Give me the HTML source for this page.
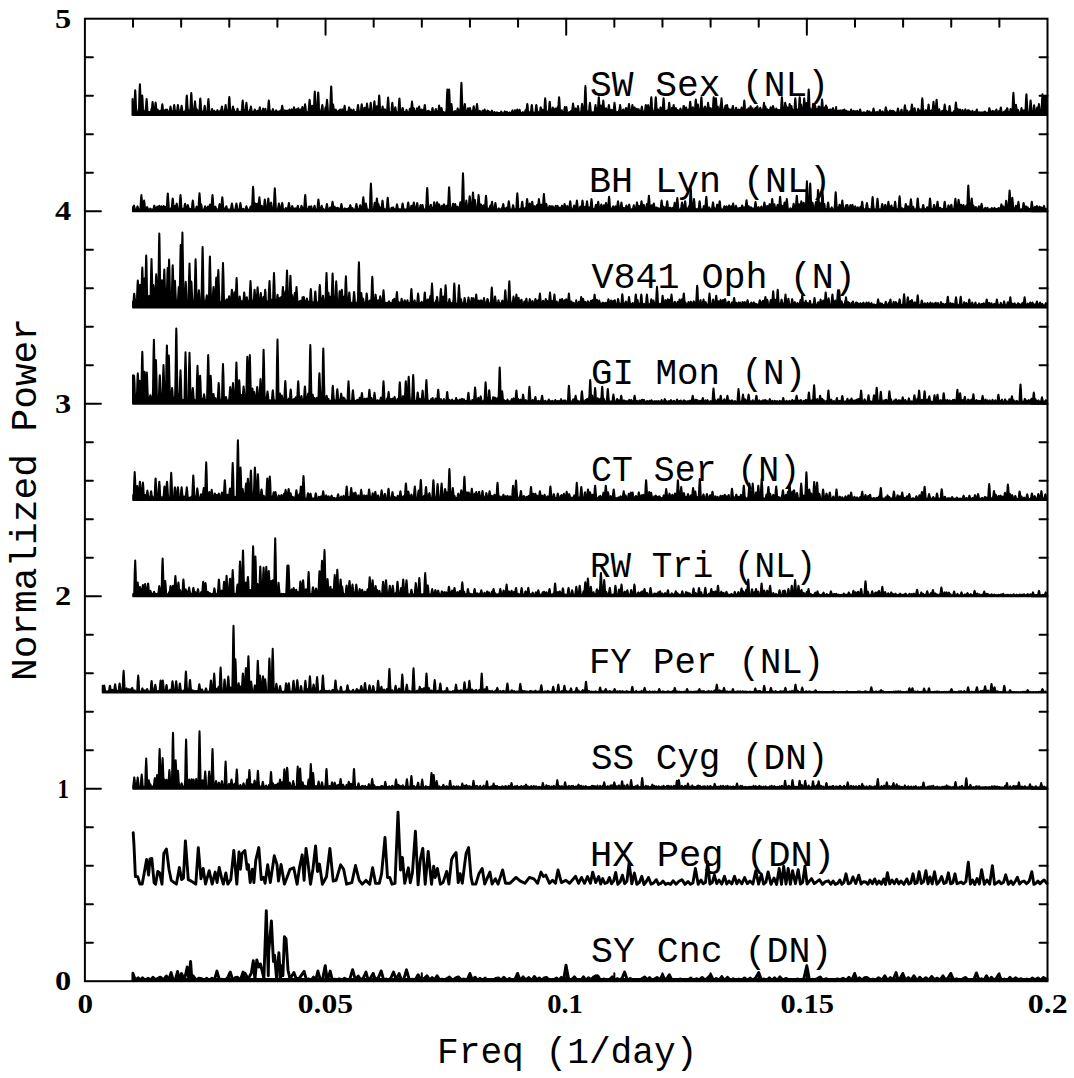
<!DOCTYPE html>
<html><head><meta charset="utf-8"><style>
html,body{margin:0;padding:0;background:#fff;}
svg{display:block;}
</style></head><body>
<svg width="1074" height="1078" viewBox="0 0 1074 1078">
<rect width="1074" height="1078" fill="#fff"/>
<g fill="#000" stroke="#000" stroke-width="2" stroke-linejoin="round" stroke-linecap="round">
<path d="M132.5 115.0L132.5 99.0 132.5 112.5 133.0 112.1 133.5 111.9 134.0 112.4 134.5 103.7 135.0 92.3 135.2 90.2 135.5 94.0 136.0 106.7 136.5 112.2 137.0 112.2 137.5 112.3 138.0 112.4 138.5 112.4 139.0 108.6 139.5 91.4 139.9 84.2 140.0 85.1 140.5 97.5 141.0 112.1 141.5 106.1 142.0 97.0 142.2 95.4 142.5 98.4 143.0 108.4 143.5 111.7 144.0 112.2 144.5 111.8 145.0 112.2 145.5 112.0 146.0 106.0 146.5 99.6 146.6 99.1 147.0 102.8 147.5 111.7 148.0 111.8 148.5 111.9 149.0 112.1 149.5 112.1 150.0 111.9 150.5 111.7 151.0 111.5 151.5 109.0 152.0 107.6 152.5 102.4 152.6 102.0 153.0 105.1 153.5 111.5 154.0 112.1 154.5 112.0 155.0 107.9 155.5 102.9 155.6 102.5 156.0 105.4 156.5 111.8 157.0 109.2 157.5 112.1 158.0 110.8 158.2 110.3 158.5 110.9 159.0 111.6 159.5 111.7 160.0 112.2 160.5 110.8 160.6 110.7 161.0 111.7 161.5 111.4 162.0 105.9 162.3 104.3 162.5 105.2 163.0 110.1 163.5 111.8 164.0 112.4 164.5 111.7 165.0 110.3 165.3 109.7 165.5 110.3 166.0 111.9 166.5 111.4 167.0 109.5 167.0 109.5 167.5 111.3 168.0 112.2 168.5 111.7 169.0 111.9 169.5 111.8 170.0 109.3 170.5 106.5 171.0 109.3 171.5 112.2 172.0 111.7 172.5 111.7 173.0 111.9 173.5 110.4 174.0 105.8 174.2 105.0 174.5 106.5 175.0 111.7 175.5 111.8 176.0 111.6 176.5 111.7 177.0 112.3 177.5 107.4 177.9 105.0 178.0 105.3 178.5 109.3 179.0 112.0 179.5 112.0 180.0 112.3 180.5 112.5 181.0 109.8 181.5 106.1 181.6 105.8 182.0 108.0 182.5 111.7 183.0 112.0 183.5 112.5 184.0 112.5 184.5 111.6 185.0 111.8 185.5 111.7 186.0 108.4 186.5 98.4 186.8 95.4 187.0 97.0 187.5 106.1 188.0 111.9 188.5 110.3 189.0 111.9 189.5 111.6 190.0 112.4 190.5 107.7 191.0 96.4 191.3 93.1 191.5 94.9 192.0 105.0 192.5 112.0 193.0 112.4 193.5 112.2 194.0 112.4 194.5 105.8 195.0 101.3 195.5 105.8 196.0 109.9 196.5 111.7 197.0 109.6 197.1 109.5 197.5 110.9 198.0 112.1 198.5 112.5 199.0 112.3 199.5 109.4 200.0 100.9 200.3 98.4 200.5 99.8 201.0 107.4 201.5 112.4 202.0 111.6 202.5 111.7 203.0 111.6 203.5 111.6 204.0 110.8 204.5 106.6 204.7 105.8 205.0 107.2 205.5 111.9 206.0 111.6 206.5 112.0 207.0 112.0 207.5 111.7 208.0 102.8 208.4 99.1 208.5 99.6 209.0 106.0 209.5 112.5 210.0 112.2 210.5 112.3 211.0 112.3 211.5 111.7 212.0 109.2 212.1 109.0 212.5 110.3 213.0 111.7 213.5 112.0 214.0 111.0 214.2 110.7 214.5 111.4 215.0 111.6 215.5 111.9 216.0 112.1 216.5 112.2 217.0 111.3 217.4 110.1 217.5 110.2 218.0 111.9 218.5 111.9 219.0 111.7 219.5 112.3 220.0 111.5 220.4 110.5 220.5 110.6 221.0 111.8 221.5 108.5 221.9 106.5 222.0 106.7 222.5 110.2 223.0 112.2 223.5 112.4 224.0 112.4 224.5 111.6 225.0 109.3 225.5 105.3 225.6 105.0 226.0 107.4 226.5 111.5 227.0 112.1 227.5 112.5 228.0 111.7 228.5 108.9 229.0 99.7 229.3 96.9 229.5 98.4 230.0 106.8 230.5 112.4 231.0 112.0 231.5 112.1 232.0 112.2 232.5 109.3 233.0 106.5 233.5 109.3 234.0 109.5 234.5 112.3 235.0 112.4 235.5 111.9 236.0 111.7 236.5 112.4 237.0 110.8 237.5 108.8 238.0 110.8 238.5 112.1 239.0 111.6 239.5 111.8 240.0 112.1 240.5 112.4 241.0 111.7 241.5 111.5 242.0 108.4 242.5 101.8 242.7 100.6 243.0 102.8 243.5 110.1 244.0 109.6 244.5 111.9 245.0 111.9 245.5 112.1 246.0 105.7 246.4 102.8 246.5 103.2 247.0 108.1 247.5 112.4 248.0 111.8 248.5 112.5 249.0 112.3 249.5 111.6 250.0 110.2 250.5 108.5 250.9 106.5 251.0 106.7 251.5 110.2 252.0 112.2 252.5 111.5 253.0 112.3 253.5 111.8 254.0 111.7 254.5 110.2 254.8 109.5 255.0 110.1 255.5 112.0 256.0 112.1 256.5 112.2 257.0 111.7 257.4 110.7 257.5 110.8 258.0 112.1 258.5 111.6 259.0 112.4 259.5 108.5 259.8 107.3 260.0 107.9 260.5 111.5 261.0 111.9 261.5 111.5 262.0 112.3 262.5 111.5 263.0 109.1 263.2 108.6 263.5 109.5 264.0 111.7 264.5 111.6 265.0 109.9 265.4 108.8 265.5 109.1 266.0 111.8 266.5 111.9 267.0 111.7 267.5 111.8 268.0 110.2 268.5 102.8 268.8 100.6 269.0 101.8 269.5 108.4 270.0 112.0 270.5 111.1 270.5 111.1 271.0 111.6 271.5 111.9 272.0 111.9 272.5 110.5 272.9 109.1 273.0 109.3 273.5 111.6 274.0 112.2 274.5 111.8 275.0 112.2 275.5 111.7 276.0 110.7 276.2 110.3 276.5 111.0 277.0 112.5 277.5 112.3 278.0 111.8 278.5 111.9 279.0 111.6 279.5 112.1 280.0 111.5 280.4 110.5 280.5 110.7 281.0 111.6 281.5 110.8 282.0 106.6 282.2 105.8 282.5 107.2 283.0 110.2 283.5 111.8 284.0 112.0 284.5 111.2 284.9 110.3 285.0 110.5 285.5 111.9 286.0 111.8 286.5 112.0 287.0 110.5 287.0 110.5 287.5 111.9 288.0 112.0 288.5 111.9 289.0 110.6 289.4 109.5 289.5 109.7 290.0 112.0 290.5 112.1 291.0 112.5 291.5 109.9 291.7 109.4 292.0 110.2 292.5 111.6 293.0 112.2 293.5 109.8 294.0 107.3 294.5 109.8 295.0 112.1 295.5 112.4 296.0 112.0 296.5 109.2 297.0 111.6 297.5 112.1 298.0 109.4 298.3 108.2 298.5 108.6 299.0 111.6 299.5 112.0 300.0 112.4 300.5 110.0 300.7 109.5 301.0 110.3 301.5 112.3 302.0 108.8 302.4 106.9 302.5 107.1 303.0 110.4 303.5 112.3 304.0 111.8 304.5 108.9 305.0 104.6 305.1 104.3 305.5 106.8 306.0 111.7 306.5 112.2 307.0 112.5 307.5 112.2 308.0 112.2 308.5 111.9 309.0 106.4 309.5 100.2 309.6 99.8 310.0 103.4 310.5 111.9 311.0 111.9 311.5 109.0 312.0 106.2 312.1 105.7 312.5 107.5 313.0 112.3 313.5 111.5 314.0 107.2 314.5 95.2 314.8 91.6 315.0 93.5 315.5 104.3 316.0 112.5 316.5 112.5 317.0 112.4 317.5 104.7 318.0 94.3 318.2 92.4 318.5 95.9 319.0 107.4 319.5 110.6 320.0 111.6 320.5 112.3 321.0 112.5 321.5 111.7 322.0 106.5 322.3 105.0 322.5 105.8 323.0 110.4 323.5 112.3 324.0 111.7 324.5 112.5 325.0 111.0 325.5 107.7 325.6 107.3 326.0 108.9 326.5 104.8 327.0 99.8 327.5 104.8 328.0 112.4 328.5 111.7 329.0 112.4 329.5 112.3 330.0 112.3 330.5 102.0 331.0 88.8 331.2 86.4 331.5 90.8 332.0 105.4 332.5 109.2 333.0 104.9 333.1 104.5 333.5 106.8 334.0 111.8 334.5 110.8 335.0 112.4 335.5 110.0 335.7 109.5 336.0 110.3 336.5 112.1 337.0 111.8 337.5 111.7 338.0 112.1 338.5 110.8 339.0 112.5 339.5 111.9 340.0 109.7 340.1 109.5 340.5 110.8 341.0 112.6 341.5 111.9 342.0 109.9 342.2 109.4 342.5 110.2 343.0 112.5 343.5 111.7 344.0 109.8 344.5 106.1 344.6 105.8 345.0 108.0 345.5 112.3 346.0 111.8 346.5 112.6 347.0 112.3 347.5 112.3 348.0 112.2 348.5 110.6 349.0 107.5 349.1 107.3 349.5 109.1 350.0 112.0 350.5 109.7 350.9 109.5 351.0 109.6 351.5 111.7 352.0 112.4 352.5 111.8 353.0 111.3 353.5 109.5 354.0 111.3 354.5 112.0 355.0 111.9 355.5 112.5 356.0 111.9 356.5 112.6 357.0 111.8 357.5 108.3 358.0 105.0 358.5 108.3 359.0 112.5 359.5 112.3 360.0 112.0 360.5 111.8 361.0 110.1 361.5 105.2 361.7 104.3 362.0 105.9 362.5 111.4 363.0 112.5 363.5 112.3 364.0 110.1 364.5 107.8 364.5 107.8 365.0 110.3 365.5 112.6 366.0 111.8 366.5 107.3 367.0 103.6 367.5 107.3 368.0 112.4 368.5 110.5 368.8 109.6 369.0 110.0 369.5 112.0 370.0 109.4 370.5 103.8 370.7 102.8 371.0 104.7 371.5 110.9 372.0 112.5 372.5 112.6 373.0 112.2 373.5 112.2 374.0 104.5 374.4 101.3 374.5 101.7 375.0 107.2 375.5 112.1 376.0 111.8 376.5 109.1 377.0 106.2 377.5 109.1 378.0 112.0 378.5 106.1 379.0 97.0 379.2 95.4 379.5 98.4 380.0 108.4 380.5 111.9 381.0 112.2 381.5 112.0 382.0 110.2 382.5 106.7 382.6 106.5 383.0 108.5 383.5 112.2 384.0 112.6 384.5 111.0 385.0 109.4 385.0 109.4 385.5 111.4 386.0 112.7 386.5 112.4 387.0 112.6 387.5 105.1 388.0 98.1 388.1 97.6 388.5 101.7 389.0 111.4 389.5 112.6 390.0 112.7 390.5 112.2 391.0 112.7 391.5 110.9 392.0 104.7 392.3 102.8 392.5 103.8 393.0 109.4 393.5 112.5 394.0 112.2 394.5 112.0 395.0 108.5 395.3 107.3 395.5 107.9 396.0 111.5 396.5 112.0 397.0 112.8 397.5 112.5 398.0 112.1 398.5 111.6 399.0 102.3 399.4 98.4 399.5 98.9 400.0 105.6 400.5 112.5 401.0 112.0 401.5 112.4 402.0 111.8 402.5 108.6 402.7 108.0 403.0 109.1 403.5 112.7 404.0 112.5 404.5 112.1 405.0 112.8 405.5 112.6 406.0 111.5 406.5 109.8 407.0 111.5 407.5 112.2 408.0 112.4 408.5 112.2 409.0 111.9 409.5 110.5 409.9 108.7 410.0 108.8 410.5 111.1 411.0 112.1 411.5 106.0 412.0 101.6 412.5 106.0 413.0 112.6 413.5 109.4 413.8 108.2 414.0 108.7 414.5 111.7 415.0 111.9 415.5 111.9 416.0 112.4 416.5 110.6 417.0 108.3 417.0 108.3 417.5 110.5 418.0 112.1 418.5 110.2 419.0 106.7 419.1 106.5 419.5 108.5 420.0 112.3 420.5 112.2 421.0 112.0 421.5 109.6 421.7 109.9 422.0 109.8 422.5 112.8 423.0 112.2 423.5 112.6 424.0 109.6 424.5 106.5 424.8 105.0 425.0 105.8 425.5 110.4 426.0 112.4 426.5 111.9 427.0 111.7 427.2 111.4 427.5 111.9 428.0 111.8 428.4 110.7 428.5 110.7 429.0 111.0 429.5 112.4 430.0 112.5 430.5 112.0 431.0 112.1 431.5 112.0 432.0 110.3 432.5 108.0 433.0 110.3 433.5 112.2 434.0 112.6 434.5 112.1 435.0 112.1 435.5 109.8 435.8 109.0 436.0 109.6 436.5 112.4 437.0 112.3 437.5 112.3 438.0 112.4 438.5 109.7 439.0 105.8 439.1 105.5 439.5 107.6 440.0 112.9 440.5 112.7 441.0 110.3 441.5 108.0 442.0 110.3 442.5 112.9 443.0 112.5 443.5 112.1 444.0 112.5 444.5 112.6 445.0 112.6 445.5 112.5 446.0 112.7 446.5 109.7 447.0 95.4 447.4 89.4 447.5 90.2 448.0 100.5 448.5 100.5 449.0 90.2 449.1 89.4 449.5 95.4 450.0 109.7 450.5 112.2 451.0 106.5 451.4 103.9 451.5 104.2 452.0 108.7 452.5 112.6 453.0 112.9 453.5 112.2 454.0 112.3 454.5 112.4 455.0 110.9 455.1 110.9 455.5 112.0 456.0 112.6 456.5 112.5 457.0 111.8 457.5 108.9 457.7 108.4 458.0 109.6 458.5 112.7 459.0 112.6 459.5 112.5 460.0 110.1 460.5 108.3 461.0 90.3 461.4 82.7 461.5 83.6 462.0 96.7 462.5 112.8 463.0 112.7 463.5 112.3 464.0 111.3 464.5 105.6 464.8 103.9 465.0 104.8 465.5 109.9 466.0 113.0 466.5 112.8 467.0 112.5 467.5 110.6 468.0 108.2 468.0 108.2 468.5 110.2 469.0 112.5 469.5 110.2 470.0 107.9 470.5 110.3 471.0 113.1 471.5 112.8 472.0 111.2 472.5 112.5 473.0 111.0 473.5 106.9 473.7 106.2 474.0 107.5 474.5 111.6 475.0 113.0 475.5 112.8 476.0 112.5 476.5 107.5 477.0 103.9 477.5 107.5 478.0 112.9 478.5 113.0 479.0 112.9 479.5 111.5 479.8 110.8 480.0 111.2 480.5 113.1 481.0 113.3 481.5 113.3 482.0 112.5 482.5 110.7 482.6 110.6 483.0 111.6 483.5 113.2 484.0 111.9 484.5 109.7 484.6 109.5 485.0 110.8 485.5 113.0 486.0 112.9 486.5 113.2 487.0 111.7 487.4 110.6 487.5 110.6 488.0 111.4 488.5 113.0 489.0 111.4 489.4 112.7 489.5 112.7 490.0 112.3 490.5 113.3 491.0 113.4 491.5 111.6 491.9 110.6 492.0 110.8 492.5 112.6 493.0 113.3 493.5 112.9 494.0 113.1 494.5 112.0 494.5 112.0 495.0 112.9 495.5 113.3 496.0 113.0 496.5 113.0 496.9 112.3 497.0 112.3 497.5 113.1 498.0 113.5 498.5 113.0 499.0 113.0 499.5 113.4 500.0 113.2 500.5 113.1 501.0 111.9 501.2 111.5 501.5 111.9 502.0 113.6 502.5 113.5 503.0 113.5 503.5 113.3 504.0 113.2 504.5 111.9 504.8 111.4 505.0 111.7 505.5 113.5 506.0 113.4 506.5 112.5 506.9 111.8 507.0 111.9 507.5 113.1 508.0 113.1 508.5 113.2 509.0 113.3 509.5 112.6 509.7 112.4 510.0 112.8 510.5 113.1 511.0 113.2 511.5 113.1 512.0 111.6 512.5 110.3 512.5 110.3 513.0 112.0 513.5 113.2 514.0 113.2 514.5 111.6 515.0 110.2 515.0 110.2 515.5 111.9 516.0 113.4 516.5 112.9 517.0 110.3 517.3 109.5 517.5 110.0 518.0 112.5 518.5 113.2 519.0 112.0 519.5 109.9 519.6 109.8 520.0 111.1 520.5 113.5 521.0 113.1 521.5 113.0 522.0 113.2 522.5 112.5 522.8 112.1 523.0 112.5 523.5 113.4 524.0 112.9 524.5 113.2 525.0 112.1 525.5 110.2 525.6 110.1 526.0 111.3 526.5 111.3 527.0 105.6 527.3 103.9 527.5 104.8 528.0 109.9 528.5 113.0 529.0 113.4 529.5 112.4 530.0 113.0 530.5 112.9 531.0 111.7 531.5 106.5 531.8 105.0 532.0 105.8 532.5 110.4 533.0 113.0 533.5 113.1 534.0 112.8 534.5 113.4 535.0 112.9 535.5 111.7 536.0 106.5 536.3 105.0 536.5 105.8 537.0 110.4 537.5 112.9 538.0 111.7 538.0 111.7 538.5 112.7 539.0 112.8 539.5 113.4 540.0 111.5 540.5 107.9 540.7 107.3 541.0 108.5 541.5 112.0 542.0 110.8 542.3 109.8 542.5 110.1 543.0 112.4 543.5 113.2 544.0 112.9 544.5 107.4 545.0 99.7 545.2 98.3 545.5 100.9 546.0 109.4 546.5 111.4 547.0 113.1 547.5 113.2 548.0 112.9 548.5 113.2 549.0 108.9 549.5 102.8 549.7 101.7 550.0 103.7 550.5 110.5 551.0 113.2 551.5 112.8 552.0 112.4 552.5 108.6 552.8 107.5 553.0 108.2 553.5 111.7 554.0 112.8 554.5 112.8 555.0 109.4 555.3 108.4 555.5 108.9 556.0 112.0 556.5 113.1 557.0 110.1 557.5 107.4 557.5 107.3 558.0 109.5 558.5 104.9 559.0 97.7 559.1 97.2 559.5 101.4 560.0 111.3 560.5 113.3 561.0 112.6 561.5 110.5 561.7 110.2 562.0 111.0 562.5 112.8 563.0 113.0 563.5 113.2 564.0 112.1 564.5 108.8 564.9 107.1 565.0 107.5 565.5 110.8 566.0 108.2 566.3 107.0 566.5 107.7 567.0 111.5 567.5 113.1 568.0 112.8 568.5 112.8 569.0 112.5 569.3 112.0 569.5 112.3 570.0 112.9 570.5 112.6 571.0 111.1 571.2 110.7 571.5 111.3 572.0 112.6 572.5 107.6 573.0 103.5 573.0 103.4 573.5 106.9 574.0 112.5 574.5 113.0 575.0 109.7 575.4 108.4 575.5 108.7 576.0 110.7 576.5 113.0 577.0 112.8 577.5 109.0 578.0 106.0 578.0 106.0 578.5 108.9 579.0 113.0 579.5 112.8 580.0 113.0 580.5 113.1 581.0 112.6 581.5 108.7 582.0 104.2 582.1 103.9 582.5 106.5 583.0 112.7 583.5 112.7 584.0 112.6 584.5 109.0 585.0 92.9 585.4 86.1 585.5 86.9 586.0 98.6 586.5 112.5 587.0 112.8 587.5 112.4 588.0 111.2 588.5 112.7 589.0 112.3 589.5 105.7 589.9 102.8 590.0 103.2 590.5 108.1 591.0 113.0 591.5 112.6 592.0 112.9 592.5 112.3 593.0 112.7 593.5 112.3 594.0 112.8 594.5 112.9 595.0 108.3 595.5 105.0 596.0 108.3 596.5 112.7 597.0 112.3 597.5 112.2 598.0 109.0 598.5 99.9 598.8 97.2 599.0 98.7 599.5 106.9 600.0 112.0 600.5 107.5 600.9 105.6 601.0 106.1 601.5 110.2 602.0 112.4 602.5 110.2 603.0 102.8 603.3 100.6 603.5 101.8 604.0 108.4 604.5 111.9 605.0 112.3 605.5 110.4 606.0 108.2 606.0 108.2 606.5 110.5 607.0 112.5 607.5 112.2 608.0 110.5 608.5 107.4 608.9 105.0 609.0 105.3 609.5 109.3 610.0 111.9 610.5 112.2 611.0 110.6 611.5 110.5 611.8 109.9 612.0 110.4 612.5 112.0 613.0 112.4 613.5 112.4 614.0 106.8 614.5 102.8 615.0 106.8 615.5 111.7 616.0 111.8 616.5 112.2 617.0 112.2 617.5 112.3 618.0 111.9 618.5 112.4 619.0 110.6 619.5 109.3 620.0 105.3 620.1 105.0 620.5 107.4 621.0 112.4 621.5 112.5 622.0 112.3 622.5 111.7 623.0 109.9 623.2 109.5 623.5 110.4 624.0 112.4 624.5 111.7 625.0 111.7 625.5 109.6 625.9 108.0 626.0 108.3 626.5 111.1 627.0 108.8 627.5 111.5 628.0 112.2 628.5 107.5 629.0 103.9 629.5 107.5 630.0 112.3 630.5 111.6 631.0 111.6 631.5 111.5 632.0 107.4 632.4 105.0 632.5 105.3 633.0 109.3 633.5 111.6 634.0 110.5 634.5 107.5 634.6 107.3 635.0 109.2 635.5 111.0 636.0 111.3 636.5 109.6 636.8 108.7 637.0 109.3 637.5 111.2 638.0 111.6 638.5 109.6 638.7 109.2 639.0 110.2 639.5 111.9 640.0 111.8 640.5 111.6 641.0 111.2 641.5 108.3 641.9 106.6 642.0 107.1 642.5 110.7 643.0 111.3 643.5 111.7 644.0 111.8 644.5 112.0 645.0 110.9 645.5 106.5 645.8 105.0 646.0 105.8 646.5 110.4 647.0 111.6 647.5 110.4 648.0 105.9 648.2 105.1 648.5 106.7 649.0 111.0 649.5 110.9 650.0 111.2 650.5 109.0 651.0 99.9 651.3 97.2 651.5 98.7 652.0 106.9 652.5 111.5 653.0 111.2 653.5 111.5 654.0 111.7 654.5 111.3 655.0 109.0 655.5 99.9 655.8 97.2 656.0 98.7 656.5 106.9 657.0 111.5 657.5 111.1 658.0 109.5 658.0 109.6 658.5 111.0 659.0 111.7 659.5 110.6 660.0 110.4 660.5 107.5 660.6 107.3 661.0 109.4 661.5 111.0 662.0 108.1 662.5 110.4 663.0 105.5 663.5 98.8 663.6 98.3 664.0 102.2 664.5 111.5 665.0 110.7 665.5 110.9 666.0 110.9 666.5 111.1 667.0 110.3 667.5 111.3 668.0 110.2 668.5 109.4 669.0 103.8 669.2 102.8 669.5 104.7 670.0 110.9 670.5 110.1 671.0 111.2 671.5 110.7 672.0 107.8 672.5 111.5 673.0 110.4 673.5 105.8 673.7 105.0 674.0 106.5 674.5 111.0 675.0 110.9 675.5 110.1 676.0 108.1 676.0 108.1 676.5 110.5 677.0 109.9 677.5 110.0 678.0 110.4 678.5 111.0 679.0 110.8 679.5 110.8 680.0 110.0 680.4 108.4 680.5 108.6 681.0 110.4 681.5 110.7 682.0 111.1 682.5 110.3 683.0 110.8 683.5 106.2 684.0 106.0 684.0 106.0 684.5 109.4 685.0 110.1 685.5 111.2 686.0 107.9 686.2 107.5 686.5 108.9 687.0 109.7 687.5 110.8 688.0 110.8 688.5 109.9 689.0 109.8 689.5 107.9 690.0 102.8 690.2 101.7 690.5 103.7 691.0 110.0 691.5 109.8 692.0 110.3 692.5 108.2 692.8 107.2 693.0 108.0 693.5 111.0 694.0 109.6 694.5 110.5 695.0 109.8 695.5 101.9 695.8 99.5 696.0 100.8 696.5 107.9 697.0 110.1 697.5 106.4 697.8 104.4 698.0 105.0 698.5 109.7 699.0 110.5 699.5 110.3 700.0 109.6 700.5 110.4 701.0 101.4 701.4 97.2 701.5 97.7 702.0 104.9 702.5 110.1 703.0 111.0 703.5 109.6 704.0 110.3 704.5 108.0 705.0 106.5 705.0 106.4 705.5 108.9 706.0 109.6 706.5 111.0 707.0 110.2 707.5 108.1 708.0 103.2 708.1 102.8 708.5 105.7 709.0 110.3 709.5 110.6 710.0 110.2 710.5 108.1 710.5 108.2 711.0 110.6 711.5 109.6 712.0 110.6 712.5 109.6 713.0 106.9 713.5 98.7 713.7 97.2 714.0 99.9 714.5 109.0 715.0 111.0 715.5 102.2 715.9 98.3 716.0 98.8 716.5 105.5 717.0 111.1 717.5 107.6 717.8 106.7 718.0 107.6 718.5 110.5 719.0 109.9 719.5 110.3 720.0 110.1 720.5 105.7 721.0 103.8 721.5 98.3 722.0 103.8 722.5 111.1 723.0 110.2 723.5 110.5 724.0 110.2 724.5 109.1 724.9 107.5 725.0 107.9 725.5 105.5 726.0 110.0 726.5 109.3 727.0 105.3 727.1 105.0 727.5 107.4 728.0 109.6 728.5 108.7 728.6 108.4 729.0 109.9 729.5 110.7 730.0 110.3 730.5 109.6 731.0 111.0 731.5 111.1 732.0 109.7 732.5 107.1 732.7 107.3 733.0 106.0 733.5 109.9 734.0 110.7 734.5 111.0 735.0 110.5 735.5 110.6 736.0 107.9 736.1 107.8 736.5 109.7 737.0 110.4 737.5 110.0 738.0 110.1 738.3 109.5 738.5 110.0 739.0 110.6 739.5 109.9 740.0 110.8 740.5 110.8 741.0 110.4 741.5 107.6 741.5 107.6 742.0 109.7 742.5 110.6 743.0 110.5 743.5 110.1 744.0 102.8 744.3 100.6 744.5 101.8 745.0 108.4 745.5 110.9 746.0 110.2 746.5 109.5 747.0 110.8 747.5 111.1 748.0 109.9 748.4 108.3 748.5 108.5 749.0 109.6 749.5 109.6 750.0 110.0 750.5 106.5 750.6 106.2 751.0 108.3 751.5 110.1 752.0 110.1 752.5 108.4 752.6 108.2 753.0 109.9 753.5 110.2 754.0 110.9 754.5 110.3 755.0 109.0 755.0 109.0 755.5 107.8 756.0 109.9 756.5 110.4 757.0 107.5 757.3 106.2 757.5 106.9 758.0 109.7 758.5 110.9 759.0 110.7 759.5 110.6 760.0 108.8 760.3 107.7 760.5 108.3 761.0 110.0 761.5 110.1 762.0 110.7 762.5 109.8 763.0 110.2 763.5 106.8 764.0 102.8 764.5 106.8 765.0 110.5 765.5 106.5 766.0 110.9 766.5 110.5 767.0 109.6 767.2 109.1 767.5 109.9 768.0 110.2 768.5 111.0 769.0 110.0 769.5 109.6 770.0 110.0 770.5 107.9 770.7 107.3 771.0 108.5 771.5 110.5 772.0 111.0 772.5 110.2 773.0 106.1 773.1 107.1 773.5 107.4 774.0 111.1 774.5 109.8 775.0 111.0 775.5 111.0 776.0 109.4 776.3 108.4 776.5 108.9 777.0 109.9 777.5 109.7 778.0 111.0 778.5 110.4 779.0 110.1 779.5 110.6 780.0 109.9 780.5 109.9 781.0 110.9 781.5 101.4 781.9 97.2 782.0 97.7 782.5 104.9 783.0 110.8 783.5 110.8 784.0 110.2 784.5 109.4 785.0 103.8 785.2 102.8 785.5 104.7 786.0 105.9 786.5 109.6 787.0 110.4 787.5 107.6 788.0 110.3 788.5 110.1 789.0 109.9 789.5 104.8 789.7 103.9 790.0 105.6 790.5 111.1 791.0 110.1 791.5 106.0 791.7 108.0 792.0 108.9 792.5 110.6 793.0 111.0 793.5 110.6 794.0 109.8 794.5 109.4 795.0 100.9 795.3 98.3 795.5 99.7 796.0 107.4 796.5 109.8 797.0 110.7 797.5 110.1 798.0 111.0 798.5 110.0 799.0 106.9 799.5 98.7 799.7 97.2 800.0 99.9 800.5 108.8 801.0 104.8 801.1 104.6 801.5 107.3 802.0 109.5 802.5 110.4 803.0 110.8 803.5 107.4 804.0 99.7 804.2 98.3 804.5 100.9 805.0 109.4 805.5 110.3 806.0 108.8 806.5 103.6 806.6 102.9 807.0 105.3 807.5 110.3 808.0 103.3 808.5 91.5 808.7 89.4 809.0 93.3 809.5 106.4 810.0 109.6 810.5 110.2 811.0 109.7 811.5 109.5 812.0 110.8 812.5 108.7 813.0 104.2 813.1 103.9 813.5 106.5 814.0 110.0 814.5 108.7 815.0 104.9 815.0 104.8 815.5 107.7 816.0 111.0 816.5 109.9 816.8 109.3 817.0 109.5 817.5 110.4 818.0 109.5 818.5 106.6 819.0 108.5 819.4 106.7 819.5 107.0 820.0 110.3 820.5 110.9 821.0 110.7 821.5 106.2 822.0 100.0 822.1 99.5 822.5 103.1 823.0 109.7 823.5 110.8 824.0 110.6 824.5 109.8 825.0 107.3 825.5 109.8 826.0 105.5 826.5 107.9 826.8 107.0 827.0 107.9 827.5 110.3 828.0 111.0 828.5 110.0 829.0 110.5 829.5 110.8 830.0 109.5 830.5 110.0 831.0 109.5 831.5 110.2 832.0 110.6 832.5 109.9 833.0 108.4 833.1 108.1 833.5 109.5 834.0 110.3 834.5 110.6 835.0 110.9 835.5 111.2 836.0 110.3 836.1 107.1 836.5 111.0 837.0 110.6 837.5 111.4 838.0 111.1 838.5 111.4 838.9 110.5 839.0 110.7 839.5 111.3 840.0 111.4 840.5 111.2 840.9 110.4 841.0 110.5 841.5 111.4 842.0 112.0 842.5 111.7 843.0 110.1 843.5 112.3 844.0 110.8 844.4 109.5 844.5 109.7 845.0 111.9 845.5 112.1 846.0 112.1 846.5 110.7 847.0 112.1 847.5 113.0 848.0 112.9 848.5 111.9 848.7 111.6 849.0 112.2 849.5 112.7 850.0 112.9 850.5 111.9 851.0 109.7 851.1 109.5 851.5 110.8 852.0 112.7 852.5 112.7 853.0 112.6 853.5 110.9 853.6 110.7 854.0 111.7 854.5 112.8 855.0 112.5 855.5 111.2 856.0 112.4 856.5 113.0 857.0 111.6 857.3 110.9 857.5 111.2 858.0 113.1 858.5 112.7 859.0 113.0 859.5 111.9 860.0 109.7 860.1 109.5 860.5 110.8 861.0 112.6 861.5 112.7 862.0 112.7 862.5 113.0 863.0 112.6 863.5 112.4 863.6 112.2 864.0 112.5 864.5 112.5 865.0 112.6 865.5 113.1 866.0 112.8 866.5 112.9 867.0 111.9 867.4 110.9 867.5 111.1 868.0 112.6 868.5 113.0 869.0 112.9 869.3 112.4 869.5 111.4 870.0 112.9 870.5 113.0 871.0 113.0 871.5 112.6 872.0 112.8 872.5 113.2 873.0 110.6 873.5 108.4 874.0 110.6 874.5 112.5 875.0 112.6 875.5 112.6 876.0 112.6 876.5 113.2 877.0 112.2 877.2 111.8 877.5 112.2 878.0 113.2 878.5 112.8 879.0 113.2 879.5 111.2 879.9 110.0 880.0 110.1 880.5 112.1 881.0 113.0 881.5 112.6 882.0 112.6 882.5 111.5 882.6 111.4 883.0 112.3 883.5 112.8 884.0 112.7 884.5 112.8 885.0 112.4 885.5 108.5 885.8 107.3 886.0 107.9 886.5 111.5 887.0 112.5 887.5 111.3 888.0 112.5 888.5 112.8 889.0 113.1 889.5 112.6 890.0 110.7 890.1 110.5 890.5 110.7 891.0 113.0 891.5 113.0 892.0 111.1 892.2 110.8 892.5 111.5 893.0 113.0 893.5 111.0 894.0 112.1 894.2 111.9 894.5 111.8 895.0 112.9 895.5 112.8 896.0 113.0 896.5 113.2 897.0 112.7 897.5 110.6 898.0 108.4 898.5 110.6 899.0 113.1 899.5 113.0 900.0 112.9 900.5 113.1 901.0 111.2 901.5 109.6 901.5 109.6 902.0 111.6 902.5 113.1 903.0 113.1 903.5 112.9 904.0 112.6 904.5 107.6 904.9 105.3 905.0 105.6 905.5 109.5 906.0 113.0 906.5 113.2 907.0 111.1 907.2 110.6 907.5 111.2 908.0 113.1 908.5 112.9 909.0 113.2 909.5 112.8 910.0 111.3 910.5 111.1 911.0 112.9 911.5 107.0 911.9 104.6 912.0 104.9 912.5 109.1 913.0 112.8 913.5 113.0 914.0 111.1 914.5 108.4 914.6 108.2 915.0 109.9 915.5 113.1 916.0 112.7 916.5 113.2 917.0 112.7 917.5 112.2 918.0 109.3 918.2 108.8 918.5 109.7 919.0 112.9 919.5 111.9 920.0 110.5 920.0 110.5 920.5 112.1 921.0 112.9 921.5 109.4 922.0 100.9 922.3 98.3 922.5 99.7 923.0 107.4 923.5 112.5 924.0 112.6 924.5 112.4 925.0 112.9 925.5 110.9 925.8 110.1 926.0 110.5 926.5 112.7 927.0 112.5 927.5 112.6 928.0 109.1 928.5 104.9 928.6 104.6 929.0 107.0 929.5 112.8 930.0 112.9 930.5 110.9 931.0 112.8 931.5 111.0 931.9 110.1 932.0 110.3 932.5 112.5 933.0 106.1 933.5 101.8 934.0 106.1 934.5 113.0 935.0 112.8 935.5 112.6 936.0 106.3 936.5 100.1 936.6 99.7 937.0 103.3 937.5 111.8 938.0 112.4 938.5 112.5 939.0 109.8 939.2 109.3 939.5 110.1 940.0 113.0 940.5 112.8 941.0 112.7 941.5 112.6 942.0 111.3 942.3 110.7 942.5 111.1 943.0 113.2 943.5 112.6 944.0 110.3 944.5 105.5 944.7 104.6 945.0 106.2 945.5 111.5 946.0 113.0 946.5 110.9 947.0 113.1 947.5 112.7 948.0 113.1 948.5 112.9 949.0 109.9 949.5 106.3 949.6 106.0 950.0 108.1 950.5 113.0 951.0 112.7 951.5 112.9 952.0 112.9 952.5 112.7 953.0 112.6 953.5 112.2 954.0 111.1 954.0 111.1 954.5 112.6 955.0 112.4 955.5 105.4 955.9 102.5 956.0 102.9 956.5 107.9 957.0 112.7 957.5 110.6 957.9 109.1 958.0 109.3 958.5 111.6 959.0 111.6 959.5 111.3 960.0 109.5 960.5 111.3 961.0 112.9 961.5 112.5 962.0 111.8 962.5 110.0 962.5 109.9 963.0 111.4 963.5 112.5 964.0 112.4 964.5 112.6 965.0 110.5 965.4 109.4 965.5 109.7 966.0 111.2 966.5 113.1 967.0 113.0 967.5 112.4 968.0 110.3 968.0 111.4 968.5 112.5 969.0 110.4 969.5 112.5 970.0 111.2 970.0 111.2 970.5 112.4 971.0 112.5 971.5 112.7 972.0 111.8 972.4 110.9 972.5 111.1 973.0 112.6 973.5 112.5 974.0 112.9 974.5 112.1 974.8 111.7 975.0 112.1 975.5 112.6 976.0 112.9 976.5 110.3 976.8 109.5 977.0 110.0 977.5 112.5 978.0 112.6 978.5 113.0 979.0 112.6 979.3 112.3 979.5 112.5 980.0 112.4 980.5 112.6 981.0 112.5 981.5 112.6 982.0 112.6 982.5 112.8 982.9 112.2 983.0 112.3 983.5 112.5 984.0 113.1 984.5 112.0 984.8 111.5 985.0 111.7 985.5 112.9 986.0 112.6 986.5 112.7 987.0 113.1 987.5 112.8 988.0 112.8 988.5 112.9 989.0 109.7 989.4 108.1 989.5 108.3 990.0 111.1 990.5 112.6 991.0 112.4 991.5 112.4 992.0 111.7 992.4 110.9 992.5 111.1 993.0 112.9 993.5 111.2 994.0 112.9 994.5 111.6 995.0 112.8 995.5 113.0 996.0 110.8 996.4 109.5 996.5 109.7 997.0 111.9 997.5 112.6 998.0 112.9 998.5 112.5 999.0 111.0 999.5 112.9 1000.0 112.5 1000.5 108.6 1000.8 107.4 1001.0 108.0 1001.5 111.5 1002.0 112.9 1002.5 113.0 1003.0 112.7 1003.5 112.4 1003.9 111.8 1004.0 112.0 1004.5 112.8 1005.0 112.5 1005.5 110.4 1005.6 110.2 1006.0 111.1 1006.5 112.2 1007.0 108.8 1007.2 108.1 1007.5 108.9 1008.0 112.4 1008.5 113.0 1009.0 113.0 1009.5 112.5 1010.0 111.0 1010.5 108.9 1010.5 108.9 1011.0 110.8 1011.5 112.7 1012.0 112.8 1012.5 110.4 1013.0 98.0 1013.4 92.8 1013.5 93.5 1014.0 102.4 1014.5 113.1 1015.0 112.4 1015.5 107.6 1015.9 104.8 1016.0 105.0 1016.5 108.8 1017.0 112.9 1017.5 111.5 1018.0 109.9 1018.0 109.9 1018.5 111.6 1019.0 112.7 1019.5 113.0 1020.0 112.6 1020.5 112.4 1021.0 110.4 1021.5 108.1 1022.0 110.4 1022.5 112.5 1023.0 113.0 1023.5 112.6 1024.0 110.2 1024.5 112.6 1025.0 112.5 1025.5 110.7 1026.0 99.1 1026.4 94.2 1026.5 94.8 1027.0 103.2 1027.5 112.5 1028.0 112.9 1028.5 112.5 1029.0 112.5 1029.5 112.7 1030.0 106.7 1030.5 100.8 1030.6 100.4 1031.0 103.8 1031.5 112.0 1032.0 113.1 1032.5 112.9 1033.0 112.5 1033.5 109.5 1034.0 105.6 1034.1 105.3 1034.5 107.6 1035.0 112.3 1035.5 112.7 1036.0 112.6 1036.5 111.5 1037.0 108.2 1037.2 107.6 1037.5 108.9 1038.0 112.5 1038.5 107.1 1038.9 104.1 1039.0 104.3 1039.5 108.3 1040.0 112.6 1040.5 112.6 1041.0 113.1 1041.5 112.9 1042.0 101.0 1042.5 94.2 1043.0 101.0 1043.5 112.9 1044.0 102.2 1044.5 96.0 1045.0 102.2 1045.5 102.2 1046.0 96.0 1046.5 102.2 1047.0 112.5 1047.0 115.0Z"/>
<path d="M132.9 211.2L132.9 207.0 132.9 209.7 133.4 207.7 133.9 205.6 134.0 205.5 134.4 207.1 134.9 209.7 135.4 209.4 135.9 209.6 136.4 209.8 136.9 208.5 137.4 206.6 137.5 206.4 137.9 207.5 138.4 209.3 138.9 209.5 139.4 209.7 139.9 209.8 140.4 209.7 140.9 200.3 141.4 195.0 141.9 200.3 142.4 209.4 142.9 209.9 143.4 206.4 143.9 201.5 144.1 200.6 144.4 202.2 144.9 207.6 145.4 209.6 145.9 209.6 146.4 209.2 146.9 207.3 147.1 207.0 147.4 207.7 147.9 209.6 148.4 209.7 148.9 209.6 149.4 209.8 149.9 209.1 150.3 208.5 150.4 208.6 150.9 209.6 151.4 209.5 151.9 209.7 152.4 209.7 152.9 209.4 153.4 209.8 153.9 207.0 154.3 205.6 154.4 205.7 154.9 207.9 155.4 209.6 155.9 209.5 156.4 208.0 156.9 207.5 157.2 206.6 157.4 206.8 157.9 208.8 158.4 208.4 158.9 207.1 159.3 205.8 159.4 206.0 159.9 208.1 160.4 209.6 160.9 208.4 161.4 206.5 161.5 206.3 161.9 207.5 162.4 209.8 162.9 209.1 163.4 206.6 163.6 206.0 163.9 206.7 164.4 209.2 164.9 207.6 165.2 206.7 165.4 207.0 165.9 209.0 166.4 209.8 166.9 207.5 167.4 197.7 167.8 193.5 167.9 194.0 168.4 201.1 168.9 209.8 169.4 209.9 169.9 209.3 170.4 209.3 170.9 209.6 171.4 207.8 171.9 206.9 172.4 200.4 172.7 198.4 172.9 199.5 173.4 205.4 173.9 209.4 174.4 207.7 174.9 205.9 174.9 205.9 175.4 207.6 175.9 208.9 176.4 204.9 176.7 203.6 176.9 204.1 177.4 207.5 177.9 209.8 178.4 209.8 178.9 209.8 179.4 209.8 179.9 202.0 180.4 195.5 180.5 195.0 180.9 198.8 181.4 207.9 181.9 209.4 182.4 209.5 182.9 208.8 183.4 209.5 183.9 208.2 184.0 208.0 184.4 207.5 184.9 204.2 185.1 203.7 185.4 205.0 185.9 209.0 186.4 209.7 186.9 209.4 187.4 207.1 187.9 205.1 188.4 207.1 188.9 209.8 189.4 209.7 189.9 208.8 190.0 208.7 190.4 209.2 190.9 209.6 191.4 209.8 191.9 209.0 192.4 203.1 192.8 200.6 192.9 200.9 193.4 205.2 193.9 209.8 194.4 209.7 194.9 209.6 195.4 209.8 195.9 209.3 196.4 207.1 196.6 206.6 196.9 207.2 197.4 209.3 197.9 209.6 198.4 209.7 198.9 201.0 199.4 193.8 199.5 193.3 199.9 197.5 200.4 207.5 200.9 204.9 201.1 204.3 201.4 205.2 201.9 208.2 202.4 209.8 202.9 209.3 203.4 209.6 203.9 209.5 204.4 208.9 204.9 206.6 205.1 206.2 205.4 207.0 205.9 209.5 206.4 209.7 206.9 209.8 207.4 208.3 207.9 206.6 208.0 206.5 208.4 207.8 208.9 209.7 209.4 207.6 209.9 204.8 210.0 204.5 210.4 205.9 210.9 207.9 211.4 209.4 211.9 202.0 212.4 195.5 212.5 195.0 212.9 198.8 213.4 207.9 213.9 209.5 214.4 209.4 214.9 208.1 215.4 206.6 215.9 208.1 216.4 209.5 216.9 209.7 217.4 209.5 217.9 209.6 218.4 209.7 218.9 207.9 219.4 204.6 219.6 204.0 219.9 205.1 220.4 208.8 220.9 209.6 221.4 208.3 221.9 200.6 222.3 197.3 222.4 197.7 222.9 203.3 223.4 209.7 223.9 208.1 224.4 209.7 224.9 209.4 225.4 209.7 225.9 207.4 226.3 206.2 226.4 206.3 226.9 208.4 227.4 209.4 227.9 209.4 228.4 209.4 228.9 209.8 229.4 209.6 229.9 209.6 230.4 209.8 230.9 209.7 231.4 206.0 231.9 203.5 232.4 206.0 232.9 209.8 233.4 209.5 233.9 209.6 234.4 209.8 234.9 209.6 235.4 209.4 235.9 206.0 236.4 203.5 236.9 206.0 237.4 209.6 237.9 209.8 238.4 209.7 238.9 209.7 239.4 209.8 239.9 205.6 240.4 202.9 240.9 205.6 241.4 209.6 241.9 209.5 242.4 209.8 242.9 209.1 243.2 208.8 243.4 209.0 243.9 209.5 244.4 209.4 244.9 209.7 245.4 209.8 245.9 207.8 246.4 206.2 246.9 207.8 247.4 209.6 247.9 209.6 248.4 209.6 248.9 209.8 249.4 209.8 249.9 209.2 250.4 207.0 250.6 206.5 250.9 207.1 251.4 209.5 251.9 209.6 252.4 200.1 252.9 188.8 253.1 186.8 253.4 190.5 253.9 203.0 254.4 208.0 254.9 205.5 255.3 203.5 255.4 203.7 255.9 206.7 256.4 207.0 256.9 203.9 257.0 203.7 257.4 205.4 257.9 209.3 258.4 209.5 258.9 201.9 259.4 197.3 259.9 201.9 260.4 209.4 260.9 209.8 261.4 207.2 261.8 205.8 261.9 205.9 262.4 207.9 262.9 209.6 263.4 209.7 263.9 208.8 264.4 202.3 264.8 199.5 264.9 199.8 265.4 204.6 265.9 209.6 266.4 209.3 266.9 209.8 267.4 208.6 267.9 201.4 268.3 198.4 268.4 198.8 268.9 203.9 269.4 209.5 269.9 209.4 270.4 206.9 270.9 203.1 271.1 202.6 271.4 204.2 271.9 208.7 272.4 209.5 272.9 209.4 273.4 209.8 273.9 206.5 274.4 193.7 274.8 188.3 274.9 189.0 275.4 198.2 275.9 209.5 276.4 209.5 276.9 209.6 277.4 209.5 277.9 209.4 278.4 206.3 278.9 203.4 278.9 203.4 279.4 205.5 279.9 209.5 280.4 209.4 280.9 209.8 281.4 208.4 281.9 204.2 282.2 202.9 282.4 203.6 282.9 207.4 283.4 209.4 283.9 209.7 284.4 209.4 284.9 209.5 285.4 209.1 285.9 208.0 286.4 209.1 286.9 209.3 287.4 209.7 287.9 209.3 288.4 205.6 288.9 202.9 289.4 205.6 289.9 209.6 290.4 209.7 290.9 209.4 291.4 209.6 291.9 206.9 292.2 206.0 292.4 206.3 292.9 208.7 293.4 209.3 293.9 208.9 294.2 208.5 294.4 208.7 294.9 209.3 295.4 208.4 295.9 209.5 296.4 209.4 296.9 209.3 297.4 207.1 297.8 205.8 297.9 206.0 298.4 208.1 298.9 209.5 299.4 209.3 299.9 209.3 300.4 209.7 300.9 208.3 301.4 206.0 301.5 205.8 301.9 207.0 302.4 207.9 302.9 209.7 303.4 209.8 303.9 209.8 304.4 205.8 304.9 197.5 305.2 195.0 305.4 196.3 305.9 203.8 306.4 208.4 306.9 209.7 307.4 209.4 307.9 209.5 308.4 209.2 308.9 207.0 309.1 206.5 309.4 207.1 309.9 209.4 310.4 209.5 310.9 207.0 311.2 206.2 311.4 206.6 311.9 208.9 312.4 209.5 312.9 209.8 313.4 209.7 313.9 208.4 314.4 206.1 314.6 205.8 314.9 206.9 315.4 209.8 315.9 209.4 316.4 209.4 316.9 209.7 317.4 209.5 317.9 203.3 318.4 199.5 318.9 203.3 319.4 209.4 319.9 209.5 320.4 209.4 320.9 209.4 321.4 206.6 321.7 205.8 321.9 206.3 322.4 208.8 322.9 209.8 323.4 209.2 323.6 209.1 323.9 209.4 324.4 209.8 324.9 209.7 325.4 209.6 325.9 209.4 326.4 206.4 326.9 204.0 327.4 206.4 327.9 209.8 328.4 209.5 328.9 209.4 329.4 209.3 329.9 208.2 330.2 207.5 330.4 207.7 330.9 209.4 331.4 209.4 331.9 205.9 332.4 202.1 332.5 201.8 332.9 204.0 333.4 207.7 333.9 208.9 334.4 207.0 334.6 206.7 334.9 207.5 335.4 209.7 335.9 207.9 336.4 209.6 336.9 209.0 337.4 207.7 337.4 207.7 337.9 208.7 338.4 208.2 338.9 209.5 339.4 209.1 339.4 209.1 339.9 209.7 340.4 209.4 340.9 206.4 341.4 204.0 341.9 206.4 342.4 209.3 342.9 209.5 343.4 209.8 343.9 209.5 344.4 209.0 344.8 208.4 344.9 208.6 345.4 209.4 345.9 209.7 346.4 209.5 346.9 209.0 347.1 208.8 347.4 209.1 347.9 209.3 348.4 209.6 348.9 207.9 349.4 209.7 349.9 206.5 350.3 205.1 350.4 205.3 350.9 207.7 351.4 208.4 351.9 209.1 352.4 208.0 352.4 207.9 352.9 208.9 353.4 209.4 353.9 209.5 354.4 209.4 354.9 209.4 355.4 209.3 355.9 206.4 356.4 204.0 356.9 206.4 357.4 209.6 357.9 209.5 358.4 209.6 358.9 209.8 359.4 208.1 359.9 206.0 360.2 205.2 360.4 205.9 360.9 208.8 361.4 209.3 361.9 209.5 362.4 208.3 362.9 200.6 363.3 197.3 363.4 197.7 363.9 203.3 364.4 209.5 364.9 209.5 365.4 205.9 365.9 203.6 365.9 203.6 366.4 206.3 366.9 209.3 367.4 209.8 367.9 209.5 368.4 209.8 368.9 209.7 369.4 209.3 369.9 209.2 370.4 192.5 370.9 183.4 371.4 192.5 371.9 209.2 372.4 209.3 372.9 209.7 373.4 209.5 373.9 208.8 374.4 204.4 374.7 202.8 374.9 203.4 375.4 207.0 375.9 209.7 376.4 202.6 376.9 198.4 377.4 202.6 377.9 206.5 378.4 203.9 378.4 203.9 378.9 206.0 379.4 209.8 379.9 207.6 380.4 209.3 380.9 209.3 381.4 209.4 381.9 205.2 382.4 200.9 382.5 200.6 382.9 203.1 383.4 209.0 383.9 208.6 384.4 209.3 384.9 209.7 385.4 209.8 385.9 209.4 386.4 209.4 386.9 206.7 387.4 199.8 387.7 197.7 387.9 198.8 388.4 205.0 388.9 209.4 389.4 209.6 389.9 209.5 390.4 209.8 390.9 209.5 391.4 208.0 391.6 207.8 391.9 208.4 392.4 209.7 392.9 207.8 393.1 207.4 393.4 207.8 393.9 209.4 394.4 209.3 394.9 209.5 395.4 209.4 395.9 209.6 396.4 207.3 396.9 204.6 397.0 204.4 397.4 206.0 397.9 209.7 398.4 209.2 398.9 209.5 399.4 209.3 399.9 209.4 400.4 209.6 400.9 209.3 401.4 209.5 401.9 207.7 402.4 204.1 402.6 203.5 402.9 204.7 403.4 208.6 403.9 209.4 404.4 209.3 404.9 209.4 405.4 209.6 405.9 209.5 406.4 209.7 406.9 209.3 407.4 208.3 407.9 203.7 408.2 202.4 408.4 203.1 408.9 207.2 409.4 209.6 409.9 209.7 410.4 209.3 410.9 208.0 411.4 205.8 411.5 205.7 411.9 207.0 412.4 208.6 412.9 209.4 413.4 204.5 413.8 202.4 413.9 202.7 414.4 206.2 414.9 209.6 415.4 209.6 415.9 209.8 416.4 207.7 416.9 204.2 417.2 202.9 417.4 203.6 417.9 207.4 418.4 209.7 418.9 209.6 419.4 209.3 419.9 208.3 420.4 205.5 420.6 205.1 420.9 206.1 421.4 209.3 421.9 208.0 422.4 205.3 422.5 205.0 422.9 206.2 423.4 209.3 423.9 209.2 424.4 209.5 424.9 209.4 425.4 209.8 425.9 209.7 426.4 203.4 426.9 191.5 427.2 187.9 427.4 189.8 427.9 200.6 428.4 209.3 428.9 209.3 429.4 207.7 429.9 209.3 430.4 206.1 430.8 204.7 430.9 204.9 431.4 207.6 431.9 209.6 432.4 209.4 432.9 209.3 433.4 208.5 433.9 203.8 434.2 202.2 434.4 202.9 434.9 206.9 435.4 209.6 435.9 208.8 436.4 207.1 436.9 203.0 437.1 202.2 437.4 203.6 437.9 208.2 438.4 208.1 438.9 205.0 439.1 204.4 439.4 205.4 439.9 208.9 440.4 209.3 440.9 209.5 441.4 207.7 441.9 205.7 441.9 205.7 442.4 207.2 442.9 209.4 443.4 207.2 443.9 204.5 444.0 204.3 444.4 206.0 444.9 209.7 445.4 209.8 445.9 207.6 446.4 205.8 446.4 205.8 446.9 207.5 447.4 209.3 447.9 207.9 448.4 200.3 448.9 189.2 449.1 187.2 449.4 190.9 449.9 203.2 450.4 209.8 450.9 209.7 451.4 209.3 451.9 209.5 452.4 207.3 452.9 204.1 453.1 203.7 453.4 205.2 453.9 209.2 454.4 208.8 454.9 205.1 455.2 204.0 455.4 204.6 455.9 207.9 456.4 209.2 456.9 208.5 457.4 206.7 457.5 206.6 457.9 207.8 458.4 209.5 458.9 209.4 459.4 209.5 459.9 204.8 460.4 202.2 460.4 202.2 460.9 205.5 461.4 209.7 461.9 209.2 462.4 189.6 462.9 174.3 463.0 173.2 463.4 182.1 463.9 203.4 464.4 209.2 464.9 209.6 465.4 209.0 465.9 203.1 466.3 200.6 466.4 200.9 466.9 205.2 467.4 209.7 467.9 209.3 468.4 209.5 468.9 206.2 469.4 198.5 469.7 196.2 469.9 197.4 470.4 204.4 470.9 209.6 471.4 209.3 471.9 209.6 472.4 200.5 472.9 193.0 473.0 192.4 473.4 196.8 473.9 207.3 474.4 203.4 474.9 200.0 474.9 200.0 475.4 203.9 475.9 209.3 476.4 209.8 476.9 209.6 477.4 209.5 477.9 203.8 478.4 196.3 478.6 195.0 478.9 197.5 479.4 205.8 479.9 209.4 480.4 207.6 480.9 204.7 481.0 204.4 481.4 205.7 481.9 209.4 482.4 209.7 482.9 208.1 483.4 205.5 483.6 205.2 483.9 206.3 484.4 209.3 484.9 209.2 485.4 202.4 485.9 196.2 486.0 195.7 486.4 199.3 486.9 207.9 487.4 209.5 487.9 208.9 488.2 208.5 488.4 208.7 488.9 209.5 489.4 209.3 489.9 207.3 490.4 205.4 490.4 205.4 490.9 207.3 491.4 205.9 491.9 202.1 492.0 201.8 492.4 204.0 492.9 209.3 493.4 209.8 493.9 209.7 494.4 209.5 494.9 205.6 495.4 202.9 495.9 205.6 496.4 209.8 496.9 209.4 497.4 209.6 497.9 209.6 498.4 209.3 498.9 208.3 498.9 208.3 499.4 209.2 499.9 209.4 500.4 209.6 500.9 209.4 501.4 209.8 501.9 207.9 502.4 208.8 502.9 205.1 503.2 204.0 503.4 204.6 503.9 207.9 504.4 209.5 504.9 209.2 505.4 209.7 505.9 209.1 506.4 207.7 506.5 207.6 506.9 208.5 507.4 209.3 507.9 209.2 508.4 203.6 508.8 201.3 508.9 201.6 509.4 205.6 509.9 209.4 510.4 209.4 510.9 209.4 511.4 209.6 511.9 209.5 512.4 208.8 512.9 205.8 513.1 205.1 513.4 205.8 513.9 208.8 514.4 209.3 514.9 209.7 515.4 209.7 515.9 209.2 516.4 207.5 516.9 197.5 517.3 193.3 517.4 193.8 517.9 201.0 518.4 209.7 518.9 209.4 519.4 209.3 519.9 209.6 520.4 208.8 520.9 209.2 521.4 208.1 521.9 203.2 522.2 201.8 522.4 202.6 522.9 206.9 523.4 209.7 523.9 209.3 524.4 209.3 524.9 208.2 525.4 209.7 525.9 209.5 526.4 205.7 526.9 200.1 527.1 199.1 527.4 200.9 527.9 207.1 528.4 209.7 528.9 208.4 529.4 205.0 529.7 203.6 529.9 204.1 530.4 207.5 530.9 209.4 531.4 208.1 531.9 203.2 532.2 201.8 532.4 202.6 532.9 206.9 533.4 209.4 533.9 208.1 534.4 206.2 534.5 206.1 534.9 207.5 535.4 209.7 535.9 209.4 536.4 206.7 536.9 204.9 536.9 205.0 537.4 207.3 537.9 209.2 538.4 203.1 538.9 199.1 539.4 203.1 539.9 209.7 540.4 209.5 540.9 207.4 541.4 204.8 541.5 204.6 541.9 206.2 542.4 209.7 542.9 209.6 543.4 199.6 543.9 193.9 544.4 199.6 544.9 209.7 545.4 209.0 545.9 205.0 546.2 203.7 546.4 204.1 546.9 207.4 547.4 209.6 547.9 209.3 548.4 207.8 548.9 207.8 549.4 206.0 549.4 206.0 549.9 207.6 550.4 209.5 550.9 207.0 551.2 206.2 551.4 206.6 551.9 208.9 552.4 207.8 552.9 206.4 552.9 206.4 553.4 208.2 553.9 209.7 554.4 209.2 554.9 209.2 555.4 206.5 555.7 205.8 555.9 206.3 556.4 208.9 556.9 209.0 557.4 206.5 557.6 205.9 557.9 206.6 558.4 209.2 558.9 209.5 559.4 207.8 559.9 208.4 560.2 207.7 560.4 208.0 560.9 209.5 561.4 208.0 561.9 205.7 562.0 205.6 562.4 206.9 562.9 209.5 563.4 209.3 563.9 207.9 564.4 204.6 564.6 204.0 564.9 205.1 565.4 208.8 565.9 209.5 566.4 209.7 566.9 206.9 567.2 205.9 567.4 206.1 567.9 208.0 568.4 209.5 568.9 209.2 569.4 207.9 569.9 202.8 570.2 201.3 570.4 202.1 570.9 206.7 571.4 209.8 571.9 209.2 572.4 209.7 572.9 209.3 573.4 208.6 573.9 206.0 574.1 205.5 574.4 206.4 574.9 209.3 575.4 208.1 575.9 209.2 576.4 204.1 576.9 200.6 577.4 204.1 577.9 209.4 578.4 209.6 578.9 209.3 579.4 209.5 579.9 207.5 580.3 206.6 580.4 206.8 580.9 208.8 581.4 209.2 581.9 205.2 582.4 200.9 582.5 200.6 582.9 203.1 583.4 209.0 583.9 209.7 584.4 209.3 584.9 207.2 585.1 206.8 585.4 207.4 585.9 209.6 586.4 205.6 586.9 201.6 587.0 201.3 587.4 203.6 587.9 209.2 588.4 209.2 588.9 207.6 589.0 207.4 589.4 208.2 589.9 209.4 590.4 209.2 590.9 204.3 591.4 199.5 591.5 199.1 591.9 201.9 592.4 208.7 592.9 209.5 593.4 209.3 593.9 209.4 594.4 208.6 594.4 208.6 594.9 209.5 595.4 207.1 595.9 204.9 595.9 204.8 596.4 206.7 596.9 209.4 597.4 208.1 597.9 203.2 598.2 201.8 598.4 202.6 598.9 206.9 599.4 209.7 599.9 209.4 600.4 209.6 600.9 206.0 601.3 204.4 601.4 204.6 601.9 207.3 602.4 209.5 602.9 209.3 603.4 206.6 603.8 205.3 603.9 205.5 604.4 207.9 604.9 209.7 605.4 206.5 605.9 203.1 606.0 202.9 606.4 204.9 606.9 209.2 607.4 208.3 607.9 209.6 608.4 204.6 608.9 198.0 609.1 196.8 609.4 199.0 609.9 206.4 610.4 207.9 610.9 209.7 611.4 209.2 611.9 209.7 612.4 209.0 612.9 206.8 613.1 206.3 613.4 207.0 613.9 209.5 614.4 209.4 614.9 209.1 615.4 206.7 615.6 206.2 615.9 206.8 616.4 209.3 616.9 209.7 617.4 205.6 617.9 201.6 618.0 201.3 618.4 203.6 618.9 209.2 619.4 209.2 619.9 209.3 620.4 209.2 620.9 205.3 621.4 202.4 621.9 205.3 622.4 209.2 622.9 209.3 623.4 209.1 623.9 207.9 623.9 207.9 624.4 209.0 624.9 209.7 625.4 208.5 625.9 207.4 626.4 205.4 626.4 205.4 626.9 207.2 627.4 209.7 627.9 209.2 628.4 209.0 628.9 205.6 629.2 204.6 629.4 205.1 629.9 208.2 630.4 209.1 630.9 209.4 631.4 209.4 631.9 209.3 632.4 209.2 632.9 209.7 633.4 206.6 633.8 205.2 633.9 205.4 634.4 207.9 634.9 209.7 635.4 209.7 635.9 209.5 636.4 206.2 636.9 202.7 637.0 202.4 637.4 204.5 637.9 209.4 638.4 207.7 638.9 205.9 638.9 205.9 639.4 207.5 639.9 209.5 640.4 209.3 640.9 205.6 641.4 201.6 641.5 201.3 641.9 203.6 642.4 208.7 642.9 209.0 643.4 205.7 643.7 204.8 643.9 205.3 644.4 208.3 644.9 209.3 645.4 209.5 645.9 209.3 646.4 206.5 646.9 204.0 646.9 204.0 647.4 206.2 647.9 209.7 648.4 200.8 648.9 195.7 649.4 200.8 649.9 209.3 650.4 209.4 650.9 209.4 651.4 206.3 651.7 205.3 651.9 205.6 652.4 208.3 652.9 209.5 653.4 205.3 653.8 203.5 653.9 203.7 654.4 206.8 654.9 209.5 655.4 209.3 655.9 209.4 656.4 207.6 656.7 207.5 656.9 207.7 657.4 209.4 657.9 209.3 658.4 208.3 658.5 208.2 658.9 208.9 659.4 209.6 659.9 209.5 660.4 209.7 660.9 206.4 661.4 201.5 661.6 200.6 661.9 202.2 662.4 207.6 662.9 208.2 663.4 206.6 663.4 206.6 663.9 208.0 664.4 209.4 664.9 208.4 665.4 207.4 665.4 207.4 665.9 208.8 666.4 207.9 666.9 202.8 667.2 201.3 667.4 202.1 667.9 206.7 668.4 209.5 668.9 209.2 669.4 209.6 669.9 207.9 670.1 207.6 670.4 208.1 670.9 209.5 671.4 208.6 671.9 209.5 672.4 208.2 672.7 207.7 672.9 208.0 673.4 209.5 673.9 208.7 674.4 204.3 674.7 202.8 674.9 203.3 675.4 207.1 675.9 209.2 676.4 208.5 676.9 201.0 677.3 197.9 677.4 198.3 677.9 203.6 678.4 209.4 678.9 209.6 679.4 209.6 679.9 209.6 680.4 209.2 680.9 209.7 681.4 206.3 681.9 202.8 682.0 202.5 682.4 204.5 682.9 209.3 683.4 209.4 683.9 209.2 684.4 206.7 684.9 202.1 685.1 201.3 685.4 202.8 685.9 207.9 686.4 208.3 686.9 209.4 687.4 209.7 687.9 209.6 688.4 207.8 688.9 206.3 688.9 206.4 689.4 208.1 689.9 203.4 690.4 191.5 690.7 188.0 690.9 189.9 691.4 200.6 691.9 209.4 692.4 209.7 692.9 209.5 693.4 204.3 693.9 199.4 694.0 199.0 694.4 201.9 694.9 208.7 695.4 209.7 695.9 209.3 696.4 209.1 696.9 209.5 697.4 209.2 697.9 209.5 698.4 209.7 698.9 206.7 699.4 202.1 699.6 201.3 699.9 202.8 700.4 207.9 700.9 209.5 701.4 209.6 701.9 209.6 702.4 209.2 702.9 209.2 703.4 207.8 703.9 205.9 703.9 205.9 704.4 207.6 704.9 209.4 705.4 208.2 705.9 200.2 706.3 196.8 706.4 197.2 706.9 203.0 707.4 209.7 707.9 209.3 708.4 209.3 708.9 208.0 709.2 207.4 709.4 207.6 709.9 209.4 710.4 209.2 710.9 209.7 711.4 209.4 711.9 209.4 712.4 206.2 712.9 202.7 713.0 202.4 713.4 204.5 713.9 209.2 714.4 207.9 714.9 209.1 715.4 209.3 715.9 209.3 716.4 209.2 716.9 205.7 717.2 204.6 717.4 205.1 717.9 208.1 718.4 209.4 718.9 207.9 719.4 202.8 719.7 201.3 719.9 202.1 720.4 206.7 720.9 209.4 721.4 209.7 721.9 209.7 722.4 209.5 722.9 209.4 723.4 209.4 723.9 207.5 724.4 206.2 724.4 206.3 724.9 208.1 725.4 209.7 725.9 208.9 726.4 206.7 726.6 206.4 726.9 207.2 727.4 209.4 727.9 209.5 728.4 209.1 728.9 206.3 729.2 205.4 729.4 205.8 729.9 208.5 730.4 209.3 730.9 208.4 731.4 206.5 731.5 206.3 731.9 207.4 732.4 207.7 732.9 204.1 733.1 203.5 733.4 204.7 733.9 208.6 734.4 209.7 734.9 209.6 735.4 208.3 735.9 206.0 736.0 205.7 736.4 206.9 736.9 209.1 737.4 209.5 737.9 209.3 738.4 208.2 738.5 208.2 738.9 209.0 739.4 209.1 739.9 207.9 740.0 207.8 740.4 208.8 740.9 209.3 741.4 209.1 741.9 206.2 742.2 205.5 742.4 206.1 742.9 208.8 743.4 209.4 743.9 208.1 744.2 207.4 744.4 207.6 744.9 209.3 745.4 209.6 745.9 205.0 746.4 200.5 746.5 200.2 746.9 202.8 747.4 208.9 747.9 208.1 748.4 206.9 748.7 206.1 748.9 206.5 749.4 208.9 749.9 209.1 750.4 208.6 750.9 207.3 750.9 207.3 751.4 208.6 751.9 209.5 752.4 208.3 752.9 209.7 753.4 208.9 753.5 208.8 753.9 209.3 754.4 209.3 754.9 206.0 755.4 202.3 755.5 202.0 755.9 204.2 756.4 209.2 756.9 209.3 757.4 207.8 757.9 209.1 758.4 207.3 758.6 207.1 758.9 207.8 759.4 209.4 759.9 209.1 760.4 209.7 760.9 207.7 761.3 206.5 761.4 206.6 761.9 208.4 762.4 209.1 762.9 209.3 763.4 209.4 763.9 205.3 764.4 202.4 764.9 205.3 765.4 209.3 765.9 209.5 766.4 209.3 766.9 206.9 767.2 205.9 767.4 206.2 767.9 208.5 768.4 209.2 768.9 208.0 769.4 204.8 769.6 204.1 769.9 205.2 770.4 208.8 770.9 209.3 771.4 207.1 771.9 200.9 772.2 199.0 772.4 200.0 772.9 205.6 773.4 209.3 773.9 205.9 774.3 204.2 774.4 204.3 774.9 207.1 775.4 207.9 775.9 209.6 776.4 209.1 776.9 207.9 777.4 205.8 777.7 204.9 777.9 205.4 778.4 208.3 778.9 209.6 779.4 204.6 779.9 198.0 780.1 196.8 780.4 199.0 780.9 206.4 781.4 209.0 781.9 206.2 782.1 205.6 782.4 206.2 782.9 209.0 783.4 207.6 783.9 207.1 784.4 203.2 784.6 202.5 784.9 203.9 785.4 208.4 785.9 208.7 786.4 201.9 786.8 199.0 786.9 199.4 787.4 204.3 787.9 209.5 788.4 209.6 788.9 209.5 789.4 209.6 789.9 209.5 790.4 208.2 790.7 208.6 790.9 208.8 791.4 209.5 791.9 209.7 792.4 209.7 792.9 208.3 793.4 204.6 793.7 203.7 793.9 204.5 794.4 208.1 794.9 209.6 795.4 209.3 795.9 208.0 796.4 199.3 796.8 195.7 796.9 196.2 797.4 202.4 797.9 209.7 798.4 207.7 798.9 204.7 799.0 204.3 799.4 205.6 799.9 209.3 800.4 209.2 800.9 203.6 801.3 201.3 801.4 201.6 801.9 205.6 802.4 209.3 802.9 208.1 803.4 203.9 803.7 202.8 803.9 203.7 804.4 207.7 804.9 209.5 805.4 209.2 805.9 209.1 806.4 191.1 806.9 181.2 807.4 191.1 807.9 209.1 808.4 209.4 808.9 209.4 809.4 201.9 809.9 187.6 810.2 183.4 810.4 185.7 810.9 198.5 811.4 209.3 811.9 206.2 812.4 202.9 812.5 202.7 812.9 204.8 813.4 209.3 813.9 209.4 814.4 209.4 814.9 209.2 815.4 204.7 815.9 202.1 815.9 202.2 816.4 205.5 816.9 209.5 817.4 201.6 817.9 191.9 818.1 190.1 818.4 193.3 818.9 204.1 819.4 203.5 819.6 202.7 819.9 203.8 820.4 207.6 820.9 209.3 821.4 209.4 821.9 200.5 822.4 192.9 822.5 192.3 822.9 196.7 823.4 207.3 823.9 205.0 824.2 203.7 824.4 204.2 824.9 207.5 825.4 209.3 825.9 209.5 826.4 209.6 826.9 209.5 827.4 207.2 827.9 203.1 828.1 202.4 828.4 203.7 828.9 208.3 829.4 209.4 829.9 209.7 830.4 209.4 830.9 209.2 831.4 208.0 831.7 207.4 831.9 207.7 832.4 209.4 832.9 209.3 833.4 209.6 833.9 209.1 834.4 209.7 834.9 204.8 835.4 195.1 835.7 192.2 835.9 193.8 836.4 202.5 836.9 209.5 837.4 209.5 837.9 209.5 838.4 207.5 838.9 207.6 839.4 204.9 839.5 204.7 839.9 206.1 840.4 209.1 840.9 209.3 841.4 209.0 841.9 202.9 842.3 200.4 842.4 200.7 842.9 205.1 843.4 209.2 843.9 209.3 844.4 209.1 844.9 209.2 845.4 208.0 845.9 205.4 846.0 205.2 846.4 206.5 846.9 207.0 847.4 204.9 847.9 207.0 848.4 209.6 848.9 209.7 849.4 209.3 849.9 207.2 850.4 205.1 850.4 205.1 850.9 206.9 851.4 209.6 851.9 207.6 852.4 205.1 852.5 204.9 852.9 206.4 853.4 209.6 853.9 209.2 854.4 209.3 854.9 207.1 855.2 206.2 855.4 206.6 855.9 208.8 856.4 209.6 856.9 209.0 857.4 208.2 857.4 208.2 857.9 207.4 858.4 209.4 858.9 209.4 859.4 209.3 859.9 208.4 860.4 206.9 860.4 206.9 860.9 208.2 861.4 208.1 861.9 203.2 862.2 201.8 862.4 202.6 862.9 206.9 863.4 209.1 863.9 209.4 864.4 209.7 864.9 209.5 865.4 209.2 865.9 209.3 866.4 205.6 866.9 202.9 867.4 205.6 867.9 209.6 868.4 209.1 868.9 209.1 869.4 209.1 869.9 209.7 870.4 209.4 870.9 209.5 871.4 209.1 871.9 204.8 872.4 198.3 872.6 197.1 872.9 199.3 873.4 206.5 873.9 209.3 874.4 209.2 874.9 209.7 875.4 209.6 875.9 209.1 876.4 209.6 876.9 204.2 877.4 199.2 877.5 198.8 877.9 201.7 878.4 208.6 878.9 209.3 879.4 209.6 879.9 209.3 880.4 209.2 880.9 209.4 881.4 208.8 881.9 205.0 882.2 203.9 882.4 204.5 882.9 207.9 883.4 208.3 883.9 209.7 884.4 209.1 884.9 205.9 885.2 204.7 885.4 205.0 885.9 207.9 886.4 209.6 886.9 209.4 887.4 209.4 887.9 204.9 888.4 201.8 888.9 204.9 889.4 209.6 889.9 209.7 890.4 209.1 890.9 207.1 891.4 205.4 891.4 205.4 891.9 207.5 892.4 209.2 892.9 208.1 893.1 207.8 893.4 208.2 893.9 209.7 894.4 206.9 894.9 202.6 895.1 201.8 895.4 203.2 895.9 208.1 896.4 209.2 896.9 209.4 897.4 209.2 897.9 209.3 898.4 209.4 898.9 204.4 899.4 197.5 899.6 196.3 899.9 198.6 900.4 206.2 900.9 209.7 901.4 209.4 901.9 209.0 902.3 208.3 902.4 208.3 902.9 209.1 903.4 209.6 903.9 209.2 904.4 209.6 904.9 209.5 905.4 205.6 905.8 203.9 905.9 204.1 906.4 207.1 906.9 209.3 907.4 208.9 907.9 206.7 908.1 206.4 908.4 207.2 908.9 209.5 909.4 209.1 909.9 209.1 910.4 203.1 910.9 199.2 911.4 203.1 911.9 209.1 912.4 209.4 912.9 207.2 913.1 206.7 913.4 207.2 913.9 209.1 914.4 209.4 914.9 209.6 915.4 209.5 915.9 209.5 916.4 209.3 916.9 206.9 917.4 200.4 917.7 198.4 917.9 199.5 918.4 205.4 918.9 209.2 919.4 209.1 919.9 209.4 920.4 209.4 920.9 209.6 921.4 209.2 921.9 209.2 922.4 209.1 922.9 205.9 923.2 204.9 923.4 205.4 923.9 208.3 924.4 209.4 924.9 209.2 925.4 209.4 925.9 209.2 926.4 209.6 926.9 207.7 927.2 207.2 927.4 207.6 927.9 209.2 928.4 209.4 928.9 209.6 929.4 203.9 929.9 198.8 930.0 198.4 930.4 201.4 930.9 208.6 931.4 209.3 931.9 209.3 932.4 209.5 932.9 209.7 933.4 208.5 933.9 205.5 934.1 204.9 934.4 205.7 934.9 208.9 935.4 209.2 935.9 209.2 936.4 209.6 936.9 205.9 937.4 202.1 937.5 201.8 937.9 204.0 938.4 209.2 938.9 208.0 939.4 209.2 939.9 208.6 940.3 207.8 940.4 207.8 940.9 209.1 941.4 209.1 941.9 209.4 942.4 209.1 942.9 209.2 943.4 209.5 943.9 208.1 944.4 203.2 944.7 201.8 944.9 202.6 945.4 206.9 945.9 209.2 946.4 209.5 946.9 209.6 947.4 209.1 947.9 207.8 948.4 205.5 948.5 205.3 948.9 206.7 949.4 209.3 949.9 209.1 950.4 209.4 950.9 206.2 951.3 204.7 951.4 204.9 951.9 207.5 952.4 209.6 952.9 209.6 953.4 209.2 953.9 209.0 954.4 207.4 954.9 202.9 955.4 198.8 955.9 202.9 956.4 209.2 956.9 207.8 957.4 209.1 957.9 206.0 958.4 200.7 958.6 199.8 958.9 201.5 959.4 207.4 959.9 209.7 960.4 208.1 960.9 205.1 961.1 204.6 961.4 205.7 961.9 209.1 962.4 209.2 962.9 207.4 963.4 205.1 963.5 205.1 963.9 206.8 964.4 209.1 964.9 209.2 965.4 209.5 965.9 206.5 966.2 205.5 966.4 205.8 966.9 208.2 967.4 205.9 967.9 191.5 968.3 185.5 968.4 186.3 968.9 196.6 969.4 209.3 969.9 209.5 970.4 209.4 970.9 206.9 971.4 200.4 971.7 198.4 971.9 199.5 972.4 205.4 972.9 207.3 973.4 205.5 973.4 205.5 973.9 207.4 974.4 209.5 974.9 209.3 975.4 208.0 975.8 207.0 975.9 207.1 976.4 208.8 976.9 209.1 977.4 209.2 977.9 209.5 978.4 207.9 978.9 206.2 978.9 206.2 979.4 207.8 979.9 209.4 980.4 209.3 980.9 207.9 981.4 204.5 981.6 203.9 981.9 205.0 982.4 208.8 982.9 209.7 983.4 209.7 983.9 209.4 984.4 209.2 984.9 208.4 985.2 207.9 985.4 208.3 985.9 209.3 986.4 209.2 986.9 209.1 987.4 207.8 987.5 207.7 987.9 208.6 988.4 209.6 988.9 209.5 989.4 209.3 989.9 209.6 990.4 209.1 990.9 209.1 991.4 208.8 991.8 208.0 991.9 208.1 992.4 209.2 992.9 209.6 993.4 209.3 993.9 208.8 994.4 207.9 994.4 208.0 994.9 209.2 995.4 209.1 995.9 209.2 996.4 209.1 996.9 209.4 997.2 208.9 997.4 209.1 997.9 209.1 998.4 208.1 998.9 209.2 999.4 209.2 999.9 208.1 1000.0 208.0 1000.4 208.8 1000.9 206.6 1001.4 204.3 1001.9 206.5 1002.4 209.1 1002.9 207.2 1003.2 206.4 1003.4 206.7 1003.9 208.8 1004.4 209.2 1004.9 209.3 1005.4 207.7 1005.9 202.4 1006.2 200.8 1006.4 201.7 1006.9 206.5 1007.4 209.3 1007.9 209.1 1008.4 209.4 1008.9 201.8 1009.4 192.3 1009.6 190.6 1009.9 193.7 1010.4 204.3 1010.9 209.5 1011.4 208.4 1011.9 200.9 1012.3 197.7 1012.4 198.1 1012.9 203.5 1013.4 209.3 1013.9 209.1 1014.4 209.4 1014.9 209.6 1015.4 207.7 1015.9 205.8 1015.9 205.8 1016.4 207.5 1016.9 207.9 1017.4 208.0 1017.9 204.9 1018.4 201.8 1018.9 204.9 1019.4 209.6 1019.9 209.7 1020.4 209.5 1020.9 209.6 1021.4 209.5 1021.9 209.1 1022.4 209.2 1022.9 207.4 1023.4 203.6 1023.6 202.9 1023.9 204.2 1024.4 208.4 1024.9 209.4 1025.4 208.6 1025.9 206.6 1026.0 206.4 1026.4 207.4 1026.9 209.6 1027.4 208.0 1027.8 207.3 1027.9 207.5 1028.4 209.2 1028.9 209.2 1029.4 209.1 1029.9 209.1 1030.4 209.2 1030.9 209.3 1031.4 204.0 1031.8 201.8 1031.9 202.1 1032.4 205.9 1032.9 209.6 1033.4 209.2 1033.9 209.6 1034.4 208.1 1034.9 206.9 1034.9 206.9 1035.4 208.5 1035.9 209.2 1036.4 207.6 1036.9 205.9 1037.4 207.6 1037.9 209.4 1038.4 209.3 1038.9 209.1 1039.4 207.1 1039.6 206.6 1039.9 207.1 1040.4 207.5 1040.9 209.5 1041.4 207.8 1041.6 207.5 1041.9 207.9 1042.4 209.2 1042.9 209.4 1043.4 208.2 1043.9 206.1 1044.0 205.9 1044.4 207.1 1044.9 209.5 1045.4 209.6 1045.9 209.1 1046.4 209.4 1046.9 209.1 1047.0 211.2Z"/>
<path d="M133.0 307.4L133.0 301.4 133.0 302.2 133.5 301.5 134.0 295.0 134.2 293.7 134.5 295.5 135.0 301.3 135.5 302.0 136.0 300.8 136.5 301.7 137.0 298.4 137.5 284.6 137.8 280.5 138.0 282.7 138.5 295.2 139.0 300.7 139.5 294.5 140.0 285.4 140.1 284.7 140.5 290.0 141.0 302.4 141.5 294.1 142.0 273.7 142.3 267.6 142.5 270.9 143.0 289.3 143.5 301.2 144.0 288.0 144.5 278.5 145.0 288.0 145.5 283.8 146.0 259.9 146.2 255.6 146.5 263.5 147.0 290.1 147.5 301.8 148.0 301.7 148.5 301.9 149.0 296.9 149.2 296.0 149.5 297.8 150.0 302.0 150.5 301.8 151.0 274.9 151.5 259.0 152.0 274.9 152.5 295.9 153.0 289.4 153.3 285.1 153.5 286.3 154.0 295.9 154.5 302.3 155.0 301.2 155.5 292.3 156.0 277.1 156.2 274.3 156.5 279.4 157.0 296.3 157.5 301.3 158.0 302.0 158.5 282.7 159.0 244.9 159.3 233.6 159.5 239.7 160.0 273.8 160.5 301.7 161.0 301.9 161.5 286.7 161.9 280.2 162.0 281.0 162.5 291.9 163.0 301.2 163.5 294.8 164.0 275.4 164.3 269.6 164.5 272.7 165.0 290.2 165.5 301.9 166.0 301.1 166.5 302.2 167.0 289.4 167.5 271.2 167.7 267.9 168.0 273.9 168.5 280.2 169.0 260.9 169.1 259.5 169.5 270.8 170.0 297.6 170.5 295.3 171.0 298.3 171.5 302.3 172.0 288.2 172.5 268.8 172.7 265.3 173.0 271.7 173.5 293.3 174.0 301.9 174.5 287.0 174.9 280.7 175.0 281.5 175.5 292.3 176.0 301.3 176.5 300.8 177.0 302.6 177.5 301.0 178.0 300.6 178.5 290.0 178.8 286.9 179.0 288.6 179.5 298.1 180.0 279.0 180.5 250.2 180.7 245.0 181.0 254.5 181.5 286.5 182.0 250.1 182.4 232.5 182.5 234.7 183.0 264.9 183.5 300.7 184.0 302.1 184.5 297.1 185.0 296.2 185.5 284.2 185.7 281.8 186.0 285.5 186.5 298.4 187.0 300.8 187.5 302.3 188.0 302.3 188.5 301.6 189.0 277.9 189.5 263.4 190.0 277.9 190.5 300.5 191.0 286.6 191.3 281.6 191.5 282.9 192.0 294.1 192.5 301.4 193.0 302.5 193.5 301.7 194.0 301.9 194.5 301.0 195.0 280.1 195.5 260.7 195.6 259.3 196.0 270.6 196.5 297.5 197.0 302.6 197.5 301.7 198.0 295.8 198.5 293.7 198.9 290.2 199.0 291.1 199.5 298.4 200.0 302.2 200.5 302.1 201.0 302.7 201.5 300.9 202.0 273.1 202.5 248.8 202.6 247.0 203.0 261.2 203.5 295.0 204.0 302.1 204.5 301.7 205.0 301.4 205.5 302.4 206.0 300.9 206.5 297.2 206.8 295.3 207.0 296.3 207.5 300.9 208.0 301.6 208.5 301.7 209.0 296.9 209.5 268.4 209.9 256.4 210.0 257.9 210.5 278.5 211.0 301.2 211.5 302.2 212.0 302.3 212.5 302.2 213.0 293.6 213.5 286.9 214.0 293.7 214.5 302.4 215.0 301.5 215.5 297.4 216.0 282.0 216.3 277.4 216.5 279.9 217.0 293.8 217.5 294.9 218.0 275.8 218.3 270.1 218.5 273.2 219.0 290.4 219.5 301.3 220.0 302.7 220.5 302.5 221.0 301.8 221.5 302.6 222.0 301.0 222.5 277.5 223.0 262.9 223.5 277.5 224.0 301.0 224.5 301.8 225.0 301.2 225.5 301.2 226.0 300.9 226.3 299.7 226.5 300.3 227.0 299.3 227.5 302.1 228.0 302.0 228.5 300.8 229.0 296.4 229.1 296.2 229.5 299.1 230.0 301.6 230.5 301.8 231.0 302.8 231.5 293.9 231.9 289.7 232.0 290.2 232.5 297.4 233.0 302.5 233.5 302.3 234.0 296.7 234.5 292.2 234.5 292.3 235.0 297.8 235.5 302.6 236.0 290.7 236.5 278.9 236.6 278.0 237.0 284.9 237.5 301.4 238.0 302.3 238.5 302.0 239.0 301.3 239.5 297.3 239.7 296.4 240.0 298.1 240.5 301.2 241.0 301.0 241.5 302.2 242.0 301.3 242.5 302.0 243.0 302.2 243.5 300.6 244.0 293.7 244.2 292.5 244.5 294.8 245.0 301.2 245.5 301.3 246.0 302.5 246.5 298.4 246.8 297.2 247.0 298.3 247.5 301.7 248.0 301.4 248.5 301.2 249.0 301.1 249.5 301.6 250.0 289.7 250.5 281.0 251.0 289.7 251.5 301.5 252.0 301.2 252.5 301.3 253.0 302.8 253.5 301.7 254.0 297.4 254.5 290.2 254.6 289.7 255.0 293.9 255.5 301.8 256.0 302.3 256.5 301.6 257.0 295.9 257.5 287.8 257.6 287.2 258.0 292.0 258.5 301.7 259.0 302.2 259.5 301.3 260.0 302.1 260.5 295.2 260.8 293.0 261.0 294.2 261.5 300.9 262.0 301.8 262.5 301.6 263.0 301.3 263.5 297.1 264.0 302.3 264.5 299.4 265.0 291.2 265.2 289.7 265.5 292.4 266.0 301.5 266.5 302.2 267.0 301.4 267.5 302.1 268.0 302.2 268.5 301.8 269.0 289.7 269.5 281.0 270.0 289.7 270.5 302.6 271.0 299.5 271.5 302.1 272.0 302.9 272.5 300.0 273.0 301.7 273.5 284.3 274.0 272.9 274.5 284.3 275.0 303.0 275.5 301.4 276.0 301.8 276.5 302.0 277.0 298.9 277.5 294.7 278.0 298.9 278.5 303.1 279.0 302.1 279.5 301.7 280.0 298.2 280.1 297.7 280.5 299.7 281.0 303.1 281.5 296.7 282.0 303.2 282.5 291.7 282.9 286.9 283.0 287.5 283.5 295.8 284.0 302.0 284.5 301.4 285.0 298.0 285.5 291.6 285.6 291.2 286.0 295.2 286.5 282.6 287.0 270.5 287.5 282.6 288.0 301.8 288.5 303.1 289.0 302.6 289.5 300.9 290.0 283.2 290.4 275.7 290.5 276.6 291.0 289.4 291.5 299.6 292.0 295.1 292.0 295.0 292.5 298.5 293.0 301.7 293.5 303.1 294.0 302.5 294.5 295.2 294.8 293.1 295.0 294.4 295.5 301.0 296.0 293.7 296.5 286.9 297.0 293.7 297.5 302.8 298.0 302.5 298.5 302.0 299.0 301.7 299.5 301.6 300.0 302.6 300.4 300.7 300.5 300.8 301.0 303.1 301.5 303.1 302.0 302.7 302.5 297.3 303.0 302.7 303.5 298.6 303.8 297.0 304.0 297.9 304.5 302.7 305.0 301.7 305.5 301.6 306.0 301.9 306.5 301.1 306.8 298.5 307.0 298.7 307.5 302.1 308.0 303.2 308.5 301.7 309.0 302.1 309.5 302.7 310.0 301.3 310.5 291.9 310.8 289.1 311.0 290.6 311.5 299.1 312.0 302.8 312.5 303.1 313.0 302.9 313.5 302.4 314.0 302.7 314.5 302.1 315.0 293.9 315.3 291.4 315.5 292.7 316.0 300.1 316.5 303.0 317.0 302.9 317.5 303.4 318.0 303.1 318.5 302.1 319.0 299.9 319.5 288.4 319.8 285.0 320.0 286.9 320.5 297.2 321.0 303.1 321.5 302.3 322.0 303.3 322.5 299.3 323.0 295.7 323.0 295.7 323.5 299.8 324.0 303.0 324.5 303.0 325.0 302.3 325.5 303.2 326.0 284.3 326.5 272.9 327.0 284.3 327.5 300.0 328.0 297.2 328.5 292.8 328.5 292.9 329.0 298.1 329.5 302.4 330.0 300.1 330.5 296.7 330.5 296.7 331.0 300.3 331.5 302.2 332.0 288.2 332.5 274.5 332.6 273.5 333.0 281.5 333.5 300.4 334.0 302.3 334.5 302.9 335.0 302.4 335.5 295.5 336.0 283.5 336.2 281.3 336.5 285.3 337.0 298.7 337.5 302.7 338.0 302.7 338.5 302.4 339.0 300.1 339.5 292.6 339.7 291.2 340.0 293.6 340.5 301.9 341.0 301.5 341.5 292.4 341.8 289.7 342.0 291.2 342.5 299.4 343.0 302.8 343.5 298.9 343.9 296.8 344.0 297.4 344.5 302.0 345.0 301.0 345.5 283.6 345.9 276.3 346.0 277.2 346.5 289.8 347.0 302.8 347.5 303.5 348.0 302.4 348.5 302.4 349.0 294.8 349.3 292.5 349.5 293.7 350.0 300.6 350.5 303.6 351.0 302.7 351.5 302.7 352.0 303.1 352.5 303.3 353.0 303.7 353.5 298.6 354.0 292.4 354.1 291.9 354.5 295.6 355.0 303.6 355.5 302.8 356.0 303.3 356.5 303.8 357.0 302.6 357.5 303.7 358.0 298.1 358.5 272.9 358.9 262.3 359.0 263.6 359.5 281.8 360.0 303.6 360.5 302.6 361.0 295.2 361.3 293.0 361.5 294.2 362.0 300.9 362.5 299.7 363.0 298.9 363.1 298.6 363.5 300.6 364.0 303.6 364.5 304.0 365.0 303.1 365.5 304.0 366.0 301.1 366.5 294.7 366.7 293.5 367.0 295.6 367.5 302.8 368.0 303.5 368.5 303.6 369.0 303.0 369.5 301.1 369.7 300.4 370.0 301.5 370.5 303.5 371.0 303.0 371.5 297.2 372.0 281.5 372.3 276.8 372.5 279.3 373.0 293.5 373.5 303.7 374.0 302.9 374.5 304.0 375.0 300.2 375.5 295.0 375.6 294.6 376.0 297.6 376.5 304.0 377.0 303.8 377.5 303.0 378.0 301.0 378.2 300.3 378.5 301.3 379.0 303.4 379.5 302.8 380.0 297.4 380.2 296.2 380.5 297.6 381.0 303.1 381.5 304.0 382.0 302.9 382.5 303.1 383.0 295.9 383.5 290.2 384.0 295.9 384.5 302.9 385.0 302.8 385.5 302.8 386.0 303.4 386.5 303.7 387.0 302.7 387.5 302.8 388.0 304.0 388.5 303.3 389.0 301.3 389.5 303.3 390.0 304.0 390.5 303.1 391.0 302.8 391.5 303.2 392.0 304.0 392.5 302.0 392.9 300.0 393.0 300.1 393.5 302.9 394.0 300.2 394.3 298.7 394.5 299.4 395.0 303.2 395.5 303.8 396.0 304.1 396.5 295.6 396.9 292.0 397.0 292.5 397.5 298.7 398.0 303.9 398.5 303.4 398.9 302.1 399.0 302.3 399.5 303.4 400.0 303.3 400.5 303.8 401.0 302.8 401.5 299.1 401.6 298.7 402.0 300.5 402.5 302.7 403.0 303.2 403.5 303.0 404.0 303.2 404.5 300.8 404.7 300.2 405.0 301.3 405.5 303.5 406.0 303.6 406.5 304.1 407.0 302.1 407.4 300.3 407.5 300.4 408.0 303.1 408.5 303.4 409.0 303.0 409.5 303.5 410.0 302.8 410.5 303.6 411.0 293.3 411.4 289.0 411.5 289.5 412.0 297.0 412.5 303.0 413.0 303.5 413.5 302.8 414.0 303.1 414.5 300.9 414.7 300.4 415.0 301.6 415.5 302.9 416.0 302.9 416.5 303.4 417.0 303.9 417.5 299.5 418.0 293.9 418.1 293.5 418.5 296.8 419.0 303.5 419.5 303.9 420.0 303.1 420.5 302.9 421.0 303.2 421.5 302.5 421.7 301.8 422.0 302.7 422.5 302.9 423.0 303.8 423.5 303.0 424.0 302.4 424.5 294.7 424.8 292.4 425.0 293.7 425.5 300.6 426.0 303.6 426.5 303.6 427.0 304.0 427.5 300.2 427.7 299.5 428.0 300.6 428.5 302.8 429.0 299.6 429.5 303.5 430.0 298.1 430.3 296.0 430.5 296.6 431.0 301.7 431.5 291.4 432.0 283.5 432.5 291.4 433.0 303.4 433.5 303.6 434.0 303.6 434.5 302.8 435.0 304.1 435.5 303.9 436.0 300.6 436.5 301.5 437.0 297.2 437.1 296.9 437.5 299.4 438.0 303.3 438.5 303.8 439.0 303.3 439.5 304.1 440.0 303.6 440.5 293.3 440.9 289.0 441.0 289.5 441.5 297.0 442.0 303.4 442.5 302.1 443.0 297.3 443.2 296.5 443.5 298.5 444.0 303.3 444.5 303.7 445.0 294.8 445.5 285.9 445.6 285.2 446.0 290.4 446.5 302.9 447.0 303.1 447.5 303.0 448.0 304.1 448.5 303.5 449.0 301.1 449.4 299.1 449.5 299.3 450.0 302.7 450.5 303.2 451.0 303.2 451.5 304.1 452.0 303.0 452.5 303.5 453.0 303.3 453.5 299.4 454.0 287.2 454.3 283.5 454.5 285.5 455.0 296.5 455.5 302.9 456.0 304.2 456.5 303.9 457.0 303.9 457.5 303.4 458.0 303.1 458.5 292.5 459.0 285.2 459.5 292.5 460.0 303.6 460.5 301.4 460.9 299.1 461.0 299.2 461.5 302.3 462.0 303.1 462.5 304.1 463.0 303.2 463.5 303.7 464.0 302.1 464.5 298.3 464.6 298.0 465.0 300.2 465.5 303.8 466.0 304.1 466.5 304.1 467.0 304.0 467.5 303.9 468.0 300.5 468.5 297.5 468.5 297.6 469.0 301.1 469.5 303.1 470.0 303.1 470.5 303.8 471.0 303.1 471.5 298.8 471.7 298.0 472.0 299.4 472.5 303.4 473.0 300.1 473.4 298.2 473.5 298.6 474.0 302.5 474.5 303.3 475.0 304.1 475.5 301.6 476.0 295.7 476.2 294.6 476.5 296.6 477.0 303.1 477.5 303.6 478.0 303.0 478.5 301.3 478.8 300.5 479.0 301.3 479.5 303.0 480.0 304.2 480.5 302.9 480.8 302.2 481.0 300.2 481.5 303.6 482.0 303.5 482.5 301.2 483.0 304.3 483.5 301.1 484.0 298.0 484.5 301.1 485.0 303.6 485.5 303.1 486.0 303.3 486.5 303.4 487.0 301.1 487.4 299.1 487.5 299.4 488.0 299.6 488.5 304.3 489.0 303.7 489.5 303.6 490.0 303.9 490.5 303.9 491.0 300.8 491.5 290.5 491.8 287.5 492.0 289.2 492.5 298.4 493.0 304.3 493.5 303.8 494.0 303.5 494.5 300.9 495.0 296.7 495.1 296.5 495.5 299.3 496.0 303.4 496.5 303.4 497.0 304.1 497.5 303.1 498.0 302.6 498.5 300.2 499.0 302.6 499.5 303.4 500.0 303.2 500.5 304.0 501.0 303.2 501.5 303.8 502.0 301.5 502.3 300.5 502.5 301.1 503.0 303.3 503.5 303.1 504.0 304.2 504.5 301.7 505.0 292.8 505.3 290.2 505.5 291.6 506.0 299.6 506.5 303.2 507.0 303.2 507.5 303.8 508.0 303.4 508.5 298.7 509.0 285.2 509.3 281.2 509.5 283.4 510.0 295.5 510.5 303.3 511.0 304.2 511.5 303.3 512.0 303.5 512.5 303.3 513.0 300.6 513.5 296.7 513.5 296.6 514.0 299.8 514.5 303.4 515.0 303.6 515.5 304.2 516.0 297.6 516.4 294.6 516.5 295.0 517.0 300.2 517.5 304.3 518.0 301.8 518.5 298.1 518.6 297.9 519.0 300.4 519.5 303.6 520.0 303.5 520.5 300.4 521.0 302.3 521.5 299.7 522.0 302.3 522.5 304.0 523.0 303.2 523.5 303.7 524.0 302.7 524.4 301.5 524.5 301.9 525.0 303.4 525.5 303.2 526.0 300.5 526.4 298.8 526.5 299.2 527.0 302.9 527.5 303.3 528.0 303.9 528.5 304.2 529.0 303.8 529.5 300.4 529.8 299.1 530.0 299.8 530.5 303.6 531.0 303.5 531.5 303.5 532.0 302.4 532.4 300.9 532.5 301.2 533.0 303.8 533.5 303.3 534.0 304.0 534.5 303.7 535.0 301.1 535.4 298.9 535.5 299.0 536.0 302.4 536.5 301.1 537.0 304.0 537.5 300.7 538.0 301.7 538.4 300.0 538.5 300.3 539.0 303.3 539.5 296.8 539.9 293.5 540.0 293.9 540.5 299.5 541.0 304.1 541.5 303.4 542.0 303.8 542.5 302.3 543.0 300.8 543.0 302.4 543.5 303.5 544.0 303.8 544.5 303.4 545.0 302.1 545.5 299.9 545.7 298.9 546.0 300.0 546.5 303.8 547.0 301.1 547.1 300.9 547.5 302.4 548.0 304.3 548.5 304.4 549.0 303.4 549.5 297.3 550.0 292.4 550.5 297.3 551.0 304.0 551.5 303.2 552.0 300.9 552.0 300.9 552.5 302.8 553.0 303.5 553.5 304.0 554.0 297.6 554.4 294.6 554.5 295.0 555.0 300.2 555.5 304.1 556.0 303.4 556.5 302.1 556.7 301.5 557.0 302.3 557.5 304.2 558.0 304.1 558.5 303.6 559.0 303.4 559.5 301.6 560.0 299.4 560.0 299.4 560.5 302.4 561.0 303.8 561.5 302.8 562.0 299.3 562.1 298.9 562.5 300.8 563.0 304.3 563.5 303.9 564.0 302.6 564.5 300.2 565.0 302.6 565.5 303.5 566.0 300.2 566.2 299.3 566.5 300.2 567.0 304.2 567.5 304.0 568.0 304.0 568.5 296.8 568.9 293.5 569.0 293.9 569.5 299.5 570.0 304.1 570.5 304.0 571.0 303.0 571.4 301.4 571.5 301.5 572.0 303.8 572.5 304.1 573.0 303.6 573.5 303.4 573.8 302.8 574.0 303.3 574.5 304.5 575.0 303.9 575.5 303.8 576.0 303.4 576.2 300.3 576.5 303.8 577.0 304.6 577.5 303.9 578.0 304.6 578.5 302.6 578.8 301.7 579.0 302.2 579.5 304.3 580.0 304.5 580.5 302.6 581.0 297.8 581.2 296.9 581.5 298.5 582.0 303.9 582.5 302.5 583.0 299.0 583.1 298.8 583.5 300.8 584.0 303.8 584.5 303.7 585.0 303.0 585.4 301.9 585.5 302.2 586.0 304.5 586.5 304.4 587.0 304.5 587.5 302.8 587.9 301.3 588.0 301.4 588.5 303.7 589.0 303.5 589.5 303.5 590.0 303.8 590.5 301.8 590.6 301.7 591.0 300.7 591.5 303.6 592.0 304.0 592.5 300.7 592.7 300.1 593.0 301.3 593.5 304.2 594.0 300.2 594.5 295.0 594.6 294.6 595.0 297.6 595.5 303.6 596.0 303.5 596.5 300.9 596.8 299.7 597.0 300.3 597.5 303.9 598.0 303.6 598.5 304.0 599.0 301.3 599.2 300.5 599.5 301.3 600.0 304.2 600.5 303.7 601.0 303.9 601.5 303.6 602.0 304.4 602.5 302.7 602.6 302.6 603.0 303.8 603.5 303.6 603.8 302.9 604.0 303.4 604.5 304.6 605.0 303.8 605.5 303.9 605.9 302.8 606.0 303.0 606.5 303.7 607.0 303.8 607.5 304.5 608.0 301.1 608.4 299.3 608.5 299.6 609.0 301.4 609.5 303.8 610.0 303.6 610.5 303.8 611.0 300.5 611.1 301.9 611.5 303.1 612.0 304.2 612.5 304.1 613.0 301.4 613.2 300.9 613.5 302.0 614.0 304.5 614.5 301.4 614.8 300.2 615.0 300.7 615.5 304.0 616.0 304.7 616.5 304.6 617.0 304.5 617.5 302.7 618.0 299.3 618.1 299.0 618.5 300.9 619.0 304.3 619.5 303.9 620.0 303.8 620.5 304.1 621.0 304.1 621.5 303.0 622.0 296.2 622.3 294.2 622.5 295.3 623.0 301.4 623.5 304.2 624.0 304.5 624.5 304.0 625.0 304.3 625.5 302.4 625.8 301.5 626.0 301.9 626.5 304.7 627.0 304.1 627.5 303.8 628.0 304.6 628.5 300.4 629.0 296.9 629.5 300.4 630.0 304.7 630.5 304.1 631.0 303.8 631.5 304.4 632.0 303.7 632.5 303.5 632.7 303.0 633.0 303.6 633.5 304.5 634.0 304.7 634.5 304.0 635.0 303.1 635.5 296.6 635.8 294.6 636.0 295.7 636.5 301.6 637.0 303.1 637.5 300.3 637.6 300.1 638.0 302.0 638.5 304.1 639.0 304.5 639.5 304.0 640.0 304.1 640.5 303.1 641.0 296.6 641.3 294.6 641.5 295.7 642.0 301.6 642.5 304.5 643.0 304.2 643.5 304.3 644.0 304.8 644.5 304.8 645.0 303.7 645.5 304.1 646.0 304.8 646.5 297.6 646.9 294.6 647.0 295.0 647.5 300.2 648.0 304.6 648.5 304.4 649.0 304.6 649.5 304.2 650.0 304.0 650.5 304.6 651.0 300.4 651.3 299.2 651.5 299.9 652.0 303.8 652.5 303.9 653.0 302.9 653.5 300.6 654.0 302.9 654.5 304.3 655.0 303.8 655.5 304.3 656.0 304.3 656.5 293.6 657.0 286.8 657.5 293.6 658.0 303.9 658.5 304.7 659.0 304.0 659.5 304.7 660.0 303.8 660.5 304.0 661.0 304.2 661.5 304.9 662.0 300.8 662.5 296.0 662.6 295.7 663.0 298.5 663.5 303.8 664.0 304.6 664.5 303.9 665.0 301.8 665.4 300.1 665.5 300.4 666.0 303.3 666.5 304.0 667.0 304.3 667.5 300.4 667.8 299.2 668.0 299.9 668.5 303.7 669.0 300.8 669.3 299.9 669.5 300.7 670.0 304.3 670.5 303.9 671.0 298.8 671.5 294.6 672.0 298.8 672.5 304.3 673.0 304.4 673.5 304.5 674.0 304.8 674.5 302.7 674.8 301.8 675.0 302.2 675.5 304.8 676.0 304.7 676.5 304.3 677.0 304.0 677.5 302.4 677.7 301.9 678.0 302.7 678.5 304.8 679.0 303.2 679.5 299.8 679.6 299.4 680.0 301.1 680.5 304.1 681.0 301.5 681.5 301.0 681.9 299.2 682.0 299.5 682.5 302.9 683.0 302.8 683.5 295.6 683.8 293.5 684.0 294.7 684.5 301.1 685.0 304.8 685.5 302.5 686.0 304.8 686.5 304.6 687.0 304.7 687.5 304.6 688.0 303.5 688.5 302.0 688.5 302.0 689.0 303.9 689.5 304.3 690.0 303.9 690.5 302.6 690.8 301.6 691.0 302.0 691.5 304.6 692.0 304.0 692.5 303.9 693.0 304.1 693.5 301.6 693.6 301.4 694.0 301.9 694.5 304.9 695.0 304.0 695.5 304.8 696.0 304.4 696.5 297.5 697.0 287.5 697.2 285.7 697.5 289.0 698.0 300.2 698.5 304.0 699.0 304.9 699.5 304.8 700.0 302.3 700.5 300.1 700.5 300.1 701.0 302.7 701.5 304.7 702.0 304.8 702.5 304.8 703.0 302.0 703.5 299.5 703.5 299.5 704.0 302.1 704.5 304.2 705.0 304.7 705.5 302.6 705.7 302.1 706.0 302.9 706.5 304.8 707.0 304.5 707.5 304.8 708.0 304.8 708.5 304.6 709.0 298.1 709.5 293.5 710.0 298.1 710.5 304.3 711.0 304.1 711.5 304.5 712.0 304.3 712.5 303.2 713.0 299.9 713.1 299.5 713.5 301.2 714.0 304.1 714.5 304.5 715.0 304.0 715.5 302.1 716.0 296.7 716.2 295.7 716.5 297.5 717.0 303.5 717.5 304.7 718.0 303.5 718.5 301.3 718.5 301.2 719.0 303.1 719.5 304.6 720.0 303.2 720.5 300.1 720.6 299.9 721.0 301.7 721.5 304.8 722.0 304.6 722.5 302.4 723.0 300.0 723.0 300.0 723.5 302.6 724.0 304.3 724.5 302.7 725.0 299.3 725.1 299.1 725.5 301.1 726.0 304.6 726.5 304.6 727.0 304.8 727.5 303.6 727.9 302.3 728.0 302.4 728.5 303.5 729.0 301.6 729.5 303.5 730.0 304.8 730.5 304.4 731.0 304.6 731.5 304.4 732.0 302.7 732.2 302.3 732.5 303.2 733.0 304.5 733.5 302.1 734.0 298.3 734.1 298.0 734.5 300.2 735.0 304.6 735.5 304.5 736.0 302.7 736.1 302.6 736.5 303.8 737.0 304.6 737.5 304.7 738.0 304.0 738.5 302.5 738.5 302.6 739.0 304.3 739.5 304.4 740.0 302.6 740.1 302.5 740.5 303.9 741.0 304.1 741.5 305.0 742.0 304.5 742.4 303.6 742.5 302.0 743.0 304.8 743.5 304.7 744.0 304.7 744.5 302.3 744.7 302.0 745.0 302.9 745.5 305.1 746.0 304.9 746.5 304.9 747.0 302.6 747.5 300.2 748.0 301.9 748.5 304.8 749.0 304.1 749.5 305.0 750.0 304.5 750.5 304.3 751.0 303.3 751.3 302.5 751.5 302.9 752.0 304.9 752.5 304.3 753.0 305.0 753.5 303.2 753.8 302.4 754.0 302.8 754.5 304.6 755.0 305.0 755.5 304.6 755.9 303.9 756.0 304.1 756.5 304.3 757.0 304.5 757.5 304.6 758.0 304.9 758.5 304.7 759.0 304.3 759.5 301.3 759.8 300.2 760.0 300.8 760.5 304.1 761.0 304.6 761.5 304.9 762.0 302.0 762.5 302.9 763.0 300.7 763.5 303.0 764.0 304.7 764.5 305.0 765.0 299.4 765.4 296.9 765.5 297.2 766.0 301.5 766.5 304.3 767.0 300.6 767.2 299.8 767.5 300.7 768.0 303.2 768.5 305.2 769.0 304.4 769.5 304.5 770.0 304.7 770.5 301.0 770.8 300.0 771.0 300.7 771.5 304.3 772.0 304.7 772.5 300.1 773.0 292.6 773.2 291.3 773.5 293.8 774.0 302.0 774.5 304.5 775.0 303.1 775.5 299.9 775.6 299.7 776.0 301.5 776.5 304.4 777.0 299.4 777.5 291.2 777.7 289.7 778.0 292.4 778.5 301.5 779.0 304.7 779.5 304.7 780.0 304.9 780.5 304.4 781.0 302.6 781.5 299.7 781.6 299.6 782.0 301.6 782.5 305.0 783.0 305.0 783.5 303.8 783.6 303.7 784.0 304.7 784.5 304.3 785.0 298.8 785.5 294.6 786.0 298.8 786.5 305.1 787.0 304.6 787.5 305.0 788.0 300.7 788.4 298.7 788.5 299.1 789.0 302.6 789.5 304.7 790.0 304.7 790.5 305.0 791.0 304.6 791.5 303.6 792.0 299.8 792.2 299.1 792.5 300.4 793.0 304.7 793.5 304.4 794.0 305.1 794.5 303.2 794.9 302.1 795.0 302.3 795.5 304.6 796.0 304.7 796.5 304.7 797.0 304.4 797.3 303.9 797.5 302.9 798.0 304.5 798.5 305.1 799.0 304.3 799.5 305.0 800.0 302.4 800.5 300.0 800.5 300.0 801.0 302.6 801.5 302.1 802.0 296.7 802.2 295.7 802.5 297.5 803.0 303.5 803.5 304.4 804.0 303.0 804.5 304.5 805.0 304.5 805.5 301.3 805.7 300.7 806.0 301.6 806.5 304.6 807.0 304.5 807.5 303.1 808.0 304.6 808.5 304.9 809.0 305.2 809.5 302.8 810.0 300.8 810.0 300.8 810.5 303.2 811.0 304.7 811.5 304.6 812.0 304.6 812.5 305.0 813.0 304.8 813.5 304.9 814.0 301.1 814.5 298.0 815.0 301.1 815.5 304.6 816.0 304.5 816.5 305.1 817.0 305.1 817.5 305.2 818.0 302.8 818.2 302.3 818.5 303.0 819.0 304.6 819.5 304.9 820.0 302.9 820.5 299.8 820.6 299.6 821.0 301.5 821.5 305.2 822.0 305.2 822.5 304.6 823.0 301.2 823.2 300.5 823.5 301.4 824.0 304.6 824.5 304.9 825.0 300.6 825.5 293.7 825.7 292.4 826.0 294.7 826.5 302.4 827.0 304.6 827.5 304.7 828.0 302.4 828.5 298.6 828.6 298.3 829.0 300.4 829.5 304.5 830.0 304.5 830.5 305.2 831.0 305.3 831.5 304.6 832.0 297.6 832.4 294.6 832.5 295.0 833.0 300.2 833.5 305.4 834.0 305.1 834.5 304.1 835.0 301.0 835.2 300.5 835.5 301.7 836.0 304.9 836.5 304.5 837.0 305.2 837.5 295.9 838.0 290.2 838.5 295.9 839.0 291.6 839.2 290.2 839.5 292.8 840.0 301.7 840.5 304.8 841.0 304.1 841.5 301.6 841.6 301.4 842.0 302.7 842.5 305.2 843.0 305.0 843.5 304.5 844.0 305.0 844.5 304.9 845.0 302.6 845.5 300.6 846.0 297.3 846.5 300.6 847.0 304.9 847.5 304.7 848.0 303.0 848.3 302.1 848.5 302.6 849.0 305.0 849.5 302.9 850.0 305.2 850.5 304.8 851.0 305.3 851.5 304.6 852.0 302.4 852.5 302.8 852.9 301.4 853.0 301.6 853.5 304.0 854.0 304.7 854.5 304.7 855.0 305.3 855.5 304.1 856.0 302.5 856.0 302.5 856.5 304.1 857.0 302.6 857.5 304.8 858.0 303.4 858.0 303.4 858.5 304.7 859.0 304.6 859.5 305.2 860.0 303.8 860.3 303.2 860.5 303.6 861.0 305.1 861.5 305.4 862.0 303.8 862.2 303.5 862.5 304.2 863.0 304.6 863.5 302.6 863.9 303.5 864.0 303.6 864.5 305.2 865.0 305.1 865.5 305.0 866.0 304.1 866.5 302.5 867.0 304.0 867.5 305.2 868.0 305.2 868.5 303.0 868.7 302.5 869.0 303.3 869.5 303.8 870.0 305.2 870.5 304.9 871.0 304.1 871.1 304.0 871.5 303.1 872.0 305.2 872.5 304.8 873.0 305.0 873.5 305.1 874.0 304.3 874.5 305.0 875.0 305.3 875.5 305.4 876.0 304.9 876.5 305.0 877.0 305.1 877.5 302.9 878.0 299.6 878.1 299.4 878.5 301.3 879.0 304.9 879.5 304.7 880.0 305.1 880.5 303.6 880.7 303.2 881.0 303.8 881.5 304.8 882.0 303.9 882.1 303.7 882.5 304.4 883.0 305.3 883.5 305.4 884.0 305.2 884.5 305.3 885.0 304.8 885.5 302.6 885.8 301.8 886.0 302.4 886.5 304.7 887.0 305.3 887.5 305.2 888.0 304.7 888.5 304.0 888.5 304.0 889.0 302.6 889.5 305.5 890.0 301.3 890.4 299.4 890.5 299.6 891.0 302.9 891.5 305.4 892.0 305.3 892.5 305.1 893.0 304.7 893.5 302.3 893.7 301.9 894.0 302.9 894.5 305.0 895.0 305.0 895.5 303.3 895.9 302.1 896.0 302.3 896.5 304.5 897.0 305.2 897.5 305.2 898.0 305.2 898.5 303.0 899.0 302.9 899.5 299.6 899.6 299.4 900.0 301.3 900.5 305.2 901.0 304.8 901.5 305.5 902.0 305.1 902.5 305.2 903.0 305.1 903.5 300.0 904.0 294.7 904.1 294.3 904.5 297.4 905.0 304.7 905.5 304.9 906.0 305.1 906.5 305.1 907.0 304.1 907.5 298.9 907.8 297.3 908.0 298.1 908.5 302.8 909.0 305.1 909.5 305.3 910.0 302.7 910.4 300.9 910.5 301.0 911.0 303.5 911.5 301.8 911.9 300.0 912.0 300.2 912.5 303.2 913.0 305.0 913.5 305.5 914.0 305.1 914.5 302.7 914.7 302.2 915.0 303.0 915.5 304.9 916.0 305.3 916.5 305.2 917.0 301.9 917.5 296.3 917.7 295.3 918.0 297.2 918.5 303.4 919.0 305.2 919.5 305.0 920.0 305.5 920.5 305.4 921.0 304.8 921.5 301.5 921.8 300.4 922.0 301.0 922.5 304.2 923.0 305.6 923.5 305.5 924.0 305.2 924.5 303.6 924.7 303.2 925.0 303.8 925.5 305.2 926.0 305.0 926.5 305.1 927.0 304.3 927.5 303.0 927.5 303.0 928.0 303.9 928.5 305.1 929.0 305.5 929.5 304.9 930.0 303.7 930.4 302.5 930.5 302.6 931.0 304.6 931.5 305.1 932.0 305.0 932.5 303.8 932.7 303.4 933.0 304.0 933.5 305.4 934.0 304.9 934.5 305.1 935.0 303.2 935.5 303.3 935.7 302.8 936.0 303.4 936.5 305.3 937.0 305.0 937.5 304.0 937.9 303.0 938.0 303.2 938.5 305.0 939.0 305.4 939.5 305.6 940.0 304.9 940.5 303.6 941.0 302.1 941.0 302.2 941.5 304.1 942.0 305.4 942.5 304.8 943.0 303.7 943.0 303.8 943.5 305.0 944.0 305.2 944.5 305.3 945.0 304.7 945.4 303.9 945.5 304.0 946.0 305.4 946.5 305.2 947.0 303.8 947.5 298.3 947.8 296.7 948.0 297.6 948.5 302.6 949.0 305.4 949.5 305.7 950.0 304.8 950.5 303.2 950.6 303.1 951.0 304.2 951.5 305.0 952.0 305.4 952.5 304.0 952.8 303.5 953.0 303.9 953.5 305.0 954.0 305.6 954.5 305.2 955.0 305.4 955.5 300.6 956.0 297.3 956.5 300.6 957.0 305.1 957.5 305.7 958.0 305.1 958.5 305.6 959.0 305.3 959.5 305.5 960.0 302.6 960.5 297.6 960.7 296.7 961.0 298.3 961.5 303.8 962.0 305.3 962.5 305.5 963.0 305.6 963.5 305.0 964.0 302.8 964.2 302.3 964.5 303.1 965.0 305.0 965.5 305.7 966.0 303.8 966.3 303.0 966.5 303.3 967.0 305.1 967.5 305.4 968.0 305.6 968.5 304.8 969.0 300.6 969.3 299.4 969.5 300.1 970.0 303.8 970.5 305.4 971.0 305.7 971.5 305.4 972.0 303.1 972.2 302.5 972.5 303.1 973.0 305.5 973.5 305.5 974.0 305.3 974.5 305.5 975.0 303.7 975.4 302.5 975.5 302.6 976.0 304.6 976.5 305.2 977.0 305.3 977.5 305.5 978.0 305.2 978.5 305.3 979.0 303.6 979.1 303.4 979.5 304.2 980.0 305.6 980.5 305.2 981.0 305.3 981.5 304.1 981.6 304.0 982.0 305.0 982.5 305.1 983.0 303.7 983.5 303.6 983.7 303.2 984.0 303.8 984.5 305.6 985.0 305.5 985.5 305.2 986.0 303.8 986.5 300.1 986.7 299.4 987.0 300.6 987.5 304.8 988.0 305.4 988.5 305.2 989.0 303.2 989.2 302.8 989.5 303.5 990.0 305.4 990.5 305.7 991.0 304.6 991.5 303.3 991.5 303.3 992.0 304.7 992.5 305.1 993.0 305.4 993.5 305.5 994.0 304.1 994.2 303.7 994.5 304.1 995.0 305.2 995.5 305.2 996.0 305.8 996.5 301.3 996.9 299.4 997.0 299.6 997.5 302.9 998.0 305.3 998.5 305.8 999.0 305.3 999.5 305.3 1000.0 305.5 1000.5 303.7 1000.8 302.9 1001.0 303.2 1001.5 305.3 1002.0 305.7 1002.5 305.3 1003.0 305.4 1003.5 304.0 1004.0 301.6 1004.1 301.4 1004.5 302.8 1005.0 305.7 1005.5 305.2 1006.0 305.2 1006.5 305.4 1007.0 305.5 1007.5 303.0 1007.8 302.2 1008.0 302.6 1008.5 305.0 1009.0 305.8 1009.5 304.1 1010.0 298.9 1010.3 297.3 1010.5 298.1 1011.0 302.8 1011.5 305.5 1012.0 304.7 1012.4 303.6 1012.5 303.7 1013.0 305.1 1013.5 305.4 1014.0 305.1 1014.5 303.4 1014.6 303.3 1015.0 304.2 1015.5 305.6 1016.0 305.5 1016.5 305.8 1017.0 305.2 1017.5 304.2 1018.0 303.3 1018.1 303.2 1018.5 304.2 1019.0 305.5 1019.5 304.3 1019.7 304.1 1020.0 304.7 1020.5 305.6 1021.0 305.7 1021.5 305.8 1022.0 303.8 1022.3 303.0 1022.5 303.3 1023.0 305.3 1023.5 305.3 1024.0 301.7 1024.5 297.6 1024.6 297.3 1025.0 299.7 1025.5 305.2 1026.0 305.8 1026.5 305.3 1027.0 305.3 1027.5 304.0 1027.7 303.6 1028.0 304.1 1028.5 305.8 1029.0 305.5 1029.5 305.5 1030.0 303.1 1030.3 302.5 1030.5 303.0 1031.0 303.7 1031.5 305.8 1032.0 304.3 1032.5 302.5 1032.5 302.5 1033.0 303.9 1033.5 305.8 1034.0 305.7 1034.5 305.2 1035.0 304.3 1035.0 304.3 1035.5 305.4 1036.0 305.9 1036.5 302.8 1036.9 301.4 1037.0 301.6 1037.5 304.0 1038.0 304.2 1038.5 305.4 1039.0 305.4 1039.5 304.7 1040.0 302.6 1040.1 302.5 1040.5 303.6 1041.0 305.6 1041.5 305.9 1042.0 304.5 1042.3 303.9 1042.5 304.2 1043.0 305.6 1043.5 305.7 1044.0 305.3 1044.5 305.9 1045.0 305.7 1045.5 304.0 1045.9 303.1 1046.0 303.2 1046.5 305.0 1047.0 305.9 1047.0 307.4Z"/>
<path d="M133.0 403.7L133.0 375.2 133.0 400.3 133.5 387.8 134.0 376.5 134.1 375.7 134.5 382.3 135.0 397.9 135.5 398.2 136.0 400.3 136.5 400.0 137.0 393.5 137.5 377.9 137.8 373.3 138.0 375.8 138.5 389.8 139.0 393.3 139.5 382.7 139.7 380.8 140.0 384.3 140.5 396.0 141.0 400.2 141.5 386.3 142.0 359.6 142.3 351.7 142.5 356.0 143.0 380.0 143.5 399.6 144.0 382.3 144.5 371.8 145.0 382.3 145.5 400.5 146.0 393.2 146.5 377.2 146.8 372.4 147.0 375.0 147.5 389.4 148.0 400.8 148.5 400.1 149.0 400.2 149.5 400.4 150.0 396.6 150.3 395.3 150.5 396.0 151.0 399.7 151.5 399.9 152.0 399.7 152.5 400.4 153.0 390.5 153.5 354.8 153.9 339.8 154.0 341.7 154.5 367.4 155.0 394.7 155.5 370.4 155.9 360.1 156.0 361.4 156.5 378.9 157.0 400.4 157.5 400.3 158.0 400.1 158.5 400.6 159.0 394.2 159.5 379.6 159.8 375.2 160.0 377.6 160.5 390.7 161.0 399.9 161.5 399.8 162.0 400.3 162.5 400.2 163.0 377.8 163.5 365.1 164.0 377.8 164.5 400.2 165.0 399.8 165.5 400.0 166.0 391.7 166.5 359.1 166.9 345.4 167.0 347.1 167.5 370.6 168.0 387.6 168.5 362.9 168.8 355.6 169.0 359.6 169.5 381.8 170.0 400.0 170.5 398.6 171.0 400.1 171.5 394.8 172.0 388.5 172.1 388.0 172.5 391.7 173.0 400.0 173.5 400.4 174.0 399.8 174.5 397.3 175.0 399.9 175.5 378.5 176.0 340.1 176.3 328.6 176.5 334.8 177.0 369.5 177.5 393.7 177.6 393.1 178.0 395.2 178.5 400.7 179.0 397.6 179.5 399.9 180.0 381.2 180.5 370.2 181.0 381.2 181.5 400.1 182.0 400.1 182.5 400.3 183.0 399.8 183.5 400.4 184.0 400.5 184.5 400.1 185.0 369.2 185.5 352.3 186.0 369.2 186.5 400.1 187.0 400.2 187.5 400.8 188.0 400.2 188.5 400.1 189.0 369.5 189.5 352.8 190.0 369.5 190.5 400.1 191.0 400.0 191.5 400.3 192.0 398.4 192.5 390.4 192.8 388.0 193.0 389.3 193.5 396.5 194.0 400.7 194.5 399.8 195.0 400.2 195.5 400.8 196.0 400.2 196.5 400.9 197.0 378.2 197.5 365.7 198.0 378.2 198.5 400.8 199.0 400.3 199.5 387.8 200.0 376.5 200.1 375.7 200.5 382.3 201.0 397.9 201.5 400.6 202.0 400.6 202.5 400.1 203.0 398.4 203.5 397.8 204.0 394.3 204.0 394.3 204.5 397.0 205.0 400.6 205.5 400.7 206.0 400.1 206.5 400.5 207.0 400.7 207.5 381.6 208.0 359.1 208.2 355.1 208.5 362.5 209.0 387.4 209.5 400.2 210.0 390.9 210.5 378.0 210.7 375.7 211.0 380.0 211.5 394.3 212.0 400.6 212.5 398.1 213.0 396.7 213.4 393.9 213.5 394.0 214.0 397.6 214.5 400.5 215.0 398.6 215.2 398.1 215.5 399.0 216.0 400.2 216.5 400.6 217.0 400.3 217.5 399.9 218.0 394.3 218.5 384.7 218.7 383.0 219.0 386.2 219.5 396.8 220.0 400.9 220.5 400.4 221.0 400.0 221.5 400.2 222.0 400.0 222.5 377.0 223.0 364.0 223.5 377.0 224.0 400.1 224.5 400.5 225.0 400.9 225.5 400.4 226.0 397.0 226.5 399.6 226.6 399.5 227.0 400.7 227.5 400.8 228.0 400.9 228.5 400.3 229.0 400.3 229.5 396.0 230.0 388.3 230.2 386.9 230.5 389.5 231.0 398.1 231.5 400.3 232.0 400.8 232.5 389.8 233.0 383.0 233.5 389.8 234.0 400.2 234.5 400.1 235.0 400.4 235.5 395.2 236.0 372.3 236.4 362.6 236.5 363.8 237.0 380.4 237.5 400.1 238.0 400.6 238.5 393.0 239.0 382.2 239.2 380.2 239.5 383.8 240.0 395.8 240.5 399.3 241.0 395.5 241.2 395.0 241.5 396.7 242.0 400.7 242.5 400.9 243.0 393.9 243.5 386.9 243.6 386.4 244.0 390.5 244.5 400.1 245.0 400.0 245.5 400.9 246.0 400.9 246.5 388.0 247.0 364.0 247.3 356.8 247.5 360.7 248.0 382.3 248.5 400.8 249.0 387.4 249.5 362.5 249.8 355.1 250.0 359.1 250.5 381.6 251.0 400.3 251.5 400.6 252.0 392.2 252.4 388.6 252.5 389.0 253.0 395.1 253.5 396.9 254.0 392.2 254.1 391.9 254.5 394.8 255.0 400.3 255.5 400.5 256.0 400.1 256.5 396.0 257.0 388.3 257.2 386.9 257.5 389.5 258.0 398.1 258.5 400.9 259.0 400.3 259.5 398.2 260.0 387.2 260.5 379.1 261.0 387.2 261.5 400.6 262.0 400.4 262.5 400.5 263.0 373.1 263.5 351.4 263.6 349.8 264.0 362.5 264.5 392.6 265.0 400.9 265.5 400.3 266.0 400.8 266.5 400.4 267.0 395.4 267.5 391.4 268.0 395.4 268.5 401.1 269.0 400.3 269.5 400.3 270.0 400.4 270.5 400.5 271.0 401.1 271.5 401.2 272.0 399.2 272.5 392.3 272.8 390.3 273.0 391.4 273.5 397.6 274.0 400.8 274.5 400.6 275.0 400.5 275.5 400.6 276.0 400.7 276.5 399.2 277.0 360.5 277.5 339.4 278.0 360.5 278.5 399.2 279.0 401.1 279.5 396.9 280.0 393.6 280.5 396.9 281.0 400.3 281.5 396.3 281.7 395.4 282.0 396.4 282.5 400.5 283.0 400.5 283.5 400.4 284.0 400.3 284.5 396.1 285.0 384.6 285.3 381.1 285.5 383.0 286.0 393.4 286.5 400.2 287.0 401.0 287.5 400.3 288.0 400.4 288.5 399.7 288.9 398.6 289.0 398.9 289.5 400.6 290.0 397.2 290.5 390.6 290.7 389.4 291.0 391.6 291.5 398.9 292.0 400.4 292.5 400.9 293.0 400.6 293.5 400.2 293.9 399.0 294.0 399.1 294.5 400.9 295.0 400.4 295.5 397.8 295.7 397.3 296.0 398.3 296.5 401.1 297.0 401.2 297.5 393.5 298.0 383.2 298.2 381.3 298.5 384.7 299.0 396.2 299.5 400.9 300.0 400.7 300.5 400.5 301.0 397.6 301.4 395.9 301.5 396.1 302.0 399.3 302.5 401.1 303.0 400.6 303.5 400.7 304.0 400.1 304.5 390.5 304.9 386.4 305.0 386.9 305.5 393.9 306.0 400.3 306.5 400.7 307.0 401.1 307.5 399.0 308.0 394.3 308.2 393.5 308.5 395.0 309.0 400.3 309.5 384.0 310.0 354.0 310.3 345.0 310.5 349.9 311.0 377.0 311.5 400.6 312.0 399.6 312.5 395.4 312.7 394.7 313.0 396.1 313.5 400.7 314.0 401.1 314.5 398.0 315.0 400.9 315.5 401.0 316.0 401.2 316.5 399.1 316.9 397.7 317.0 397.9 317.5 400.3 318.0 401.0 318.5 397.4 319.0 380.4 319.4 373.3 319.5 374.2 320.0 386.4 320.5 401.3 321.0 399.0 321.5 401.3 322.0 400.6 322.5 385.2 323.0 356.8 323.3 348.4 323.5 353.0 324.0 378.5 324.5 400.8 325.0 401.0 325.5 400.9 326.0 400.1 326.5 396.5 326.7 395.9 327.0 397.1 327.5 400.7 328.0 401.3 328.5 398.9 329.0 401.0 329.5 401.0 330.0 400.9 330.5 400.9 331.0 401.3 331.5 400.8 332.0 397.7 332.5 388.5 332.8 385.8 333.0 387.3 333.5 395.5 334.0 400.9 334.5 401.2 335.0 400.7 335.5 401.0 336.0 400.5 336.5 398.8 337.0 391.4 337.3 389.2 337.5 390.4 338.0 397.1 338.5 400.5 339.0 401.2 339.5 401.0 340.0 400.8 340.5 399.1 341.0 394.4 341.2 393.6 341.5 395.1 342.0 400.3 342.5 401.3 343.0 400.2 343.5 397.8 343.6 397.6 344.0 399.1 344.5 398.3 345.0 400.6 345.5 400.6 346.0 400.9 346.5 400.8 347.0 401.2 347.5 401.2 348.0 388.7 348.5 381.3 349.0 388.7 349.5 401.1 350.0 400.6 350.5 401.3 351.0 401.4 351.5 400.5 352.0 400.9 352.5 393.5 352.9 390.3 353.0 390.7 353.5 396.1 354.0 400.7 354.5 401.0 355.0 400.9 355.5 401.2 356.0 400.7 356.5 401.2 357.0 400.4 357.3 399.9 357.5 400.2 358.0 401.1 358.5 400.8 359.0 401.0 359.5 398.3 359.7 397.8 360.0 398.6 360.5 401.3 361.0 401.1 361.5 395.6 361.9 393.1 362.0 393.4 362.5 397.7 363.0 401.2 363.5 401.1 364.0 401.1 364.5 399.4 364.8 398.6 365.0 398.9 365.5 400.8 366.0 401.1 366.5 399.9 366.9 398.4 367.0 398.4 367.5 400.4 368.0 400.5 368.5 400.6 369.0 393.0 369.4 389.7 369.5 390.1 370.0 395.7 370.5 401.1 371.0 399.4 371.4 398.0 371.5 398.1 372.0 400.4 372.5 400.9 373.0 400.7 373.5 401.4 374.0 396.4 374.5 392.8 375.0 396.4 375.5 401.0 376.0 401.3 376.5 401.2 377.0 400.6 377.5 400.7 377.7 400.4 378.0 400.8 378.5 400.8 379.0 401.0 379.5 400.8 380.0 400.9 380.5 398.8 380.9 397.6 381.0 397.8 381.5 400.4 382.0 400.7 382.5 399.5 383.0 388.6 383.5 381.2 384.0 388.6 384.5 401.0 385.0 401.2 385.5 400.9 386.0 401.3 386.5 400.7 387.0 398.5 387.5 401.0 388.0 397.1 388.5 392.3 388.6 392.0 389.0 394.8 389.5 401.3 390.0 400.6 390.5 400.6 391.0 398.9 391.5 400.8 392.0 400.9 392.5 399.0 392.7 398.6 393.0 399.5 393.5 400.8 394.0 399.8 394.5 397.1 394.6 396.9 395.0 398.5 395.5 401.2 396.0 400.7 396.5 401.3 397.0 400.7 397.5 399.3 397.8 398.7 398.0 399.2 398.5 400.8 399.0 396.5 399.5 385.6 399.8 382.3 400.0 384.1 400.5 393.9 401.0 400.7 401.5 401.3 402.0 401.0 402.5 399.0 403.0 396.2 403.1 396.1 403.5 398.2 404.0 399.0 404.5 400.7 405.0 396.2 405.5 384.6 405.8 381.2 406.0 383.1 406.5 393.4 407.0 400.9 407.5 401.5 408.0 391.4 408.5 379.0 408.7 376.8 409.0 380.9 409.5 394.7 410.0 400.9 410.5 400.7 411.0 401.1 411.5 401.1 412.0 401.2 412.5 390.6 413.0 377.4 413.2 375.0 413.5 379.4 414.0 394.1 414.5 401.5 415.0 401.2 415.5 401.5 416.0 400.7 416.5 401.4 417.0 398.6 417.5 393.3 417.7 392.4 418.0 394.1 418.5 399.9 419.0 398.8 419.5 399.2 419.7 398.8 420.0 399.6 420.5 401.4 421.0 401.2 421.5 401.1 422.0 396.3 422.5 391.0 422.6 390.6 423.0 393.7 423.5 401.0 424.0 401.4 424.5 400.8 425.0 399.7 425.5 398.8 426.0 385.6 426.4 380.1 426.5 380.8 427.0 390.3 427.5 398.7 428.0 400.7 428.5 401.5 429.0 401.5 429.5 400.9 430.0 401.4 430.5 400.8 431.0 399.6 431.2 399.1 431.5 399.7 432.0 400.5 432.5 398.2 432.6 398.0 433.0 399.3 433.5 401.1 434.0 401.5 434.5 401.0 435.0 400.3 435.5 398.4 435.5 398.4 436.0 400.0 436.5 401.2 437.0 401.1 437.5 397.3 438.0 390.9 438.2 389.7 438.5 391.8 439.0 399.0 439.5 400.9 440.0 401.1 440.5 400.8 441.0 399.1 441.0 399.1 441.5 400.4 442.0 400.9 442.5 401.6 443.0 401.6 443.5 400.3 443.9 399.0 444.0 399.5 444.5 400.8 445.0 401.6 445.5 401.6 446.0 400.9 446.5 398.4 447.0 393.0 447.2 392.0 447.5 393.8 448.0 399.8 448.5 401.4 449.0 401.0 449.5 400.0 449.6 399.8 450.0 400.7 450.5 400.9 451.0 401.6 451.5 401.2 452.0 399.9 452.2 399.6 452.5 400.2 453.0 401.3 453.5 401.1 454.0 401.2 454.5 401.7 455.0 401.7 455.5 400.5 456.0 398.2 456.1 398.0 456.5 399.3 457.0 399.7 457.5 400.9 458.0 401.4 458.5 401.0 459.0 400.4 459.2 400.1 459.5 400.6 460.0 399.5 460.5 401.0 461.0 401.0 461.5 401.0 462.0 400.0 462.0 398.7 462.5 401.1 463.0 401.5 463.5 400.5 463.9 399.3 464.0 399.4 464.5 401.0 465.0 401.3 465.5 401.0 466.0 401.4 466.5 400.9 467.0 401.5 467.5 401.4 468.0 395.4 468.4 392.8 468.5 393.1 469.0 397.5 469.5 401.3 470.0 401.2 470.5 401.3 471.0 401.7 471.5 401.5 472.0 400.7 472.4 399.8 472.5 400.0 473.0 400.9 473.5 401.4 474.0 401.0 474.5 394.5 475.0 388.0 475.1 387.5 475.5 391.3 476.0 400.4 476.5 401.6 477.0 401.1 477.5 401.1 478.0 398.6 478.3 397.9 478.5 398.5 479.0 401.3 479.5 401.7 480.0 400.4 480.5 397.0 480.7 396.4 481.0 397.5 481.5 401.3 482.0 401.1 482.5 401.2 483.0 401.1 483.5 400.7 483.7 400.5 484.0 401.0 484.5 401.0 485.0 391.5 485.5 382.9 485.6 382.3 486.0 387.3 486.5 399.3 487.0 401.6 487.5 401.1 488.0 401.1 488.5 397.5 489.0 391.3 489.2 390.2 489.5 392.3 490.0 399.2 490.5 401.1 491.0 401.4 491.5 401.3 492.0 401.6 492.5 400.5 493.0 397.7 493.2 397.2 493.5 398.4 494.0 399.2 494.5 399.4 495.0 397.6 495.0 397.6 495.5 399.8 496.0 401.1 496.5 401.1 497.0 399.5 497.4 398.0 497.5 398.1 498.0 400.2 498.5 401.4 499.0 387.2 499.5 370.4 499.7 367.4 500.0 372.9 500.5 391.5 501.0 401.4 501.5 396.4 502.0 391.5 502.1 391.2 502.5 394.3 503.0 400.3 503.5 401.0 504.0 400.2 504.1 400.1 504.5 400.9 505.0 401.6 505.5 401.0 506.0 401.8 506.5 401.3 507.0 400.9 507.5 399.5 508.0 400.9 508.5 401.3 509.0 401.6 509.5 401.3 510.0 401.3 510.5 401.5 511.0 401.3 511.5 399.8 511.8 399.1 512.0 399.5 512.5 401.7 513.0 401.0 513.5 398.7 513.6 398.4 514.0 399.4 514.5 401.6 515.0 401.8 515.5 400.3 516.0 393.7 516.4 390.6 516.5 391.0 517.0 396.3 517.5 400.9 518.0 398.9 518.1 398.8 518.5 400.0 519.0 401.7 519.5 401.4 520.0 401.1 520.5 399.6 520.5 399.6 521.0 400.7 521.5 401.5 522.0 401.1 522.5 398.5 523.0 394.9 523.1 394.6 523.5 396.7 524.0 401.7 524.5 401.3 525.0 401.2 525.5 400.6 525.8 400.1 526.0 400.4 526.5 401.2 527.0 401.2 527.5 401.5 528.0 401.5 528.5 400.2 529.0 390.8 529.4 386.8 529.5 387.3 530.0 394.1 530.5 401.6 531.0 401.5 531.5 401.7 532.0 401.1 532.5 400.1 532.7 399.9 533.0 400.6 533.5 401.5 534.0 401.5 534.5 401.4 535.0 398.5 535.4 396.9 535.5 397.1 536.0 399.8 536.5 401.6 537.0 401.3 537.5 401.6 538.0 401.2 538.3 400.8 538.5 401.0 539.0 401.7 539.5 401.7 540.0 401.3 540.5 401.9 541.0 400.5 541.5 399.2 542.0 395.9 542.1 395.7 542.5 397.6 543.0 401.6 543.5 401.4 544.0 401.4 544.5 401.8 545.0 401.1 545.2 400.7 545.5 401.1 546.0 401.4 546.5 401.6 547.0 401.8 547.5 401.2 548.0 401.7 548.5 400.1 548.8 399.5 549.0 399.8 549.5 401.3 550.0 401.7 550.5 401.6 551.0 401.2 551.5 401.2 552.0 401.3 552.3 400.9 552.5 401.1 553.0 401.4 553.5 401.5 554.0 401.9 554.5 401.8 555.0 400.6 555.3 400.0 555.5 400.3 556.0 401.7 556.5 401.7 557.0 401.3 557.5 401.5 557.9 401.0 558.0 401.1 558.5 401.5 559.0 401.3 559.5 401.4 560.0 401.2 560.5 401.1 561.0 399.2 561.1 399.1 561.5 400.2 562.0 401.6 562.5 401.7 563.0 401.9 563.5 400.9 563.7 400.6 564.0 401.0 564.5 401.2 565.0 400.6 565.1 400.4 565.5 401.1 566.0 401.2 566.5 401.9 567.0 401.6 567.5 401.7 568.0 400.0 568.5 389.9 568.9 385.7 569.0 386.2 569.5 393.5 570.0 401.4 570.5 401.5 571.0 401.5 571.5 401.8 572.0 401.3 572.5 401.5 573.0 399.8 573.3 399.3 573.5 399.8 574.0 401.5 574.5 401.5 575.0 399.2 575.5 395.9 575.6 395.7 576.0 397.6 576.5 401.8 577.0 401.0 577.3 400.6 577.5 400.9 578.0 401.2 578.5 401.9 579.0 401.7 579.5 401.4 580.0 401.7 580.5 401.7 581.0 401.1 581.5 394.2 581.9 391.3 582.0 391.7 582.5 396.7 583.0 402.0 583.5 401.3 584.0 401.3 584.5 401.6 585.0 401.5 585.5 400.1 585.6 400.0 586.0 400.9 586.5 401.3 587.0 399.3 587.2 398.9 587.5 399.6 588.0 401.7 588.5 401.4 589.0 401.4 589.5 392.9 590.0 382.1 590.2 380.1 590.5 383.7 591.0 395.8 591.5 398.5 592.0 395.5 592.0 395.5 592.5 397.9 593.0 401.9 593.5 401.4 594.0 401.8 594.5 394.7 595.0 388.4 595.1 387.9 595.5 391.6 596.0 400.4 596.5 401.8 597.0 401.4 597.5 398.8 597.7 398.3 598.0 399.0 598.5 401.7 599.0 402.0 599.5 401.3 600.0 399.1 600.2 398.7 600.5 399.6 601.0 401.8 601.5 396.0 602.0 388.2 602.2 386.8 602.5 389.4 603.0 398.0 603.5 399.3 603.8 398.7 604.0 399.3 604.5 401.3 605.0 401.5 605.5 401.5 606.0 401.5 606.5 401.7 607.0 398.8 607.5 391.2 607.8 389.0 608.0 390.2 608.5 397.0 609.0 401.4 609.5 401.3 610.0 401.5 610.5 401.5 611.0 401.7 611.5 401.6 612.0 402.0 612.5 401.4 613.0 396.7 613.4 394.6 613.5 394.9 614.0 398.5 614.5 402.0 615.0 401.6 615.5 401.7 616.0 401.4 616.5 401.3 617.0 399.2 617.1 399.0 617.5 399.9 618.0 401.4 618.5 400.7 618.8 400.3 619.0 400.7 619.5 401.4 620.0 401.9 620.5 400.1 621.0 396.4 621.2 395.7 621.5 396.9 622.0 401.0 622.5 401.8 623.0 401.5 623.5 401.5 624.0 400.3 624.0 400.3 624.5 401.2 625.0 401.7 625.5 401.3 626.0 401.1 626.0 401.1 626.5 401.3 627.0 401.9 627.5 401.3 628.0 401.3 628.5 401.4 629.0 400.3 629.2 399.9 629.5 400.3 630.0 401.8 630.5 401.4 631.0 400.4 631.2 400.0 631.5 400.5 632.0 401.9 632.5 401.4 633.0 401.9 633.5 401.3 634.0 399.2 634.5 395.9 634.6 395.7 635.0 397.6 635.5 401.7 636.0 402.0 636.5 401.6 637.0 401.0 637.1 400.8 637.5 401.5 638.0 402.0 638.5 401.9 639.0 401.6 639.5 400.4 639.6 400.4 640.0 401.3 640.5 401.4 641.0 401.4 641.5 400.1 642.0 401.8 642.5 399.8 642.5 400.6 643.0 401.5 643.5 401.8 644.0 399.9 644.5 401.3 644.6 401.2 645.0 401.5 645.5 401.8 646.0 401.6 646.5 401.6 647.0 401.2 647.2 401.0 647.5 401.5 648.0 401.6 648.5 402.0 649.0 401.9 649.5 400.8 649.6 400.7 650.0 401.4 650.5 401.9 651.0 401.0 651.4 400.2 651.5 400.3 652.0 401.3 652.5 401.9 653.0 401.5 653.5 401.7 654.0 402.0 654.5 401.4 654.8 401.0 655.0 401.3 655.5 401.5 656.0 401.5 656.5 401.2 656.6 401.1 657.0 401.5 657.5 401.8 658.0 401.6 658.5 401.1 658.6 401.0 659.0 401.5 659.5 401.4 660.0 401.4 660.5 401.8 661.0 401.7 661.5 401.2 661.6 400.1 662.0 400.8 662.5 401.4 663.0 401.8 663.5 401.5 664.0 401.9 664.5 399.8 664.8 399.1 665.0 399.5 665.5 401.6 666.0 401.5 666.5 401.3 667.0 401.5 667.5 401.8 668.0 401.6 668.5 401.6 669.0 401.0 669.0 401.0 669.5 401.5 670.0 401.4 670.5 401.4 671.0 400.1 671.5 401.9 672.0 401.3 672.1 401.2 672.5 401.6 673.0 401.9 673.5 401.3 674.0 400.8 674.1 400.7 674.5 401.5 675.0 401.9 675.5 401.8 676.0 401.9 676.5 401.3 677.0 399.6 677.1 399.5 677.5 400.5 678.0 401.7 678.5 401.7 679.0 401.4 679.5 401.0 679.5 401.0 680.0 401.3 680.5 400.7 680.7 400.5 681.0 401.0 681.5 401.8 682.0 401.9 682.5 401.4 683.0 401.9 683.5 401.2 683.9 400.3 684.0 400.3 684.5 401.6 685.0 401.5 685.3 401.0 685.5 401.2 686.0 401.6 686.5 401.7 687.0 401.5 687.5 401.4 688.0 401.1 688.5 401.9 689.0 401.9 689.5 401.5 690.0 400.6 690.0 400.6 690.5 401.8 691.0 401.7 691.5 401.9 692.0 400.1 692.5 396.4 692.7 395.7 693.0 396.9 693.5 401.0 694.0 401.5 694.5 401.6 695.0 400.3 695.0 400.5 695.5 401.4 696.0 399.6 696.5 401.5 697.0 401.1 697.4 400.2 697.5 400.3 698.0 401.6 698.5 401.8 699.0 401.4 699.5 401.8 700.0 400.8 700.0 400.8 700.5 401.4 701.0 401.7 701.5 400.6 702.0 401.8 702.5 398.9 702.8 398.0 703.0 398.5 703.5 401.1 704.0 401.9 704.5 401.5 705.0 401.4 705.5 400.4 705.5 400.4 706.0 401.6 706.5 401.9 707.0 401.4 707.5 400.1 707.5 400.1 708.0 401.2 708.5 401.5 709.0 401.9 709.5 401.9 710.0 401.8 710.5 401.1 710.5 401.1 711.0 401.9 711.5 401.5 712.0 401.7 712.5 401.9 713.0 393.4 713.5 388.4 714.0 393.4 714.5 400.2 715.0 400.8 715.3 400.2 715.5 400.4 716.0 401.4 716.5 401.9 717.0 401.6 717.5 400.6 718.0 399.3 718.0 399.3 718.5 400.8 719.0 401.9 719.5 401.8 720.0 400.1 720.5 396.4 720.7 395.7 721.0 396.9 721.5 401.0 722.0 400.4 722.5 401.5 723.0 401.4 723.5 401.9 724.0 400.1 724.3 399.3 724.5 399.6 725.0 401.5 725.5 401.4 726.0 401.8 726.5 401.7 727.0 397.6 727.4 395.7 727.5 395.9 728.0 399.2 728.5 401.5 729.0 401.7 729.5 400.5 729.6 400.5 730.0 401.4 730.5 401.4 731.0 401.9 731.5 401.0 731.9 400.3 732.0 400.4 732.5 401.4 733.0 401.5 733.5 401.7 734.0 401.6 734.5 401.5 735.0 401.1 735.0 401.1 735.5 401.4 736.0 402.0 736.5 401.9 737.0 401.8 737.5 401.8 738.0 393.8 738.5 389.0 739.0 393.8 739.5 401.4 740.0 401.5 740.5 401.5 741.0 401.8 741.5 401.9 742.0 401.6 742.5 397.6 743.0 394.6 743.5 397.6 744.0 401.7 744.5 401.9 745.0 400.2 745.3 399.4 745.5 399.7 746.0 401.6 746.5 401.4 747.0 401.8 747.5 401.5 748.0 398.5 748.5 394.9 748.6 394.6 749.0 396.7 749.5 401.7 750.0 401.5 750.5 402.0 751.0 401.4 751.5 401.9 752.0 401.8 752.5 400.5 752.7 400.2 753.0 400.8 753.5 401.5 754.0 401.5 754.5 401.7 755.0 401.3 755.5 400.0 756.0 397.6 756.4 395.7 756.5 395.9 757.0 399.2 757.5 401.4 758.0 401.6 758.5 401.5 759.0 400.9 759.3 400.4 759.5 400.6 760.0 401.6 760.5 401.4 761.0 401.6 761.5 401.4 762.0 402.0 762.5 400.8 762.7 400.6 763.0 400.3 763.5 401.5 764.0 401.8 764.5 401.0 764.8 400.6 765.0 399.9 765.5 402.0 766.0 401.4 766.5 400.9 766.7 400.6 767.0 401.0 767.5 401.8 768.0 402.0 768.5 401.8 769.0 401.5 769.5 399.8 769.8 399.1 770.0 399.5 770.5 401.6 771.0 401.5 771.5 401.4 772.0 401.6 772.5 400.8 772.5 400.8 773.0 401.7 773.5 401.8 774.0 401.5 774.5 401.3 774.8 400.8 775.0 401.0 775.5 401.9 776.0 401.9 776.5 401.3 777.0 401.4 777.2 401.2 777.5 401.4 778.0 401.7 778.5 401.8 779.0 401.9 779.5 401.1 779.7 400.8 780.0 401.3 780.5 401.5 781.0 401.7 781.5 401.5 782.0 402.0 782.5 401.1 783.0 398.5 783.2 398.0 783.5 398.9 784.0 401.7 784.5 401.7 785.0 401.6 785.5 401.6 786.0 401.6 786.5 400.9 786.5 400.9 787.0 401.7 787.5 401.8 788.0 401.6 788.5 401.4 789.0 401.3 789.4 400.8 789.5 400.9 790.0 401.8 790.5 401.6 791.0 401.5 791.5 401.4 792.0 400.4 792.2 400.0 792.5 400.6 793.0 401.4 793.5 401.8 794.0 401.2 794.4 400.6 794.5 400.8 795.0 401.4 795.5 401.6 796.0 399.2 796.5 395.9 796.6 395.7 797.0 397.6 797.5 401.9 798.0 400.5 798.5 401.5 798.9 400.9 799.0 401.0 799.5 401.9 800.0 400.8 800.3 400.2 800.5 400.4 801.0 400.1 801.5 401.9 802.0 401.6 802.5 401.4 803.0 401.8 803.5 401.1 803.8 400.7 804.0 401.0 804.5 402.0 805.0 401.6 805.5 400.3 805.8 399.9 806.0 400.3 806.5 400.2 807.0 401.5 807.5 401.7 808.0 401.4 808.5 395.1 808.9 392.4 809.0 392.7 809.5 397.3 810.0 401.6 810.5 401.7 811.0 401.9 811.5 401.4 812.0 400.2 812.0 400.2 812.5 401.3 813.0 401.6 813.5 393.2 814.0 385.7 814.1 385.2 814.5 389.5 815.0 399.9 815.5 401.9 816.0 401.7 816.5 401.4 817.0 399.3 817.2 399.0 817.5 399.9 818.0 401.7 818.5 401.4 819.0 401.4 819.5 399.2 820.0 395.9 820.1 395.7 820.5 397.6 821.0 401.9 821.5 401.2 822.0 399.1 822.2 398.8 822.5 399.7 823.0 402.0 823.5 400.4 823.7 400.2 824.0 400.8 824.5 401.4 825.0 401.8 825.5 401.4 826.0 401.3 826.2 401.1 826.5 401.5 827.0 402.0 827.5 401.0 828.0 393.7 828.4 390.6 828.5 391.0 829.0 396.3 829.5 401.4 830.0 402.0 830.5 401.4 831.0 400.0 831.3 399.5 831.5 400.0 832.0 401.5 832.5 401.7 833.0 401.6 833.5 401.2 833.7 401.0 834.0 401.4 834.5 401.6 835.0 401.7 835.5 401.4 836.0 401.5 836.5 399.3 836.9 398.0 837.0 398.2 837.5 400.5 838.0 401.4 838.5 401.7 839.0 401.1 839.0 401.1 839.5 401.9 840.0 400.7 840.5 401.8 841.0 401.7 841.5 401.1 842.0 397.1 842.3 395.9 842.5 396.5 843.0 400.1 843.5 401.6 844.0 401.5 844.5 402.0 845.0 401.7 845.5 401.5 846.0 402.0 846.5 401.5 847.0 400.0 847.4 398.8 847.5 398.9 848.0 400.9 848.5 401.5 849.0 400.9 849.3 400.4 849.5 400.6 850.0 401.5 850.5 401.8 851.0 400.1 851.5 398.4 852.0 400.1 852.5 401.9 853.0 401.7 853.5 401.8 854.0 400.4 854.1 400.4 854.5 401.2 855.0 401.0 855.4 400.3 855.5 400.5 856.0 401.9 856.5 401.6 857.0 399.6 857.5 401.9 858.0 400.0 858.4 399.0 858.5 399.2 859.0 401.2 859.5 401.4 860.0 400.1 860.5 396.3 861.0 391.0 861.1 390.6 861.5 393.7 862.0 401.0 862.5 401.9 863.0 401.5 863.5 401.9 864.0 401.3 864.5 399.5 864.6 399.3 865.0 400.2 865.5 401.8 866.0 401.6 866.5 402.0 867.0 401.8 867.5 401.9 868.0 398.1 868.5 395.3 869.0 398.1 869.5 402.1 870.0 401.7 870.5 401.4 871.0 401.9 871.5 401.8 872.0 401.8 872.5 402.0 873.0 401.5 873.5 398.1 874.0 395.3 874.5 398.1 875.0 401.5 875.5 402.0 876.0 396.4 876.5 389.0 876.7 387.7 877.0 390.1 877.5 398.3 878.0 401.8 878.5 402.0 879.0 401.5 879.5 401.7 880.0 399.7 880.5 393.6 880.8 391.8 881.0 392.8 881.5 398.3 882.0 401.8 882.5 401.6 883.0 401.4 883.5 401.6 884.0 400.6 884.2 400.3 884.5 400.8 885.0 401.8 885.5 402.0 886.0 399.7 886.5 400.3 887.0 400.7 887.0 400.7 887.5 401.5 888.0 401.8 888.5 401.1 889.0 394.1 889.4 391.2 889.5 391.6 890.0 396.6 890.5 400.3 890.9 399.2 891.0 399.3 891.5 401.1 892.0 401.9 892.5 402.0 893.0 402.0 893.5 401.9 894.0 400.9 894.3 400.4 894.5 400.7 895.0 401.8 895.5 400.8 896.0 399.4 896.5 400.8 897.0 401.9 897.5 402.1 898.0 401.6 898.5 400.4 898.6 400.3 899.0 401.2 899.5 401.5 900.0 400.4 900.0 400.4 900.5 401.4 901.0 401.9 901.5 401.8 902.0 400.8 902.5 397.8 902.7 397.3 903.0 398.3 903.5 401.6 904.0 401.7 904.5 402.0 905.0 400.4 905.2 400.0 905.5 400.4 906.0 401.7 906.5 401.9 907.0 401.6 907.5 401.6 908.0 402.0 908.5 399.6 908.9 398.4 909.0 398.6 909.5 400.7 910.0 401.5 910.5 401.9 911.0 401.9 911.5 401.4 912.0 401.8 912.5 401.9 913.0 401.5 913.5 402.0 914.0 397.3 914.4 395.3 914.5 395.5 915.0 398.9 915.5 401.9 916.0 401.6 916.5 401.4 917.0 400.4 917.5 398.6 917.6 398.5 918.0 399.7 918.5 396.3 919.0 391.0 919.1 390.6 919.5 393.7 920.0 401.0 920.5 400.7 921.0 401.7 921.5 400.8 921.9 399.9 922.0 400.0 922.5 401.5 923.0 401.9 923.5 402.0 924.0 396.6 924.5 391.6 924.6 391.2 925.0 394.1 925.5 401.1 926.0 401.4 926.5 401.4 927.0 400.5 927.4 399.6 927.5 399.8 928.0 401.4 928.5 401.2 929.0 397.4 929.3 396.3 929.5 396.9 930.0 400.3 930.5 401.6 931.0 401.5 931.5 402.0 932.0 401.9 932.5 402.0 933.0 401.8 933.5 401.9 934.0 398.1 934.5 395.3 935.0 398.1 935.5 401.5 936.0 402.0 936.5 401.8 937.0 397.7 937.5 394.7 938.0 397.7 938.5 401.6 939.0 401.6 939.5 401.6 940.0 401.8 940.5 400.2 940.6 400.1 941.0 400.8 941.5 401.9 942.0 401.8 942.5 401.8 943.0 398.9 943.5 394.1 943.7 393.2 944.0 394.8 944.5 400.2 945.0 401.4 945.5 400.2 946.0 401.6 946.5 401.5 947.0 400.9 947.4 400.0 947.5 400.1 948.0 401.6 948.5 401.5 949.0 401.7 949.5 400.9 949.8 400.4 950.0 400.7 950.5 401.7 951.0 401.8 951.5 402.0 952.0 400.9 952.1 400.7 952.5 401.3 953.0 399.9 953.5 402.0 954.0 401.2 954.5 399.8 954.5 399.8 955.0 400.9 955.5 401.8 956.0 401.8 956.5 400.8 957.0 393.1 957.4 389.8 957.5 390.2 958.0 395.8 958.5 402.0 959.0 401.7 959.5 397.7 960.0 393.5 960.1 393.2 960.5 395.7 961.0 401.5 961.5 402.1 962.0 401.1 962.5 400.1 962.5 400.1 963.0 400.4 963.5 400.3 964.0 401.4 964.5 397.8 964.8 396.7 965.0 397.3 965.5 400.5 966.0 401.9 966.5 401.7 967.0 401.5 967.5 401.2 968.0 399.6 968.1 399.5 968.5 400.5 969.0 401.9 969.5 400.4 970.0 402.0 970.5 401.5 971.0 400.2 971.3 399.6 971.5 400.0 972.0 401.5 972.5 401.8 973.0 396.5 973.4 394.3 973.5 394.6 974.0 398.4 974.5 402.0 975.0 401.8 975.5 401.9 976.0 401.1 976.5 400.1 976.5 400.1 977.0 401.4 977.5 401.5 977.9 400.7 978.0 400.8 978.5 401.7 979.0 402.0 979.5 401.5 979.9 400.7 980.0 400.7 980.5 401.9 981.0 402.1 981.5 401.9 982.0 399.3 982.5 396.1 982.6 395.9 983.0 397.7 983.5 402.0 984.0 401.5 984.5 400.8 984.5 400.8 985.0 401.8 985.5 399.6 986.0 401.7 986.5 401.7 987.0 401.2 987.4 400.3 987.5 400.4 988.0 401.6 988.5 401.8 989.0 402.0 989.5 400.9 989.8 400.4 990.0 400.7 990.5 401.5 991.0 402.0 991.5 402.0 992.0 401.4 992.5 399.8 993.0 401.1 993.0 401.1 993.5 401.7 994.0 401.9 994.5 401.5 995.0 400.9 995.3 400.3 995.5 400.5 996.0 401.8 996.5 402.1 997.0 401.6 997.5 401.8 998.0 396.8 998.4 394.7 998.5 395.0 999.0 398.6 999.5 401.7 1000.0 402.0 1000.5 401.6 1001.0 401.4 1001.5 400.6 1001.5 400.6 1002.0 399.6 1002.5 401.9 1003.0 401.6 1003.5 401.5 1004.0 401.4 1004.5 401.3 1005.0 399.5 1005.1 399.4 1005.5 400.4 1006.0 401.9 1006.5 401.5 1007.0 401.5 1007.5 401.6 1008.0 402.1 1008.5 401.5 1009.0 400.3 1009.4 399.2 1009.5 399.3 1010.0 401.0 1010.5 401.9 1011.0 401.8 1011.5 398.0 1011.9 396.3 1012.0 396.5 1012.5 399.5 1013.0 401.5 1013.5 400.4 1013.7 400.2 1014.0 400.8 1014.5 401.6 1015.0 402.0 1015.5 401.5 1016.0 401.8 1016.5 401.3 1016.8 400.9 1017.0 401.1 1017.5 402.0 1018.0 401.7 1018.5 401.9 1019.0 401.7 1019.5 401.6 1020.0 390.7 1020.5 384.4 1021.0 390.7 1021.5 401.9 1022.0 401.6 1022.5 401.5 1023.0 401.8 1023.5 401.7 1024.0 401.7 1024.5 400.0 1024.9 398.9 1025.0 399.1 1025.5 401.0 1026.0 401.2 1026.4 400.5 1026.5 400.6 1027.0 401.8 1027.5 401.8 1028.0 401.9 1028.5 400.3 1028.7 400.0 1029.0 400.6 1029.5 401.8 1030.0 401.8 1030.5 401.4 1031.0 399.9 1031.4 398.8 1031.5 399.0 1032.0 400.9 1032.5 401.5 1033.0 400.0 1033.5 394.3 1033.8 392.6 1034.0 393.5 1034.5 398.6 1035.0 400.0 1035.5 399.6 1035.6 399.4 1036.0 400.3 1036.5 402.1 1037.0 402.1 1037.5 401.9 1038.0 401.2 1038.4 400.4 1038.5 400.5 1039.0 401.5 1039.5 401.8 1040.0 401.8 1040.5 401.8 1041.0 402.1 1041.5 399.4 1042.0 397.3 1042.5 399.4 1043.0 401.4 1043.5 401.6 1044.0 401.5 1044.5 401.6 1045.0 402.1 1045.5 400.8 1045.8 400.2 1046.0 400.4 1046.5 401.9 1047.0 401.9 1047.0 403.7Z"/>
<path d="M133.2 499.9L133.2 495.0 133.2 497.9 133.7 497.2 134.2 481.2 134.7 472.0 135.2 481.2 135.7 497.3 136.2 497.0 136.7 490.7 137.2 486.1 137.7 490.7 138.2 497.2 138.7 497.4 139.2 491.6 139.7 483.2 139.9 481.7 140.2 484.5 140.7 493.8 141.2 497.4 141.7 497.1 142.2 492.0 142.7 483.9 142.9 482.4 143.2 485.1 143.7 494.1 144.2 494.9 144.7 497.2 145.2 495.7 145.5 495.1 145.7 495.5 146.2 497.3 146.7 495.7 147.2 491.4 147.4 490.6 147.7 492.0 148.2 496.8 148.7 497.4 149.2 497.4 149.7 497.3 150.2 497.8 150.7 493.3 151.1 491.3 151.2 491.6 151.7 495.0 152.2 497.3 152.7 497.5 153.2 497.8 153.7 497.3 154.2 497.5 154.7 495.5 155.2 483.5 155.6 478.4 155.7 479.0 156.2 487.7 156.7 497.6 157.2 498.0 157.7 497.5 158.2 497.7 158.7 489.6 159.2 482.2 159.3 481.7 159.7 486.0 160.2 496.2 160.7 498.1 161.2 498.0 161.7 497.4 162.2 497.8 162.7 497.9 163.2 497.4 163.7 495.2 164.2 488.5 164.5 486.4 164.7 487.5 165.2 493.8 165.7 497.6 166.2 493.8 166.7 484.5 167.0 481.7 167.2 483.2 167.7 491.6 168.2 498.0 168.7 497.8 169.2 497.8 169.7 498.0 170.2 497.9 170.7 481.7 171.2 472.7 171.7 481.7 172.2 497.4 172.7 497.4 173.2 498.1 173.7 497.6 174.2 494.2 174.7 488.4 174.9 487.3 175.2 489.2 175.7 495.7 176.2 497.6 176.7 497.9 177.2 494.2 177.7 488.4 177.9 487.3 178.2 489.2 178.7 495.7 179.2 497.4 179.7 497.8 180.2 497.7 180.7 497.3 181.2 490.3 181.6 487.3 181.7 487.7 182.2 492.8 182.7 497.9 183.2 497.8 183.7 497.6 184.2 496.5 184.7 497.6 185.2 497.7 185.7 497.7 186.2 492.8 186.7 487.7 186.8 487.3 187.2 490.3 187.7 497.3 188.2 498.1 188.7 498.1 189.2 497.6 189.7 498.1 190.2 498.2 190.7 497.9 191.2 496.8 191.4 496.5 191.7 497.0 192.2 498.2 192.7 486.0 193.2 476.1 193.3 475.4 193.7 481.2 194.2 494.9 194.7 498.1 195.2 497.0 195.7 498.3 196.2 497.8 196.7 493.4 197.2 488.7 197.3 488.4 197.7 491.1 198.2 497.6 198.7 498.0 199.2 497.8 199.7 498.1 200.2 497.8 200.7 495.2 201.0 494.3 201.2 494.8 201.7 497.4 202.2 498.2 202.7 498.1 203.2 491.8 203.7 488.1 203.7 488.1 204.2 492.2 204.7 497.7 205.2 497.3 205.7 474.7 206.2 462.3 206.7 474.7 207.2 496.4 207.7 497.8 208.2 498.4 208.7 495.9 209.2 492.4 209.3 492.0 209.7 493.5 210.2 497.8 210.7 496.2 211.2 493.1 211.7 489.8 212.2 493.1 212.7 497.8 213.2 498.2 213.7 497.8 214.2 496.4 214.7 493.7 214.8 493.5 215.2 494.8 215.7 497.9 216.2 497.7 216.7 495.2 216.9 494.8 217.2 495.5 217.7 498.1 218.2 497.1 218.7 494.1 218.9 493.6 219.2 494.6 219.7 497.8 220.2 498.3 220.7 498.2 221.2 497.2 221.7 493.5 222.0 492.5 222.2 493.3 222.7 496.8 223.2 497.9 223.7 498.4 224.2 488.7 224.7 480.8 224.8 480.2 225.2 484.8 225.7 495.9 226.2 498.3 226.7 498.5 227.2 495.7 227.6 494.7 227.7 495.0 228.2 497.3 228.7 498.0 229.2 496.1 229.7 490.2 230.0 488.4 230.2 489.4 230.7 494.7 231.2 498.4 231.7 497.3 232.2 475.1 232.7 463.0 233.2 475.1 233.7 497.3 234.2 498.4 234.7 498.5 235.2 497.2 235.7 496.7 236.2 498.3 236.7 498.4 237.2 472.7 237.7 445.2 237.9 440.2 238.2 449.3 238.7 479.9 239.2 498.5 239.7 489.1 240.2 472.5 240.5 467.5 240.7 470.2 241.2 485.2 241.7 498.5 242.2 492.7 242.7 489.1 243.2 492.7 243.7 498.4 244.2 498.4 244.7 498.2 245.2 496.0 245.7 486.9 246.1 483.4 246.2 484.1 246.7 491.0 247.2 490.3 247.7 480.5 247.9 478.7 248.2 481.9 248.7 492.8 249.2 498.3 249.7 498.7 250.2 486.5 250.7 472.9 250.9 470.5 251.2 475.0 251.7 490.1 252.2 498.5 252.7 498.5 253.2 498.5 253.7 498.2 254.2 485.2 254.7 470.2 254.9 467.5 255.2 472.5 255.7 489.1 256.2 498.4 256.7 498.4 257.2 488.2 257.7 476.3 257.9 474.2 258.2 478.1 258.7 491.3 259.2 498.5 259.7 498.5 260.2 498.7 260.7 496.6 261.2 491.1 261.5 489.4 261.7 490.2 262.2 495.0 262.7 498.6 263.2 497.4 263.7 495.8 263.8 495.7 264.2 496.9 264.7 498.6 265.2 498.7 265.7 497.2 266.2 498.5 266.7 487.7 267.2 479.0 267.3 478.4 267.7 483.5 268.2 495.5 268.7 498.4 269.2 486.6 269.7 477.1 269.8 476.4 270.2 481.9 270.7 495.1 271.2 498.7 271.7 498.5 272.2 498.4 272.7 497.4 273.2 494.6 273.7 492.3 273.7 492.4 274.2 495.1 274.7 497.3 275.2 493.3 275.5 492.1 275.7 492.8 276.2 496.4 276.7 498.4 277.2 498.6 277.7 498.7 278.2 497.5 278.7 495.6 278.8 495.4 279.2 496.4 279.7 498.5 280.2 498.6 280.7 497.7 281.2 495.5 281.4 495.1 281.7 495.8 282.2 498.3 282.7 498.6 283.2 497.8 283.7 494.6 284.0 493.7 284.2 494.3 284.7 497.2 285.2 492.2 285.6 489.8 285.7 490.1 286.2 494.2 286.7 498.7 287.2 498.7 287.7 497.7 288.2 491.7 288.6 489.1 288.7 489.4 289.2 493.8 289.7 498.5 290.2 494.8 290.6 493.3 290.7 493.5 291.2 496.2 291.7 498.9 292.2 498.0 292.7 497.2 292.9 496.8 293.2 497.2 293.7 497.7 294.2 498.2 294.7 498.8 295.2 497.8 295.7 495.6 296.2 491.1 296.4 490.3 296.7 491.8 297.2 496.7 297.7 498.5 298.2 498.6 298.7 496.6 299.2 494.5 299.3 494.3 299.7 495.8 300.2 493.8 300.7 487.5 300.9 486.4 301.2 488.5 301.7 495.4 302.2 498.7 302.7 491.9 303.2 479.7 303.5 476.0 303.7 478.0 304.2 489.0 304.7 498.7 305.2 498.5 305.7 498.8 306.2 498.5 306.7 498.4 307.2 497.9 307.7 494.4 308.0 493.2 308.2 493.7 308.7 496.7 309.2 498.6 309.7 497.3 310.2 494.6 310.5 493.6 310.7 494.1 311.2 497.1 311.7 498.7 312.2 498.8 312.7 498.4 313.2 498.5 313.7 498.8 314.2 498.5 314.7 498.4 315.2 496.2 315.7 493.5 315.8 493.3 316.2 494.9 316.7 498.6 317.2 498.6 317.7 498.6 318.2 498.7 318.7 497.1 319.0 496.7 319.2 497.1 319.7 498.4 320.2 498.6 320.7 497.0 321.0 496.4 321.2 496.6 321.7 498.2 322.2 498.7 322.7 494.1 323.2 491.3 323.7 494.1 324.2 498.5 324.7 498.3 325.2 498.5 325.7 496.8 326.2 495.4 326.2 495.4 326.7 497.0 327.2 498.4 327.7 498.4 328.2 497.2 328.6 496.3 328.7 496.4 329.2 497.8 329.7 497.6 330.2 498.3 330.7 498.6 331.2 496.5 331.6 495.6 331.7 495.7 332.2 497.6 332.7 498.7 333.2 498.3 333.7 498.1 334.0 497.7 334.2 497.9 334.7 498.5 335.2 498.4 335.7 498.7 336.2 498.3 336.7 498.3 337.2 498.5 337.7 495.6 338.1 494.3 338.2 494.5 338.7 496.7 339.2 498.3 339.7 498.7 340.2 498.5 340.7 497.7 341.2 496.5 341.7 497.7 342.2 498.6 342.7 498.4 343.2 496.9 343.6 495.8 343.7 495.9 344.2 497.5 344.7 498.5 345.2 498.4 345.7 498.2 346.2 490.9 346.7 486.4 347.2 490.9 347.7 498.6 348.2 498.5 348.7 497.0 349.2 498.3 349.7 498.6 350.2 498.2 350.7 491.9 351.2 487.9 351.7 491.9 352.2 498.3 352.7 497.4 353.2 494.1 353.5 493.2 353.7 494.0 354.2 497.2 354.7 497.0 355.2 493.4 355.4 492.6 355.7 493.5 356.2 497.1 356.7 498.5 357.2 498.1 357.7 497.0 358.2 495.2 358.3 495.2 358.7 496.5 359.2 498.4 359.7 498.3 360.2 498.5 360.7 493.1 361.2 489.8 361.7 493.1 362.2 498.4 362.7 498.4 363.2 498.6 363.7 496.8 364.2 495.4 364.2 495.4 364.7 497.0 365.2 498.5 365.7 497.7 366.2 495.9 366.4 495.6 366.7 496.4 367.2 498.2 367.7 498.5 368.2 497.8 368.7 491.9 369.1 489.4 369.2 489.7 369.7 494.0 370.2 498.3 370.7 498.4 371.2 498.1 371.7 498.1 372.2 495.7 372.7 493.3 372.7 493.2 373.2 495.2 373.7 498.5 374.2 498.4 374.7 495.3 375.2 492.0 375.3 491.8 375.7 493.7 376.2 498.0 376.7 498.5 377.2 498.5 377.7 496.3 378.1 495.4 378.2 495.6 378.7 497.5 379.2 498.4 379.7 498.0 380.2 497.9 380.7 498.0 381.2 492.6 381.6 490.3 381.7 490.6 382.2 494.5 382.7 498.3 383.2 498.3 383.7 498.1 384.2 497.0 384.7 494.2 384.9 493.8 385.2 494.8 385.7 498.0 386.2 498.4 386.7 498.2 387.2 498.1 387.7 496.2 388.2 490.5 388.5 488.8 388.7 489.7 389.2 494.9 389.7 498.0 390.2 497.9 390.7 498.0 391.2 497.9 391.7 497.3 392.2 493.3 392.5 492.1 392.7 492.8 393.2 496.4 393.7 498.3 394.2 498.0 394.7 497.0 394.7 497.0 395.2 497.9 395.7 498.4 396.2 498.0 396.7 498.3 397.2 497.2 397.7 495.8 397.7 495.8 398.2 497.1 398.7 498.1 399.2 498.1 399.7 496.0 400.2 492.0 400.4 491.3 400.7 492.6 401.2 497.1 401.7 498.1 402.2 498.3 402.7 498.0 403.2 496.6 403.4 496.2 403.7 496.6 404.2 498.1 404.7 497.8 405.2 492.4 405.7 484.8 405.9 483.4 406.2 485.9 406.7 494.4 407.2 498.4 407.7 495.7 408.2 492.1 408.4 491.6 408.7 493.1 409.2 497.6 409.7 498.0 410.2 498.1 410.7 497.5 411.2 495.0 411.4 494.6 411.7 495.4 412.2 498.2 412.7 497.7 413.2 497.8 413.7 498.3 414.2 492.3 414.7 486.8 414.8 486.4 415.2 489.6 415.7 497.2 416.2 497.8 416.7 498.3 417.2 498.3 417.7 497.5 418.2 492.5 418.6 490.6 418.7 491.1 419.2 495.0 419.7 496.1 420.2 488.6 420.7 480.5 420.8 479.9 421.2 484.6 421.7 495.8 422.2 498.1 422.7 497.7 423.2 498.1 423.7 496.7 424.1 495.8 424.2 496.0 424.7 497.7 425.2 495.6 425.7 488.9 426.0 486.9 426.2 488.0 426.7 494.0 427.2 496.4 427.7 498.3 428.2 498.1 428.7 496.5 429.2 493.5 429.4 493.1 429.7 494.4 430.2 498.0 430.7 498.2 431.2 498.0 431.7 498.0 432.2 497.9 432.7 491.0 433.2 481.8 433.4 480.2 433.7 483.2 434.2 493.3 434.7 498.1 435.2 498.1 435.7 497.9 436.2 497.7 436.7 496.6 437.2 487.7 437.6 483.9 437.7 484.4 438.2 490.8 438.7 498.0 439.2 497.7 439.7 497.7 440.2 498.1 440.7 496.5 441.2 487.4 441.6 483.5 441.7 484.0 442.2 490.6 442.7 497.9 443.2 498.2 443.7 497.7 444.2 497.6 444.7 491.5 445.1 488.9 445.2 489.2 445.7 493.6 446.2 495.7 446.7 492.6 446.8 492.3 447.2 494.1 447.7 497.7 448.2 498.1 448.7 485.8 449.2 471.6 449.4 469.0 449.7 473.7 450.2 489.6 450.7 498.0 451.2 497.7 451.7 496.8 452.2 493.2 452.7 488.4 452.8 488.0 453.2 490.8 453.7 497.5 454.2 496.1 454.4 495.7 454.7 496.3 455.2 498.2 455.7 498.1 456.2 498.1 456.7 497.8 457.2 497.7 457.7 496.3 458.2 493.8 458.3 493.6 458.7 495.1 459.2 498.0 459.7 497.9 460.2 498.1 460.7 494.2 461.2 490.4 461.3 490.3 461.7 492.8 462.2 496.4 462.7 498.0 463.2 498.0 463.7 489.4 464.2 478.7 464.4 476.8 464.7 480.3 465.2 492.2 465.7 498.1 466.2 496.0 466.7 492.7 466.9 492.3 467.2 493.7 467.7 497.8 468.2 496.1 468.7 492.9 468.8 492.5 469.2 494.0 469.7 498.0 470.2 497.9 470.7 497.6 471.2 493.6 471.7 489.0 471.8 488.7 472.2 491.3 472.7 497.6 473.2 496.3 473.7 498.1 474.2 495.4 474.6 493.7 474.7 493.8 475.2 496.1 475.7 495.4 476.2 492.2 476.3 492.0 476.7 494.0 477.2 497.8 477.7 497.9 478.2 497.9 478.7 494.0 479.1 491.7 479.2 491.8 479.7 494.9 480.2 498.3 480.7 497.7 481.2 497.8 481.7 496.9 482.2 492.3 482.5 490.9 482.7 491.7 483.2 495.8 483.7 497.9 484.2 498.0 484.7 497.9 485.2 497.9 485.7 496.3 486.2 493.4 486.3 493.1 486.7 494.5 487.2 498.1 487.7 498.0 488.2 498.3 488.7 498.1 489.2 493.3 489.6 491.3 489.7 491.6 490.2 495.0 490.7 498.2 491.2 497.5 491.7 495.8 491.8 495.7 492.2 496.7 492.7 498.0 493.2 498.2 493.7 497.6 494.2 495.2 494.4 494.7 494.7 495.5 495.2 498.1 495.7 496.8 496.2 497.8 496.7 494.2 497.2 485.4 497.5 482.8 497.7 484.2 498.2 492.1 498.7 498.2 499.2 497.7 499.7 496.7 499.9 496.5 500.2 497.2 500.7 498.2 501.2 497.8 501.7 498.2 502.2 496.5 502.7 497.5 503.2 495.1 503.4 494.7 503.7 495.5 504.2 497.8 504.7 498.0 505.2 496.5 505.4 496.2 505.7 496.7 506.2 498.0 506.7 497.8 507.2 496.4 507.5 495.8 507.7 496.1 508.2 497.8 508.7 497.7 509.2 497.7 509.7 497.1 510.1 496.3 510.2 496.4 510.7 497.7 511.2 498.0 511.7 498.2 512.2 497.0 512.7 489.1 513.1 485.7 513.2 486.1 513.7 491.9 514.2 498.0 514.7 498.1 515.2 493.5 515.7 483.6 516.0 480.6 516.2 482.2 516.7 491.1 517.2 496.9 517.7 497.9 518.2 497.8 518.7 498.0 519.2 497.9 519.7 497.7 520.2 495.8 520.7 491.7 520.9 490.9 521.2 492.3 521.7 496.9 522.2 498.1 522.7 498.1 523.2 498.0 523.7 496.2 523.9 496.0 524.2 496.6 524.7 497.8 525.2 498.0 525.7 497.8 526.2 497.5 526.6 496.7 526.7 496.7 527.2 497.7 527.7 496.9 528.2 498.0 528.7 496.1 528.9 495.7 529.2 496.4 529.7 497.8 530.2 495.6 530.7 488.9 531.0 486.9 531.2 488.0 531.7 494.0 532.2 497.9 532.7 497.2 533.2 494.3 533.4 493.7 533.7 494.6 534.2 497.7 534.7 497.0 535.2 494.1 535.4 493.7 535.7 494.7 536.2 498.0 536.7 496.4 537.0 495.7 537.2 495.9 537.7 497.8 538.2 498.0 538.7 498.1 539.2 496.0 539.7 492.0 539.9 491.3 540.2 492.6 540.7 497.1 541.2 497.3 541.7 496.9 542.2 495.6 542.2 495.6 542.7 497.1 543.2 498.2 543.7 497.8 544.2 496.1 544.6 494.8 544.7 494.9 545.2 496.9 545.7 498.3 546.2 498.3 546.7 498.1 547.2 496.9 547.5 496.4 547.7 496.7 548.2 498.1 548.7 498.2 549.2 498.3 549.7 493.8 550.2 487.5 550.4 486.4 550.7 488.5 551.2 495.4 551.7 497.9 552.2 498.3 552.7 498.3 553.2 496.5 553.7 494.2 553.8 494.1 554.2 495.5 554.7 498.0 555.2 498.4 555.7 498.0 556.2 498.1 556.7 498.4 557.2 496.3 557.7 493.8 557.8 493.6 558.2 495.1 558.7 498.3 559.2 498.2 559.7 498.2 560.2 498.4 560.7 496.0 561.2 495.8 561.5 495.1 561.7 495.5 562.2 497.7 562.7 498.0 563.2 496.8 563.7 494.1 563.9 493.7 564.2 494.9 564.7 498.0 565.2 497.8 565.7 498.1 566.2 494.5 566.7 491.8 567.2 494.5 567.7 498.1 568.2 498.2 568.7 496.2 569.2 494.1 569.2 494.1 569.7 495.8 570.2 497.9 570.7 498.0 571.2 497.9 571.7 498.0 572.0 497.5 572.2 497.7 572.7 497.9 573.2 498.0 573.7 497.5 574.2 495.5 574.3 495.3 574.7 496.3 575.2 498.0 575.7 498.2 576.2 490.2 576.7 483.3 576.8 482.8 577.2 486.8 577.7 496.4 578.2 497.9 578.7 498.3 579.2 498.1 579.7 497.2 580.2 497.8 580.7 492.5 581.2 487.3 581.3 486.9 581.7 490.0 582.2 497.3 582.7 497.9 583.2 498.4 583.7 498.0 584.2 496.9 584.7 493.1 585.0 492.2 585.2 493.1 585.7 496.9 586.2 497.8 586.7 498.4 587.2 496.4 587.7 491.1 588.0 489.5 588.2 490.4 588.7 495.2 589.2 497.8 589.7 493.7 590.0 492.3 590.2 492.7 590.7 496.0 591.2 498.0 591.7 497.3 592.2 495.0 592.4 494.7 592.7 495.6 593.2 498.1 593.7 498.4 594.2 496.6 594.7 489.1 595.1 485.7 595.2 486.1 595.7 491.9 596.2 498.0 596.7 497.9 597.2 498.2 597.7 498.2 598.2 498.2 598.7 497.2 599.1 496.5 599.2 496.6 599.7 498.1 600.2 496.1 600.4 495.8 600.7 496.4 601.2 497.9 601.7 498.4 602.2 498.3 602.7 497.7 603.2 493.8 603.5 492.6 603.7 493.1 604.2 496.4 604.7 497.9 605.2 491.9 605.7 486.1 605.8 485.7 606.2 489.1 606.7 497.0 607.2 497.5 607.7 493.5 608.0 492.3 608.2 492.9 608.7 496.4 609.2 498.1 609.7 498.3 610.2 497.1 610.7 496.1 610.7 496.1 611.2 497.4 611.7 498.1 612.2 498.0 612.7 497.9 613.2 492.9 613.7 489.5 614.2 492.9 614.7 498.5 615.2 498.3 615.7 498.0 616.2 498.2 616.7 498.3 617.2 498.4 617.7 498.3 618.2 497.8 618.6 497.3 618.7 497.4 619.2 498.2 619.7 498.0 620.2 496.9 620.5 496.4 620.7 496.8 621.2 498.3 621.7 498.0 622.2 496.5 622.7 498.2 623.2 494.1 623.7 491.3 624.2 494.1 624.7 498.0 625.2 496.7 625.6 495.4 625.7 495.5 626.2 497.2 626.7 498.3 627.2 498.1 627.7 498.2 628.2 496.5 628.7 494.2 628.8 493.9 629.2 495.3 629.7 497.9 630.2 495.5 630.7 492.6 630.8 492.5 631.2 494.4 631.7 498.2 632.2 494.3 632.6 492.5 632.7 492.7 633.2 495.7 633.7 498.3 634.2 498.0 634.7 498.4 635.2 497.9 635.7 496.4 635.9 496.0 636.2 496.6 636.7 498.1 637.2 498.0 637.7 498.4 638.2 495.7 638.7 492.6 638.8 492.4 639.2 494.1 639.7 498.2 640.2 498.4 640.7 498.2 641.2 496.0 641.5 495.4 641.7 495.8 642.2 498.0 642.7 496.4 643.2 494.8 643.2 494.8 643.7 496.5 644.2 498.2 644.7 498.1 645.2 495.9 645.7 484.8 646.1 480.2 646.2 480.8 646.7 488.7 647.2 496.9 647.7 498.3 648.2 498.4 648.7 494.5 649.2 492.0 649.2 492.0 649.7 494.7 650.2 498.5 650.7 494.7 651.1 492.7 651.2 492.9 651.7 495.6 652.2 498.0 652.7 498.4 653.2 498.0 653.7 497.5 654.2 496.3 654.2 496.3 654.7 497.4 655.2 497.9 655.7 496.0 655.9 495.6 656.2 496.3 656.7 498.2 657.2 498.0 657.7 498.1 658.2 496.7 658.7 498.0 659.2 496.9 659.5 496.3 659.7 496.6 660.2 498.2 660.7 498.0 661.2 498.2 661.7 498.4 662.2 498.1 662.7 498.4 663.2 497.5 663.7 495.5 663.8 495.3 664.2 496.2 664.7 498.0 665.2 498.3 665.7 492.7 666.2 489.1 666.7 492.7 667.2 498.6 667.7 498.1 668.2 498.4 668.7 497.7 669.2 494.5 669.5 493.6 669.7 494.2 670.2 497.1 670.7 498.4 671.2 496.9 671.7 497.0 672.2 494.9 672.3 494.7 672.7 495.9 673.2 497.2 673.7 498.4 674.2 496.8 674.7 494.6 675.0 493.4 675.2 493.7 675.7 496.6 676.2 498.5 676.7 497.6 677.2 491.0 677.7 481.8 677.9 480.2 678.2 483.2 678.7 493.3 679.2 498.6 679.7 498.5 680.2 498.5 680.7 491.2 681.2 486.9 681.7 491.2 682.2 498.6 682.7 498.3 683.2 497.3 683.7 494.0 684.0 493.1 684.2 493.9 684.7 497.2 685.2 498.1 685.7 497.0 686.2 497.4 686.2 497.4 686.7 498.1 687.2 498.1 687.7 495.0 688.0 494.0 688.2 494.4 688.7 497.1 689.2 497.1 689.7 498.4 690.2 498.1 690.7 495.8 691.0 495.2 691.2 495.8 691.7 498.1 692.2 497.5 692.7 490.8 693.1 488.0 693.2 488.4 693.7 493.2 694.2 498.5 694.7 494.9 695.2 491.7 695.3 491.5 695.7 493.8 696.2 498.3 696.7 498.2 697.2 497.1 697.7 498.6 698.2 498.3 698.7 498.1 699.2 488.0 699.7 479.6 699.8 479.0 700.2 483.9 700.7 495.6 701.2 498.6 701.7 498.5 702.2 498.3 702.7 497.7 703.2 495.0 703.5 494.3 703.7 495.0 704.2 497.8 704.7 497.6 705.2 498.4 705.7 498.5 706.2 497.2 706.7 494.5 706.9 494.0 707.2 494.9 707.7 498.0 708.2 498.6 708.7 498.1 709.2 498.5 709.7 496.3 710.1 495.3 710.2 495.5 710.7 497.5 711.2 498.4 711.7 497.2 712.2 493.0 712.5 491.8 712.7 492.5 713.2 496.2 713.7 498.1 714.2 498.6 714.7 497.8 715.2 496.3 715.3 496.2 715.7 497.0 716.2 498.3 716.7 498.3 717.2 497.6 717.6 496.8 717.7 496.9 718.2 498.1 718.7 498.2 719.2 498.4 719.7 498.2 720.2 496.6 720.5 495.8 720.7 496.0 721.2 497.8 721.7 498.6 722.2 497.0 722.7 495.7 722.7 495.7 723.2 497.2 723.7 498.4 724.2 497.0 724.7 494.9 724.8 494.7 725.2 495.9 725.7 498.3 726.2 496.6 726.4 496.3 726.7 496.9 727.2 498.6 727.7 498.1 728.2 496.3 728.6 494.9 728.7 494.9 729.2 496.8 729.7 498.2 730.2 498.5 730.7 498.6 731.2 496.2 731.7 490.4 732.0 488.7 732.2 489.6 732.7 494.8 733.2 498.6 733.7 497.5 733.9 497.3 734.2 497.8 734.7 498.6 735.2 498.6 735.7 497.1 736.2 494.8 736.3 494.6 736.7 495.7 737.2 498.6 737.7 498.5 738.2 497.4 738.5 496.9 738.7 496.8 739.2 498.2 739.7 498.6 740.2 498.0 740.7 495.4 741.0 494.8 741.2 495.4 741.7 497.9 742.2 498.2 742.7 497.6 743.2 491.9 743.7 486.1 743.8 485.7 744.2 489.1 744.7 497.0 745.2 497.2 745.7 498.6 746.2 498.6 746.7 498.4 747.2 498.6 747.7 498.7 748.2 498.2 748.7 492.5 749.2 484.9 749.4 483.5 749.7 486.0 750.2 494.4 750.7 498.2 751.2 498.7 751.7 498.6 752.2 488.9 752.7 483.5 753.2 488.9 753.7 498.2 754.2 498.2 754.7 498.4 755.2 496.9 755.7 493.3 755.9 492.5 756.2 493.5 756.7 497.1 757.2 498.2 757.7 491.9 758.2 486.1 758.3 485.7 758.7 489.1 759.2 497.0 759.7 498.5 760.2 498.2 760.7 497.4 761.2 485.9 761.7 479.0 762.2 485.9 762.7 498.3 763.2 498.3 763.7 498.6 764.2 498.6 764.7 498.4 765.2 498.4 765.7 498.1 766.2 495.4 766.5 494.6 766.7 495.1 767.2 497.6 767.7 494.0 768.2 488.0 768.4 486.9 768.7 488.9 769.2 495.6 769.7 495.9 770.2 493.8 770.2 493.8 770.7 495.7 771.2 498.6 771.7 498.3 772.2 498.3 772.7 497.1 773.2 495.0 773.3 494.8 773.7 495.9 774.2 497.0 774.7 498.5 775.2 498.3 775.7 490.9 776.2 486.4 776.7 490.9 777.2 497.5 777.7 498.4 778.2 498.4 778.7 497.0 779.2 497.6 779.2 497.6 779.7 498.4 780.2 498.6 780.7 498.3 781.2 497.3 781.7 498.3 782.2 495.5 782.7 491.0 782.9 490.2 783.2 491.7 783.7 496.7 784.2 498.5 784.7 498.7 785.2 497.7 785.7 495.3 785.9 494.9 786.2 495.6 786.7 498.2 787.2 497.7 787.7 493.3 788.0 491.8 788.2 492.2 788.7 495.8 789.2 488.2 789.6 484.6 789.7 485.1 790.2 491.2 790.7 498.5 791.2 498.4 791.7 497.0 792.2 492.7 792.5 491.5 792.7 492.3 793.2 496.2 793.7 492.5 794.1 490.2 794.2 490.5 794.7 494.4 795.2 497.0 795.7 498.5 796.2 497.8 796.7 494.1 797.0 492.9 797.2 493.4 797.7 496.5 798.2 498.7 798.7 498.6 799.2 498.7 799.7 498.4 800.2 498.6 800.7 488.9 801.2 483.5 801.7 488.9 802.2 498.5 802.7 498.4 803.2 497.1 803.7 495.5 803.7 495.5 804.2 496.8 804.7 498.4 805.2 498.5 805.7 487.4 806.2 474.6 806.4 472.3 806.7 476.5 807.2 490.7 807.7 498.7 808.2 498.4 808.7 494.0 809.2 489.8 809.3 489.5 809.7 492.0 810.2 497.8 810.7 494.9 811.1 493.5 811.2 493.8 811.7 496.5 812.2 498.6 812.7 498.5 813.2 498.6 813.7 487.8 814.2 481.9 814.7 487.8 815.2 498.6 815.7 498.5 816.2 496.3 816.7 486.5 817.1 482.4 817.2 482.9 817.7 490.0 818.2 498.7 818.7 496.7 819.2 494.1 819.3 493.9 819.7 495.1 820.2 498.5 820.7 498.6 821.2 498.4 821.7 498.7 822.2 497.8 822.7 492.0 823.1 489.5 823.2 489.8 823.7 494.0 824.2 498.5 824.7 498.4 825.2 498.7 825.7 498.1 826.2 494.7 826.5 493.6 826.7 494.0 827.2 496.8 827.7 498.4 828.2 498.4 828.7 498.7 829.2 495.7 829.7 492.7 829.8 492.5 830.2 494.3 830.7 498.4 831.2 498.6 831.7 498.7 832.2 498.5 832.7 497.9 833.2 496.6 833.3 496.5 833.7 497.4 834.2 498.6 834.7 498.5 835.2 498.4 835.7 496.4 836.2 491.1 836.5 489.5 836.7 490.4 837.2 495.2 837.7 498.5 838.2 498.6 838.7 498.7 839.2 498.0 839.7 496.7 839.8 496.6 840.2 497.5 840.7 497.6 841.2 498.5 841.7 498.3 842.2 497.3 842.3 497.3 842.7 498.0 843.2 498.7 843.7 498.6 844.2 498.8 844.7 498.7 845.2 496.9 845.5 496.3 845.7 496.6 846.2 498.3 846.7 498.4 847.2 498.6 847.7 497.9 848.2 495.7 848.4 495.3 848.7 496.0 849.2 498.4 849.7 498.6 850.2 498.4 850.7 494.3 851.1 492.5 851.2 492.7 851.7 495.7 852.2 498.8 852.7 498.4 853.2 498.5 853.7 498.5 854.2 497.0 854.4 496.7 854.7 497.2 855.2 498.4 855.7 498.6 856.2 498.5 856.7 497.7 857.0 497.4 857.2 497.6 857.7 498.8 858.2 498.7 858.7 498.6 859.2 498.8 859.7 498.1 860.2 497.0 860.3 497.0 860.7 497.8 861.2 498.4 861.7 494.5 862.2 491.8 862.7 494.5 863.2 498.8 863.7 498.6 864.2 498.5 864.7 498.2 865.2 495.7 865.5 495.0 865.7 495.5 866.2 497.8 866.7 498.6 867.2 498.5 867.7 498.1 868.2 496.2 868.4 495.8 868.7 496.4 869.2 498.5 869.7 495.9 870.1 494.7 870.2 494.9 870.7 497.0 871.2 498.9 871.7 498.7 872.2 498.6 872.7 498.6 873.2 498.5 873.7 498.2 873.8 498.1 874.2 498.0 874.7 498.8 875.2 498.8 875.7 498.5 876.2 498.8 876.7 497.9 876.9 497.7 877.2 498.1 877.7 498.8 878.2 498.8 878.7 497.0 879.1 496.2 879.2 496.3 879.7 497.9 880.2 493.2 880.7 488.4 880.8 488.0 881.2 490.8 881.7 497.5 882.2 498.9 882.7 498.7 883.2 498.6 883.7 498.7 884.2 498.8 884.7 498.7 885.2 498.0 885.6 497.3 885.7 497.3 886.2 498.4 886.7 498.7 887.2 496.2 887.6 495.3 887.7 495.6 888.2 497.5 888.7 498.4 889.2 497.1 889.3 497.0 889.7 497.6 890.2 498.6 890.7 498.6 891.2 498.6 891.7 498.5 892.2 498.9 892.7 498.9 893.2 496.1 893.7 492.2 893.9 491.5 894.2 492.8 894.7 497.1 895.2 498.9 895.7 498.8 896.2 498.9 896.7 498.6 897.2 496.4 897.6 495.2 897.7 495.2 898.2 497.1 898.7 498.9 899.2 498.2 899.7 496.6 899.9 496.3 900.2 496.9 900.7 498.8 901.2 498.5 901.7 494.9 902.2 492.4 902.7 494.9 903.2 498.5 903.7 498.9 904.2 498.7 904.7 498.0 904.9 497.8 905.2 498.1 905.7 498.5 906.2 498.7 906.7 496.9 907.0 496.2 907.2 496.4 907.7 498.1 908.2 498.9 908.7 496.6 909.2 494.2 909.3 494.0 909.7 495.4 910.2 498.7 910.7 498.9 911.2 498.5 911.7 498.8 912.2 498.7 912.7 498.5 913.1 498.1 913.2 498.2 913.7 498.6 914.2 498.8 914.7 498.8 915.2 498.9 915.7 498.2 916.2 496.5 916.4 496.2 916.7 496.8 917.2 498.5 917.7 497.6 918.2 498.8 918.7 498.6 919.2 496.0 919.5 495.2 919.7 495.5 920.2 497.6 920.7 498.6 921.2 496.3 921.7 492.6 921.9 491.9 922.2 493.1 922.7 497.3 923.2 498.7 923.7 497.2 924.2 489.8 924.6 486.7 924.7 487.1 925.2 492.4 925.7 498.9 926.2 498.8 926.7 498.9 927.2 498.7 927.7 498.5 928.2 498.6 928.7 495.4 929.1 494.0 929.2 494.2 929.7 496.6 930.2 498.7 930.7 498.7 931.2 499.0 931.7 498.6 932.2 498.7 932.7 498.3 933.2 497.1 933.3 497.0 933.7 497.7 934.2 498.9 934.7 498.8 935.2 498.9 935.7 498.7 936.2 497.8 936.7 494.5 937.0 493.5 937.2 494.0 937.7 497.0 938.2 498.8 938.7 498.6 939.2 498.8 939.7 498.8 940.2 498.8 940.7 498.6 941.2 492.7 941.7 489.2 942.2 492.7 942.7 498.8 943.2 498.6 943.7 498.8 944.2 497.6 944.7 496.9 944.9 496.7 945.2 497.3 945.7 499.0 946.2 498.8 946.7 498.8 947.2 498.6 947.7 498.7 948.2 498.0 948.7 498.7 949.2 498.6 949.6 498.3 949.7 498.3 950.2 498.7 950.7 498.8 951.2 498.7 951.7 497.8 952.1 497.0 952.2 497.0 952.7 498.1 953.2 498.6 953.7 498.7 954.2 498.9 954.7 498.9 955.2 498.6 955.7 498.8 956.2 498.6 956.7 497.6 956.8 497.5 957.2 498.1 957.7 498.9 958.2 498.7 958.7 498.9 959.2 499.0 959.7 498.7 960.2 498.5 960.2 498.5 960.7 498.8 961.2 498.8 961.7 498.7 962.2 498.6 962.7 498.9 963.2 496.6 963.6 495.6 963.7 495.7 964.2 497.5 964.7 498.8 965.2 498.9 965.7 498.9 966.2 498.1 966.4 497.9 966.7 498.2 967.2 498.7 967.7 498.7 968.2 499.0 968.7 498.0 969.2 496.0 969.4 495.6 969.7 496.3 970.2 498.5 970.7 498.7 971.2 499.0 971.7 498.7 972.2 498.5 972.6 497.9 972.7 497.9 973.2 498.7 973.7 498.8 974.2 498.3 974.7 495.8 975.0 495.1 975.2 495.5 975.7 497.7 976.2 498.8 976.7 498.7 977.2 498.7 977.7 495.4 978.1 494.0 978.2 494.2 978.7 496.6 979.2 498.9 979.7 498.8 980.2 498.8 980.7 498.7 981.2 498.9 981.7 498.3 982.1 497.9 982.2 498.0 982.7 498.8 983.2 498.7 983.7 498.9 984.2 498.4 984.7 497.1 984.9 496.9 985.2 497.5 985.7 499.0 986.2 497.8 986.4 497.6 986.7 497.9 987.2 497.8 987.7 498.8 988.2 498.8 988.7 489.2 989.2 484.0 989.7 489.2 990.2 498.8 990.7 498.8 991.2 498.8 991.7 499.0 992.2 498.0 992.7 499.0 993.2 497.0 993.7 492.5 994.0 491.1 994.2 491.8 994.7 495.9 995.2 497.0 995.7 494.9 995.8 494.8 996.2 496.1 996.7 498.9 997.2 499.0 997.7 499.0 998.2 497.2 998.7 495.9 999.2 497.2 999.7 498.8 1000.2 496.5 1000.6 495.6 1000.7 495.8 1001.2 497.6 1001.7 497.9 1002.2 497.0 1002.5 496.6 1002.7 496.9 1003.2 498.6 1003.7 498.9 1004.2 497.5 1004.7 493.8 1005.0 492.7 1005.2 493.3 1005.7 496.6 1006.2 498.8 1006.7 498.9 1007.2 492.9 1007.7 485.8 1007.9 484.5 1008.2 486.9 1008.7 494.8 1009.2 496.4 1009.7 493.9 1009.8 493.8 1010.2 495.3 1010.7 498.8 1011.2 499.0 1011.7 496.8 1012.2 495.2 1012.2 495.1 1012.7 496.6 1013.2 498.9 1013.7 499.0 1014.2 499.0 1014.7 497.6 1015.2 496.0 1015.3 495.9 1015.7 496.9 1016.2 498.8 1016.7 499.0 1017.2 498.9 1017.7 499.0 1018.2 498.9 1018.7 498.2 1019.2 493.5 1019.6 491.5 1019.7 491.7 1020.2 495.2 1020.7 498.2 1021.2 496.6 1021.4 496.4 1021.7 497.0 1022.2 498.8 1022.7 499.1 1023.2 498.8 1023.7 498.2 1024.1 497.6 1024.2 497.7 1024.7 498.5 1025.2 499.0 1025.7 498.8 1026.2 499.1 1026.7 496.2 1027.2 494.3 1027.7 496.2 1028.2 499.0 1028.7 499.1 1029.2 499.1 1029.7 499.0 1030.2 499.1 1030.7 499.0 1031.2 497.0 1031.7 494.0 1031.9 493.5 1032.2 494.5 1032.7 497.8 1033.2 499.1 1033.7 499.0 1034.2 497.4 1034.7 496.1 1034.7 496.1 1035.2 497.3 1035.7 499.0 1036.2 498.8 1036.7 498.8 1037.2 499.1 1037.7 496.6 1038.2 494.2 1038.3 494.0 1038.7 495.4 1039.2 498.7 1039.7 499.1 1040.2 499.1 1040.7 495.9 1041.2 491.8 1041.4 491.1 1041.7 492.5 1042.2 497.0 1042.7 499.1 1043.2 498.9 1043.7 499.1 1044.2 498.9 1044.7 497.4 1045.2 494.8 1045.4 494.3 1045.7 495.2 1046.2 498.1 1046.7 499.0 1047.0 499.9Z"/>
<path d="M133.2 596.2L133.2 595.0 133.2 594.0 133.7 594.2 134.2 593.7 134.7 572.2 135.2 560.5 135.7 572.2 136.2 593.7 136.7 593.6 137.2 586.9 137.7 582.4 138.2 586.9 138.7 593.6 139.2 593.5 139.7 588.7 140.0 587.1 140.2 587.6 140.7 591.7 141.2 593.6 141.7 593.7 142.2 591.1 142.7 585.8 142.9 584.9 143.2 586.6 143.7 592.4 144.2 593.7 144.7 586.8 145.1 583.9 145.2 584.3 145.7 589.2 146.2 593.9 146.7 593.8 147.2 593.6 147.7 586.4 148.1 583.4 148.2 583.8 148.7 588.9 149.2 594.0 149.7 593.8 150.2 591.5 150.5 590.8 150.7 591.4 151.2 593.7 151.7 594.1 152.2 594.0 152.7 593.7 153.2 594.1 153.7 592.8 154.1 591.8 154.2 591.9 154.7 593.7 155.2 593.8 155.7 593.7 156.2 594.2 156.7 593.9 157.2 593.9 157.7 593.7 158.2 594.4 158.7 590.5 159.2 586.4 159.3 586.1 159.7 588.5 160.2 593.7 160.7 593.8 161.2 594.1 161.7 588.4 162.2 567.4 162.6 558.6 162.7 559.7 163.2 574.8 163.7 594.2 164.2 593.2 164.7 585.9 165.2 580.9 165.7 585.9 166.2 594.4 166.7 593.9 167.2 594.4 167.7 594.3 168.2 594.1 168.7 593.7 169.2 592.1 169.7 592.8 170.2 587.6 170.5 586.1 170.7 586.9 171.2 591.6 171.7 594.1 172.2 592.7 172.7 587.3 173.0 585.7 173.2 586.6 173.7 591.4 174.2 594.3 174.7 587.0 175.2 577.7 175.4 576.0 175.7 579.1 176.2 589.4 176.7 594.1 177.2 594.0 177.7 589.9 178.2 583.5 178.4 582.4 178.7 584.5 179.2 591.6 179.7 590.8 180.0 589.9 180.2 590.5 180.7 593.4 181.2 593.9 181.7 594.0 182.2 594.3 182.7 588.5 183.2 580.8 183.4 579.4 183.7 582.0 184.2 590.6 184.7 593.8 185.2 592.6 185.7 589.7 185.8 589.4 186.2 590.8 186.7 593.9 187.2 594.4 187.7 594.2 188.2 592.0 188.7 589.6 189.1 587.6 189.2 587.9 189.7 591.3 190.2 592.8 190.7 594.5 191.2 594.4 191.7 594.0 192.2 594.2 192.7 592.2 193.2 588.5 193.4 587.9 193.7 589.2 194.2 593.6 194.7 593.3 195.2 592.1 195.2 592.1 195.7 593.5 196.2 594.4 196.7 593.1 197.2 592.4 197.7 590.2 198.0 589.1 198.2 589.7 198.7 593.0 199.2 593.9 199.7 594.4 200.2 594.2 200.7 594.1 201.2 592.1 201.7 594.4 202.2 594.0 202.7 586.5 203.2 581.7 203.7 586.5 204.2 594.3 204.7 591.8 205.2 585.1 205.5 583.1 205.7 584.2 206.2 590.2 206.7 594.0 207.2 593.9 207.7 592.1 207.9 591.8 208.2 592.5 208.7 594.0 209.2 594.2 209.7 593.1 209.8 593.0 210.2 593.9 210.7 594.3 211.2 594.2 211.7 594.4 212.2 593.8 212.7 593.8 213.2 594.0 213.7 592.6 214.2 589.0 214.4 588.4 214.7 589.6 215.2 593.1 215.7 593.9 216.2 593.9 216.7 594.3 217.2 593.9 217.7 594.0 218.2 588.5 218.7 580.8 218.9 579.4 219.2 582.0 219.7 590.6 220.2 593.9 220.7 594.1 221.2 592.5 221.7 590.6 221.7 590.6 222.2 592.4 222.7 594.4 223.2 593.2 223.7 585.1 224.1 581.7 224.2 582.1 224.7 588.0 225.2 594.2 225.7 592.0 226.2 580.5 226.6 575.7 226.7 576.3 227.2 584.6 227.7 593.8 228.2 592.4 228.7 594.1 229.2 590.3 229.7 581.4 230.0 578.7 230.2 580.2 230.7 588.2 231.2 594.0 231.7 594.3 232.2 578.6 232.7 570.0 233.2 578.6 233.7 594.1 234.2 594.4 234.7 594.2 235.2 593.9 235.7 594.0 236.2 594.2 236.7 592.3 237.2 586.4 237.5 584.6 237.7 585.6 238.2 590.9 238.7 594.3 239.2 584.6 239.7 566.8 240.0 561.5 240.2 564.4 240.7 580.4 241.2 594.2 241.7 594.3 242.2 580.9 242.7 557.4 243.0 550.4 243.2 554.2 243.7 575.3 244.2 594.2 244.7 593.9 245.2 589.5 245.7 583.3 245.9 582.4 246.2 584.8 246.7 592.0 247.2 587.4 247.7 578.5 247.9 576.9 248.2 579.8 248.7 589.7 249.2 594.4 249.7 594.2 250.2 591.5 250.6 590.0 250.7 590.1 251.2 592.6 251.7 594.2 252.2 585.9 252.7 558.0 253.1 546.2 253.2 547.7 253.7 567.8 254.2 594.1 254.7 578.2 255.2 559.9 255.4 556.6 255.7 562.6 256.2 582.9 256.7 592.2 257.2 586.0 257.5 584.1 257.7 585.1 258.2 590.6 258.7 594.1 259.2 594.3 259.7 579.3 260.2 567.4 260.3 566.5 260.7 573.5 261.2 590.1 261.7 594.0 262.2 594.2 262.7 590.3 263.2 574.2 263.6 567.5 263.7 568.3 264.2 579.9 264.7 594.5 265.2 594.5 265.7 579.5 266.2 567.7 266.3 566.8 266.7 573.7 267.2 590.1 267.7 594.4 268.2 581.8 268.7 571.6 268.8 570.9 269.2 576.8 269.7 591.0 270.2 590.0 270.7 582.6 270.9 580.9 271.2 582.8 271.7 590.3 272.2 587.1 272.7 580.7 272.8 580.2 273.2 584.0 273.7 592.9 274.2 592.1 274.7 557.3 275.2 538.2 275.7 557.3 276.2 592.1 276.7 594.5 277.2 594.5 277.7 592.4 278.2 585.3 278.5 582.8 278.7 583.6 279.2 589.5 279.7 594.3 280.2 594.5 280.7 594.3 281.2 594.4 281.7 593.9 282.2 594.3 282.7 594.2 283.2 594.1 283.7 594.0 284.2 594.4 284.7 594.0 285.2 594.2 285.7 594.1 286.2 594.1 286.7 582.3 287.2 568.1 287.4 565.6 287.7 570.3 288.2 570.3 288.5 565.6 288.7 568.1 289.2 582.3 289.7 594.1 290.2 594.4 290.7 594.4 291.2 592.2 291.7 589.6 291.8 589.4 292.2 591.1 292.7 594.4 293.2 591.0 293.7 588.0 293.7 588.0 294.2 590.4 294.7 594.6 295.2 594.6 295.7 591.9 296.2 589.8 296.7 591.9 297.2 594.2 297.7 592.3 298.2 594.1 298.7 594.1 299.2 594.3 299.7 589.5 300.2 582.6 300.4 581.4 300.7 583.7 301.2 591.2 301.7 594.3 302.2 592.9 302.7 584.0 303.1 580.2 303.2 580.7 303.7 587.1 304.2 594.2 304.7 592.9 305.2 593.8 305.7 590.2 306.0 589.2 306.2 589.8 306.7 593.1 307.2 594.4 307.7 591.2 308.2 577.7 308.6 572.0 308.7 572.7 309.2 582.5 309.7 594.1 310.2 594.5 310.7 594.1 311.2 594.4 311.7 594.2 312.2 593.2 312.7 588.7 313.0 587.3 313.2 588.0 313.7 592.1 314.2 594.1 314.7 594.3 315.2 593.6 315.7 589.6 316.0 588.4 316.2 589.0 316.7 592.6 317.2 594.2 317.7 594.6 318.2 594.4 318.7 587.8 319.2 575.0 319.5 571.2 319.7 573.3 320.2 584.8 320.7 594.5 321.2 584.3 321.7 566.2 322.0 560.8 322.2 563.7 322.7 580.1 323.2 592.6 323.7 580.8 324.2 557.1 324.5 550.1 324.7 553.9 325.2 575.2 325.7 594.6 326.2 594.2 326.7 590.4 327.2 581.6 327.5 579.0 327.7 580.4 328.2 588.4 328.7 594.3 329.2 594.2 329.7 592.2 330.2 587.7 330.4 586.8 330.7 588.0 331.2 592.8 331.7 593.3 332.2 590.1 332.4 589.5 332.7 590.4 333.2 593.8 333.7 594.6 334.2 582.0 334.7 575.0 335.2 582.0 335.7 594.3 336.2 594.4 336.7 581.1 337.2 570.5 337.3 569.7 337.7 575.9 338.2 590.7 338.7 594.5 339.2 594.6 339.7 592.7 340.2 583.4 340.6 579.4 340.7 579.9 341.2 586.7 341.7 588.9 342.1 586.6 342.2 586.8 342.7 590.7 343.2 594.2 343.7 594.4 344.2 594.3 344.7 594.1 345.2 594.6 345.7 594.0 346.2 587.9 346.6 585.4 346.7 585.7 347.2 590.1 347.7 594.4 348.2 594.5 348.7 591.1 349.2 583.2 349.5 580.9 349.7 582.2 350.2 589.2 350.7 594.5 351.2 594.4 351.7 592.3 352.2 586.4 352.5 584.6 352.7 585.6 353.2 590.9 353.7 594.2 354.2 594.3 354.7 594.2 355.2 594.4 355.7 589.6 356.2 584.9 356.3 584.6 356.7 587.3 357.2 593.8 357.7 594.3 358.2 594.3 358.7 594.3 359.2 591.4 359.7 588.9 359.7 588.9 360.2 591.2 360.7 594.5 361.2 594.2 361.7 591.9 362.2 589.8 362.7 591.9 363.2 594.5 363.7 594.7 364.2 594.2 364.7 592.0 364.9 591.6 365.2 592.3 365.7 594.5 366.2 594.6 366.7 594.5 367.2 590.7 367.6 589.3 367.7 589.6 368.2 592.5 368.7 594.7 369.2 583.4 369.7 577.2 370.2 583.4 370.7 594.2 371.2 594.7 371.7 592.9 372.2 584.0 372.6 580.2 372.7 580.7 373.2 587.1 373.7 594.7 374.2 594.6 374.7 594.1 375.2 588.5 375.6 586.1 375.7 586.4 376.2 590.5 376.7 591.2 377.1 589.9 377.2 590.1 377.7 592.8 378.2 594.5 378.7 593.6 379.2 591.3 379.4 590.9 379.7 591.9 380.2 594.5 380.7 594.4 381.2 594.4 381.7 594.4 382.2 593.2 382.7 585.1 383.1 581.7 383.2 582.1 383.7 588.0 384.2 594.5 384.7 593.2 385.2 590.8 385.7 582.6 386.0 580.2 386.2 581.5 386.7 588.9 387.2 594.6 387.7 594.5 388.2 594.8 388.7 594.7 389.2 590.3 389.7 586.1 389.8 585.8 390.2 588.2 390.7 594.1 391.2 594.6 391.7 594.3 392.2 590.3 392.7 586.1 392.8 585.8 393.2 588.2 393.7 594.1 394.2 594.6 394.7 594.7 395.2 594.5 395.7 593.0 396.2 594.3 396.7 591.3 397.2 583.9 397.5 581.7 397.7 582.9 398.2 589.6 398.7 594.6 399.2 594.8 399.7 594.7 400.2 594.6 400.7 590.0 401.1 587.9 401.2 588.1 401.7 591.3 402.2 593.7 402.7 584.9 403.2 579.4 403.7 584.9 404.2 594.3 404.7 592.9 405.2 594.6 405.7 590.8 406.2 582.6 406.5 580.2 406.7 581.5 407.2 588.9 407.7 594.8 408.2 594.8 408.7 594.6 409.2 594.7 409.7 594.6 410.2 594.8 410.7 593.3 411.2 590.3 411.4 589.8 411.7 590.8 412.2 594.1 412.7 594.4 413.2 594.7 413.7 594.7 414.2 594.3 414.7 593.8 415.2 588.8 415.7 583.5 415.8 583.1 416.2 586.2 416.7 593.5 417.2 594.6 417.7 594.3 418.2 594.4 418.7 585.8 419.2 578.4 419.3 577.9 419.7 582.2 420.2 592.4 420.7 594.6 421.2 594.4 421.7 594.7 422.2 594.7 422.7 594.3 423.2 594.5 423.7 594.3 424.2 594.5 424.7 580.6 425.2 573.0 425.7 580.6 426.2 594.5 426.7 594.8 427.2 590.1 427.7 585.7 427.8 585.4 428.2 587.9 428.7 594.0 429.2 594.4 429.7 594.7 430.2 594.4 430.7 594.3 431.2 594.6 431.7 591.4 432.2 589.1 432.7 591.4 433.2 594.6 433.7 594.7 434.2 593.4 434.7 593.4 435.2 590.6 435.4 590.1 435.7 591.0 436.2 594.2 436.7 594.4 437.2 594.5 437.7 592.4 438.2 590.6 438.7 592.4 439.2 594.4 439.7 594.7 440.2 594.6 440.7 594.7 441.2 594.0 441.7 591.7 441.9 591.3 442.2 592.0 442.7 594.6 443.2 594.8 443.7 593.9 444.2 592.2 444.3 592.1 444.7 593.1 445.2 594.3 445.7 593.4 446.1 592.3 446.2 592.4 446.7 593.8 447.2 594.5 447.7 594.5 448.2 591.9 448.7 587.6 448.9 586.8 449.2 588.2 449.7 593.1 450.2 594.4 450.7 594.7 451.2 594.4 451.7 591.4 452.0 590.5 452.2 590.9 452.7 593.1 453.2 594.5 453.7 593.4 454.2 589.2 454.5 587.9 454.7 588.6 455.2 592.4 455.7 594.8 456.2 594.5 456.7 594.3 457.2 592.4 457.4 592.1 457.7 592.7 458.2 594.6 458.7 594.4 459.2 593.0 459.7 591.1 459.8 591.0 460.2 592.4 460.7 594.7 461.2 594.8 461.7 588.3 462.2 582.7 462.3 582.3 462.7 585.6 463.2 593.3 463.7 592.8 464.1 591.8 464.2 591.9 464.7 593.7 465.2 594.8 465.7 594.4 466.2 594.4 466.7 594.8 467.2 592.9 467.7 589.6 467.9 589.0 468.2 590.1 468.7 593.8 469.2 594.7 469.7 593.5 470.2 594.6 470.7 594.8 471.2 594.7 471.7 594.0 471.7 594.0 472.2 594.6 472.7 594.4 473.2 594.8 473.7 594.7 474.2 590.7 474.6 589.0 474.7 589.2 475.2 592.1 475.7 594.8 476.2 593.4 476.7 594.9 477.2 593.9 477.6 593.3 477.7 593.4 478.2 594.6 478.7 594.9 479.2 594.5 479.7 594.8 480.2 593.3 480.7 592.8 481.2 590.4 481.3 590.2 481.7 591.6 482.2 594.5 482.7 594.8 483.2 594.7 483.7 594.6 484.2 593.2 484.5 592.7 484.7 593.1 485.2 594.4 485.7 594.9 486.2 594.8 486.7 593.0 487.2 591.5 487.2 591.5 487.7 593.2 488.2 594.6 488.7 592.9 489.0 592.4 489.2 592.8 489.7 594.6 490.2 594.7 490.7 594.7 491.2 594.8 491.7 592.6 492.1 591.4 492.2 591.4 492.7 593.3 493.2 590.7 493.6 589.0 493.7 589.2 494.2 592.1 494.7 594.8 495.2 593.6 495.4 593.4 495.7 593.9 496.2 594.7 496.7 594.4 497.2 594.6 497.7 594.9 498.2 594.2 498.4 594.1 498.7 594.4 499.2 594.5 499.7 592.1 500.2 589.2 500.3 589.0 500.7 590.7 501.2 594.4 501.7 594.9 502.2 594.5 502.7 594.8 503.2 591.7 503.6 590.4 503.7 590.6 504.2 593.0 504.7 594.8 505.2 594.6 505.7 593.8 506.2 587.3 506.6 584.6 506.7 584.9 507.2 589.6 507.7 594.9 508.2 594.4 508.7 592.0 509.0 591.4 509.2 591.9 509.7 594.2 510.2 594.8 510.7 594.5 511.2 591.9 511.6 590.8 511.7 591.1 512.2 593.1 512.7 594.6 513.2 594.9 513.7 592.7 514.0 591.9 514.2 592.2 514.7 594.0 515.2 593.4 515.7 589.2 516.0 587.9 516.2 588.6 516.7 592.4 517.2 594.4 517.7 594.1 518.0 593.7 518.2 593.8 518.7 594.7 519.2 594.7 519.7 594.6 520.2 594.8 520.7 594.5 521.2 589.9 521.6 587.9 521.7 588.1 522.2 591.5 522.7 594.9 523.2 594.7 523.7 594.5 524.2 594.4 524.7 594.8 525.2 592.2 525.5 591.4 525.7 591.7 526.2 593.8 526.7 594.9 527.2 594.8 527.7 591.5 528.2 588.1 528.3 587.9 528.7 589.9 529.2 594.4 529.7 593.9 530.2 593.9 530.2 593.9 530.7 594.5 531.2 594.7 531.7 594.8 532.2 593.7 532.7 592.6 532.7 592.6 533.2 593.9 533.7 594.9 534.2 594.8 534.7 594.6 535.2 594.6 535.7 592.6 536.0 592.2 536.2 592.7 536.7 593.4 537.2 594.5 537.7 592.8 538.2 590.4 538.3 590.2 538.7 591.6 539.2 594.7 539.7 594.9 540.2 594.6 540.7 594.8 541.2 594.8 541.7 594.7 542.2 593.7 542.7 592.4 542.7 592.4 543.2 593.6 543.7 592.6 544.0 591.7 544.2 591.9 544.7 593.4 545.2 594.7 545.7 594.9 546.2 593.0 546.5 592.2 546.7 592.5 547.2 594.2 547.7 594.9 548.2 594.4 548.7 593.8 549.2 590.1 549.5 589.0 549.7 589.6 550.2 592.9 550.7 594.7 551.2 594.8 551.7 594.7 552.2 594.6 552.7 594.6 553.2 594.1 553.6 593.3 553.7 593.3 554.2 593.6 554.7 586.5 555.1 583.5 555.2 583.9 555.7 589.0 556.2 594.8 556.7 594.5 557.2 594.4 557.7 592.4 557.9 592.1 558.2 592.7 558.7 594.5 559.2 593.3 559.7 591.5 559.8 591.4 560.2 592.7 560.7 594.5 561.2 594.8 561.7 594.7 562.2 592.6 562.7 589.0 562.9 588.4 563.2 589.6 563.7 593.6 564.2 594.8 564.7 594.6 565.2 594.7 565.7 594.7 566.2 594.8 566.7 594.6 567.2 594.7 567.7 593.4 568.2 589.2 568.5 587.9 568.7 588.6 569.2 592.4 569.7 594.5 570.2 594.9 570.7 594.5 571.2 594.7 571.7 592.0 572.1 590.3 572.2 590.4 572.7 592.6 573.2 594.8 573.7 594.9 574.2 594.9 574.7 594.8 575.2 594.5 575.7 590.9 576.2 587.1 576.3 586.8 576.7 589.0 577.2 594.3 577.7 594.9 578.2 594.6 578.7 594.7 579.2 589.2 579.7 585.7 580.2 589.2 580.7 594.7 581.2 595.0 581.7 594.9 582.2 594.7 582.7 594.9 583.2 592.5 583.6 591.3 583.7 591.4 584.2 593.4 584.7 588.3 585.2 582.7 585.3 582.3 585.7 585.6 586.2 593.3 586.7 594.5 587.2 588.1 587.7 580.0 587.9 578.5 588.2 581.2 588.7 590.3 589.2 594.7 589.7 593.1 590.2 590.9 590.7 587.1 590.8 586.8 591.2 589.0 591.7 594.3 592.2 594.5 592.7 594.6 593.2 592.7 593.5 592.2 593.7 592.7 594.2 594.6 594.7 594.7 595.2 595.0 595.7 594.9 596.2 592.9 596.7 589.8 596.9 589.3 597.2 590.5 597.7 594.0 598.2 594.6 598.7 592.8 599.2 590.4 599.3 590.3 599.7 591.8 600.2 585.6 600.7 574.9 600.9 573.0 601.2 576.5 601.7 588.4 602.2 594.5 602.7 594.7 603.2 594.8 603.7 585.4 604.2 580.1 604.7 585.4 605.2 594.8 605.7 593.5 606.2 591.9 606.2 591.9 606.7 593.1 607.2 594.9 607.7 594.5 608.2 595.0 608.7 594.9 609.2 591.5 609.7 588.1 609.8 587.9 610.2 589.9 610.7 594.5 611.2 594.6 611.7 594.8 612.2 594.6 612.7 594.8 613.2 594.8 613.7 594.9 614.2 594.9 614.7 591.4 615.2 586.6 615.4 585.7 615.7 587.3 616.2 592.7 616.7 594.6 617.2 594.6 617.7 594.7 618.2 594.8 618.7 591.0 619.1 589.4 619.2 589.6 619.7 592.4 620.2 593.8 620.7 592.3 621.2 586.4 621.5 584.6 621.7 585.6 622.2 590.9 622.7 595.0 623.2 594.9 623.7 594.8 624.2 593.6 624.7 591.7 624.8 591.6 625.2 592.7 625.7 594.8 626.2 595.0 626.7 592.8 627.2 590.4 627.3 590.2 627.7 591.6 628.2 594.6 628.7 594.9 629.2 594.8 629.7 594.6 630.2 594.6 630.7 592.0 631.2 590.0 631.2 590.0 631.7 592.2 632.2 594.9 632.7 594.7 633.2 595.0 633.7 590.9 634.2 585.6 634.4 584.6 634.7 586.4 635.2 592.3 635.7 594.8 636.2 594.8 636.7 594.8 637.2 595.0 637.7 593.6 638.2 592.5 638.3 592.4 638.7 593.1 639.2 594.8 639.7 594.7 640.2 593.4 640.7 592.3 640.7 592.3 641.2 593.8 641.7 593.6 642.2 591.6 642.3 591.4 642.7 592.4 643.2 594.8 643.7 593.8 644.2 590.1 644.5 589.0 644.7 589.6 645.2 592.9 645.7 594.9 646.2 594.7 646.7 593.1 646.9 592.8 647.2 593.3 647.7 595.0 648.2 594.8 648.7 594.7 649.2 595.0 649.7 593.4 650.2 589.2 650.5 587.9 650.7 588.6 651.2 592.4 651.7 593.7 652.2 594.9 652.7 594.6 653.2 594.9 653.7 594.6 654.2 593.6 654.3 593.5 654.7 594.0 655.2 594.9 655.7 593.8 655.9 593.5 656.2 593.9 656.7 594.9 657.2 594.8 657.7 593.8 658.2 592.3 658.2 592.3 658.7 593.4 659.2 595.0 659.7 592.5 660.1 591.3 660.2 591.4 660.7 593.4 661.2 594.9 661.7 594.7 662.2 593.5 662.3 593.8 662.7 594.2 663.2 594.7 663.7 594.8 664.2 594.9 664.7 593.8 665.1 593.1 665.2 593.2 665.7 594.5 666.2 594.7 666.7 594.7 667.2 593.5 667.7 590.7 667.9 590.2 668.2 591.1 668.7 594.2 669.2 594.7 669.7 594.9 670.2 595.1 670.7 594.6 671.2 594.4 671.7 593.3 671.8 593.3 672.2 594.1 672.7 595.1 673.2 595.0 673.7 594.7 674.2 594.7 674.7 593.7 675.2 593.4 675.7 591.4 675.8 591.3 676.2 592.5 676.7 594.7 677.2 593.8 677.5 593.2 677.7 593.4 678.2 594.7 678.7 594.7 679.2 594.9 679.7 594.8 680.2 594.9 680.7 594.8 681.2 594.9 681.7 593.4 682.2 591.4 682.3 591.3 682.7 592.5 683.2 594.8 683.7 594.9 684.2 594.8 684.7 594.8 685.2 595.1 685.7 593.1 686.1 592.1 686.2 592.2 686.7 593.8 687.2 594.1 687.7 592.7 687.8 592.6 688.2 593.5 688.7 595.0 689.2 594.3 689.7 593.3 690.2 594.3 690.7 594.9 691.2 595.0 691.7 594.9 692.2 594.9 692.7 593.6 693.2 589.6 693.5 588.4 693.7 589.0 694.2 592.6 694.7 594.3 695.2 594.1 695.7 593.0 695.7 593.0 696.2 593.9 696.7 595.1 697.2 594.8 697.7 594.9 698.2 593.4 698.7 589.2 699.0 587.9 699.2 588.6 699.7 592.4 700.2 595.0 700.7 593.3 701.1 592.3 701.2 592.4 701.7 593.9 702.2 594.9 702.7 595.1 703.2 594.9 703.7 594.8 704.2 595.0 704.7 591.5 705.2 588.1 705.3 587.9 705.7 589.9 706.2 594.5 706.7 595.0 707.2 594.7 707.7 595.1 708.2 595.0 708.7 594.4 709.2 593.5 709.2 593.6 709.7 594.5 710.2 594.9 710.7 592.1 711.2 589.2 711.3 589.0 711.7 590.7 712.2 594.7 712.7 594.3 713.2 592.4 713.4 592.0 713.7 592.6 714.2 594.7 714.7 593.6 715.2 591.6 715.3 591.4 715.7 592.5 716.2 594.7 716.7 594.8 717.2 592.7 717.7 587.3 718.0 585.7 718.2 586.6 718.7 591.4 719.2 594.4 719.7 595.0 720.2 594.9 720.7 593.7 721.2 591.8 721.3 591.6 721.7 592.6 722.2 594.9 722.7 594.9 723.2 593.6 723.6 592.8 723.7 592.9 724.2 594.3 724.7 594.8 725.2 594.9 725.7 594.5 726.2 592.3 726.5 591.8 726.7 592.3 727.2 594.4 727.7 595.1 728.2 594.9 728.6 594.5 728.7 594.5 729.2 595.1 729.7 594.9 730.2 594.8 730.7 595.1 731.2 594.1 731.4 593.9 731.7 594.2 732.2 594.9 732.7 594.7 733.2 595.0 733.7 595.0 734.2 593.8 734.7 592.0 734.8 591.9 735.2 592.9 735.7 595.1 736.2 594.4 736.7 595.0 737.2 594.8 737.7 594.2 738.2 592.3 738.4 592.0 738.7 592.7 739.2 594.9 739.7 595.0 740.2 595.1 740.7 593.6 741.2 589.6 741.5 588.4 741.7 589.0 742.2 592.6 742.7 593.4 743.2 591.5 743.3 591.4 743.7 592.6 744.2 594.8 744.7 595.0 745.2 595.0 745.7 592.2 746.2 589.8 746.2 589.8 746.7 591.6 747.2 595.0 747.7 584.9 748.2 579.4 748.7 584.9 749.2 595.0 749.7 594.8 750.2 594.9 750.7 595.0 751.2 593.7 751.7 590.2 752.0 589.2 752.2 589.8 752.7 593.1 753.2 593.9 753.7 593.8 754.2 592.3 754.3 592.3 754.7 593.3 755.2 593.8 755.7 590.1 756.0 589.0 756.2 589.6 756.7 592.9 757.2 595.0 757.7 592.9 758.1 591.6 758.2 591.6 758.7 593.3 759.2 594.8 759.7 595.1 760.2 594.8 760.7 593.6 761.2 586.5 761.6 583.5 761.7 583.9 762.2 589.0 762.7 595.1 763.2 595.1 763.7 592.3 764.2 590.4 764.7 592.3 765.2 594.0 765.7 594.9 766.2 595.0 766.7 592.3 767.2 590.6 767.2 590.6 767.7 592.6 768.2 595.2 768.7 594.8 769.2 594.0 769.7 588.2 770.1 585.7 770.2 586.0 770.7 590.2 771.2 595.0 771.7 595.2 772.2 595.2 772.7 594.5 773.2 593.2 773.3 593.0 773.7 593.7 774.2 595.0 774.7 595.1 775.2 595.1 775.7 594.2 776.0 593.9 776.2 594.1 776.7 595.2 777.2 595.0 777.7 595.1 778.2 594.9 778.7 594.2 779.2 591.1 779.5 590.2 779.7 590.7 780.2 593.5 780.7 595.2 781.2 594.9 781.7 594.9 782.2 594.8 782.7 591.9 783.1 590.7 783.2 590.9 783.7 593.2 784.2 593.2 784.7 590.8 784.8 590.6 785.2 591.8 785.7 594.9 786.2 595.0 786.7 595.1 787.2 595.0 787.7 592.9 788.2 589.6 788.4 589.0 788.7 590.1 789.2 593.8 789.7 595.0 790.2 594.9 790.7 595.1 791.2 590.2 791.7 586.0 791.8 585.7 792.2 588.2 792.7 594.0 793.2 595.2 793.7 595.2 794.2 592.9 794.7 583.9 795.1 580.1 795.2 580.6 795.7 587.1 796.2 595.2 796.7 595.2 797.2 594.9 797.7 592.7 798.2 587.3 798.5 585.7 798.7 586.6 799.2 591.4 799.7 595.1 800.2 594.8 800.7 593.7 801.2 590.6 801.5 589.9 801.7 590.6 802.2 593.7 802.7 595.1 803.2 594.3 803.7 593.0 803.8 592.9 804.2 593.7 804.7 595.1 805.2 594.9 805.7 595.1 806.2 593.6 806.7 592.0 806.8 592.0 807.2 593.2 807.7 593.8 808.2 590.1 808.5 589.0 808.7 589.6 809.2 592.9 809.7 595.2 810.2 594.9 810.7 594.0 810.8 593.9 811.2 594.5 811.7 594.9 812.2 595.0 812.7 595.0 813.2 594.9 813.4 594.8 813.7 595.1 814.2 595.1 814.7 593.7 815.2 592.6 815.2 592.6 815.7 593.9 816.2 595.1 816.7 594.6 817.2 592.0 817.5 591.3 817.7 591.7 818.2 594.0 818.7 594.6 819.0 594.3 819.2 594.5 819.7 595.1 820.2 595.2 820.7 595.0 821.2 595.1 821.7 594.7 821.9 594.6 822.2 594.8 822.7 595.2 823.2 593.3 823.5 592.6 823.7 592.8 824.2 594.4 824.7 594.9 825.2 595.2 825.7 595.3 826.2 595.0 826.7 594.1 826.8 594.0 827.2 594.5 827.7 595.2 828.2 595.0 828.7 595.2 829.2 595.0 829.7 595.2 830.2 594.0 830.7 591.7 830.9 591.3 831.2 592.0 831.7 594.6 832.2 594.9 832.7 595.1 833.2 594.2 833.5 594.0 833.7 594.3 834.2 594.0 834.7 594.1 835.2 594.9 835.7 595.0 836.2 593.9 836.4 593.8 836.7 594.3 837.2 595.0 837.7 595.1 838.2 595.0 838.7 594.6 838.7 594.6 839.2 595.0 839.7 594.9 840.2 595.1 840.7 595.1 841.2 595.0 841.7 594.7 841.8 594.7 842.2 595.0 842.7 595.2 843.2 594.8 843.7 593.6 843.8 593.5 844.2 594.1 844.7 595.0 845.2 595.1 845.7 595.0 846.2 594.6 846.2 594.6 846.7 595.1 847.2 595.2 847.7 595.2 848.2 594.0 848.7 592.5 848.8 592.4 849.2 593.3 849.7 595.1 850.2 594.9 850.6 594.4 850.7 594.4 851.2 595.0 851.7 595.1 852.2 595.1 852.7 593.8 853.2 591.3 853.4 590.8 853.7 591.6 854.2 594.3 854.7 595.2 855.2 593.4 855.6 592.3 855.7 592.4 856.2 593.8 856.7 595.0 857.2 595.0 857.7 592.8 858.1 591.7 858.2 591.8 858.7 593.6 859.2 595.0 859.7 595.2 860.2 594.7 860.7 590.7 861.1 589.0 861.2 589.2 861.7 592.1 862.2 595.1 862.7 595.3 863.2 595.1 863.7 595.1 864.2 595.1 864.7 591.2 865.2 583.5 865.5 581.2 865.7 582.4 866.2 589.4 866.7 595.2 867.2 593.8 867.7 591.8 867.8 591.6 868.2 592.5 868.7 595.0 869.2 595.1 869.7 595.3 870.2 595.0 870.7 595.0 871.2 595.1 871.7 592.9 872.2 591.3 872.7 592.9 873.2 595.1 873.7 595.3 874.2 595.2 874.7 594.6 875.2 592.8 875.4 592.5 875.7 593.0 876.2 594.9 876.7 594.1 877.2 592.4 877.3 592.3 877.7 593.1 878.2 594.2 878.7 591.6 879.0 590.9 879.2 591.5 879.7 594.0 880.2 595.3 880.7 595.1 881.2 595.2 881.7 590.9 882.2 587.1 882.3 586.8 882.7 589.0 883.2 594.3 883.7 595.3 884.2 595.2 884.7 593.2 885.1 592.1 885.2 592.1 885.7 593.7 886.2 595.2 886.7 595.2 887.2 595.2 887.7 594.1 888.2 593.2 888.2 593.2 888.7 594.3 889.2 595.2 889.7 595.1 890.2 595.1 890.7 593.6 891.2 592.4 891.7 593.6 892.2 594.9 892.7 593.8 892.8 593.7 893.2 594.3 893.7 595.3 894.2 595.4 894.7 595.2 895.2 593.9 895.5 593.6 895.7 593.9 896.2 595.1 896.7 595.3 897.2 595.3 897.7 595.1 898.2 594.8 898.4 594.7 898.7 595.0 899.2 595.2 899.7 594.4 900.2 593.5 900.7 594.4 901.2 595.3 901.7 595.0 902.2 595.0 902.5 594.7 902.7 594.8 903.2 595.3 903.7 595.0 904.2 594.4 904.7 595.3 905.2 594.1 905.6 593.5 905.7 593.6 906.2 594.7 906.7 595.2 907.2 595.3 907.7 595.3 908.2 595.1 908.7 595.2 909.2 594.2 909.6 593.7 909.7 593.8 910.2 594.9 910.7 595.3 911.2 594.8 911.7 593.9 911.8 593.9 912.2 594.5 912.7 595.2 913.2 595.1 913.7 593.9 913.9 593.6 914.2 594.0 914.7 595.2 915.2 594.4 915.7 595.1 916.2 594.9 916.7 591.2 917.1 589.7 917.2 589.9 917.7 592.5 918.2 595.3 918.7 595.4 919.2 595.2 919.7 595.3 920.2 595.3 920.7 594.0 921.2 592.5 921.3 592.4 921.7 593.3 922.2 595.4 922.7 594.4 923.1 593.8 923.2 593.8 923.7 594.8 924.2 595.2 924.7 595.3 925.2 594.7 925.7 595.3 926.2 595.2 926.7 592.8 927.2 591.2 927.7 592.8 928.2 595.2 928.7 595.2 929.2 595.1 929.7 595.3 930.2 594.5 930.7 593.2 930.8 593.1 931.2 593.9 931.7 595.2 932.2 593.4 932.7 590.5 932.9 590.0 933.2 590.9 933.7 594.1 934.2 595.3 934.7 594.3 935.2 593.4 935.7 594.3 936.2 595.1 936.7 594.3 936.8 594.2 937.2 594.5 937.7 595.2 938.2 595.4 938.7 595.2 939.2 594.9 939.7 594.2 939.7 594.2 940.2 594.8 940.7 592.2 941.2 588.2 941.4 587.5 941.7 588.8 942.2 593.3 942.7 594.3 943.2 595.1 943.7 594.8 944.2 592.8 944.5 592.3 944.7 592.7 945.2 594.5 945.7 595.4 946.2 593.7 946.7 592.4 946.7 592.4 947.2 593.5 947.7 595.1 948.2 594.6 948.7 592.9 948.9 592.6 949.2 593.1 949.7 594.9 950.2 594.5 950.5 594.2 950.7 594.4 951.2 595.4 951.7 595.2 952.2 595.3 952.7 595.4 953.2 595.2 953.7 592.6 954.1 591.5 954.2 591.6 954.7 593.5 955.2 595.4 955.7 595.3 956.2 595.4 956.7 595.2 957.2 594.4 957.5 593.9 957.7 594.1 958.2 595.1 958.7 595.2 959.2 595.3 959.7 595.4 960.2 595.3 960.7 594.9 961.2 593.0 961.5 592.4 961.7 592.7 962.2 594.5 962.7 595.3 963.2 595.4 963.7 595.2 964.2 595.2 964.7 594.9 965.0 594.4 965.2 594.6 965.7 595.3 966.2 595.3 966.7 595.1 967.2 593.5 967.5 593.0 967.7 593.3 968.2 594.7 968.7 595.2 969.2 595.4 969.7 595.3 970.2 594.8 970.7 594.1 970.7 594.1 971.2 594.7 971.7 595.4 972.2 595.4 972.7 595.2 973.2 595.4 973.7 595.1 974.2 592.1 974.6 590.9 974.7 591.1 975.2 593.2 975.7 595.2 976.2 595.4 976.7 594.9 977.2 593.7 977.4 593.5 977.7 593.9 978.2 595.1 978.7 595.3 979.2 595.0 979.7 594.4 979.7 594.4 980.2 595.1 980.7 595.2 981.2 595.1 981.7 595.2 982.2 594.6 982.2 594.6 982.7 595.1 983.2 595.3 983.7 593.0 984.2 591.5 984.7 593.0 985.2 595.1 985.7 595.4 986.2 595.4 986.7 594.1 987.0 593.7 987.2 593.8 987.7 595.0 988.2 594.5 988.4 594.3 988.7 594.6 989.2 595.3 989.7 595.3 990.2 595.4 990.7 595.2 991.2 594.7 991.6 594.2 991.7 594.3 992.2 595.1 992.7 595.3 993.2 595.3 993.7 595.2 994.2 594.5 994.3 594.5 994.7 594.9 995.2 595.4 995.7 595.1 996.2 595.4 996.7 595.2 997.2 595.2 997.7 595.4 998.2 595.0 998.4 594.8 998.7 594.9 999.2 595.2 999.7 595.0 999.9 594.9 1000.2 595.1 1000.7 595.2 1001.2 594.3 1001.7 595.4 1002.2 595.2 1002.7 594.7 1003.2 593.9 1003.7 594.7 1004.2 595.4 1004.7 595.4 1005.2 595.4 1005.7 595.1 1006.1 594.8 1006.2 594.8 1006.7 595.3 1007.2 595.3 1007.7 594.7 1008.2 594.8 1008.2 594.8 1008.7 595.2 1009.2 595.2 1009.7 595.4 1010.2 594.9 1010.4 594.7 1010.7 594.9 1011.2 595.3 1011.7 595.4 1012.2 595.2 1012.7 595.2 1013.2 594.9 1013.7 594.2 1014.2 594.9 1014.7 595.3 1015.2 595.4 1015.7 595.2 1016.2 595.3 1016.7 594.6 1016.8 594.8 1017.2 595.1 1017.7 595.2 1018.2 595.3 1018.7 595.4 1019.2 594.9 1019.6 594.4 1019.7 594.4 1020.2 595.1 1020.7 595.2 1021.2 595.4 1021.7 594.8 1021.9 594.7 1022.2 594.9 1022.7 594.6 1023.2 595.5 1023.7 594.7 1024.1 594.2 1024.2 594.3 1024.7 595.1 1025.2 595.4 1025.7 595.2 1026.2 595.5 1026.7 594.7 1027.2 594.9 1027.7 594.0 1027.8 594.0 1028.2 594.5 1028.7 595.2 1029.2 595.2 1029.7 595.0 1030.2 594.2 1030.3 594.2 1030.7 594.7 1031.2 595.2 1031.7 595.3 1032.2 594.9 1032.7 593.0 1033.0 592.4 1033.2 592.7 1033.7 594.5 1034.2 595.3 1034.7 595.3 1035.2 595.5 1035.7 595.3 1036.2 595.0 1036.4 594.9 1036.7 595.1 1037.2 595.2 1037.7 595.3 1038.2 594.4 1038.7 591.7 1039.0 590.9 1039.2 591.3 1039.7 593.8 1040.2 595.3 1040.7 595.2 1041.2 595.3 1041.7 595.4 1042.2 595.3 1042.7 594.8 1042.8 594.7 1043.2 595.0 1043.7 595.2 1044.2 595.2 1044.7 595.4 1045.2 593.6 1045.7 592.4 1046.2 593.6 1046.7 595.2 1047.0 596.2Z"/>
<path d="M102.7 692.5L102.7 685.7 102.7 691.6 103.2 691.8 103.7 687.7 104.2 685.4 104.7 687.7 105.2 691.8 105.7 691.5 106.2 691.8 106.7 691.4 106.8 691.3 107.2 691.5 107.7 691.6 108.2 691.7 108.7 691.7 109.2 689.4 109.7 686.3 109.9 685.7 110.2 686.7 110.7 690.2 111.2 691.6 111.7 690.8 112.2 689.7 112.3 689.7 112.7 690.4 113.2 691.7 113.7 691.8 114.2 690.7 114.7 686.1 115.1 684.2 115.2 684.4 115.7 687.8 116.2 691.8 116.7 691.5 117.2 690.8 117.7 691.5 118.2 691.7 118.7 690.6 119.2 685.6 119.6 683.5 119.7 683.8 120.2 687.4 120.7 691.8 121.2 691.6 121.7 691.6 122.2 691.6 122.7 688.0 123.2 675.9 123.6 670.8 123.7 671.4 124.2 680.2 124.7 691.6 125.2 691.5 125.7 691.6 126.2 689.7 126.7 688.4 126.7 688.4 127.2 689.8 127.7 691.6 128.2 690.5 128.7 689.2 128.8 689.1 129.2 689.9 129.7 691.4 130.2 689.8 130.5 689.3 130.7 689.6 131.2 691.0 131.7 689.4 132.2 687.9 132.7 689.4 133.2 691.7 133.7 691.6 134.2 690.8 134.6 690.3 134.7 690.4 135.2 691.3 135.7 691.7 136.2 691.8 136.7 691.8 137.2 691.1 137.7 681.1 138.2 675.6 138.7 681.1 139.2 691.3 139.7 691.8 140.2 691.8 140.7 691.6 141.2 691.6 141.7 690.6 142.2 688.7 142.4 688.4 142.7 689.0 143.2 691.1 143.7 691.7 144.2 691.4 144.7 690.5 144.9 690.4 145.2 690.8 145.7 691.6 146.2 691.7 146.7 689.8 147.1 689.0 147.2 689.1 147.7 690.5 148.2 691.7 148.7 691.7 149.2 691.8 149.7 691.7 150.2 691.6 150.7 690.1 151.2 683.6 151.6 680.9 151.7 681.2 152.2 685.9 152.7 691.7 153.2 691.6 153.7 691.6 154.2 691.7 154.7 688.2 155.2 685.1 155.3 684.9 155.7 686.7 156.2 690.9 156.7 691.7 157.2 691.8 157.7 691.6 158.2 691.0 158.4 690.9 158.7 691.1 159.2 691.7 159.7 690.0 160.2 683.3 160.6 680.5 160.7 680.9 161.2 685.7 161.7 691.8 162.2 685.7 162.7 680.9 162.8 680.5 163.2 683.3 163.7 690.0 164.2 691.7 164.7 691.5 165.2 691.6 165.7 689.9 166.2 686.1 166.5 684.9 166.7 685.5 167.2 689.0 167.7 691.7 168.2 691.8 168.7 691.6 169.2 691.6 169.7 690.2 170.1 689.6 170.2 689.7 170.7 690.9 171.2 691.7 171.7 688.7 172.2 682.9 172.5 681.2 172.7 682.1 173.2 687.3 173.7 691.6 174.2 691.6 174.7 691.8 175.2 691.7 175.7 684.9 176.2 681.2 176.7 684.9 177.2 691.6 177.7 691.3 178.2 691.8 178.7 691.6 179.2 688.4 179.7 684.2 179.9 683.5 180.2 684.9 180.7 689.5 181.2 691.6 181.7 691.8 182.2 691.6 182.7 691.6 183.2 690.7 183.4 690.5 183.7 690.8 184.2 691.6 184.7 691.8 185.2 682.9 185.7 673.2 185.9 671.5 186.2 674.7 186.7 685.4 187.2 691.6 187.7 691.5 188.2 690.6 188.4 690.5 188.7 690.8 189.2 688.3 189.7 681.9 190.0 680.0 190.2 681.0 190.7 686.8 191.2 691.7 191.7 691.7 192.2 691.3 192.7 690.4 192.8 690.3 193.2 690.8 193.7 691.8 194.2 691.6 194.7 691.1 194.9 690.9 195.2 691.1 195.7 691.6 196.2 691.7 196.7 690.9 197.1 690.9 197.2 691.0 197.7 691.6 198.2 691.6 198.7 687.8 199.2 684.4 199.3 684.2 199.7 686.1 200.2 690.7 200.7 691.8 201.2 691.2 201.7 689.7 202.0 689.4 202.2 689.7 202.7 691.2 203.2 691.6 203.7 691.6 204.2 691.8 204.7 691.6 205.2 691.1 205.7 689.0 206.0 688.4 206.2 688.7 206.7 690.6 207.2 691.6 207.7 691.8 208.2 691.8 208.7 691.8 209.2 691.7 209.7 691.7 210.2 687.0 210.7 681.5 210.9 680.5 211.2 682.3 211.7 688.4 212.2 690.9 212.7 691.6 213.2 691.1 213.7 679.7 214.2 673.5 214.7 679.7 215.2 691.1 215.7 689.6 216.1 688.7 216.2 688.9 216.7 690.4 217.2 691.7 217.7 690.9 218.2 687.9 218.6 686.8 218.7 687.0 219.2 689.5 219.7 687.3 220.2 673.4 220.6 667.5 220.7 668.2 221.2 678.3 221.7 691.7 222.2 690.9 222.7 691.6 223.2 691.6 223.7 689.8 224.2 682.5 224.6 679.4 224.7 679.8 225.2 685.0 225.7 691.4 226.2 691.7 226.7 691.1 227.2 691.8 227.7 683.4 228.2 677.0 228.3 676.5 228.7 680.3 229.2 689.2 229.7 690.3 230.2 687.9 230.4 687.4 230.7 688.1 231.2 690.7 231.7 691.7 232.2 691.7 232.7 670.1 233.2 635.9 233.5 625.7 233.7 631.2 234.2 662.0 234.7 677.3 235.2 662.0 235.4 659.2 235.7 664.3 236.2 681.3 236.7 691.6 237.2 691.4 237.7 691.2 238.2 685.9 238.7 683.3 238.7 683.4 239.2 686.8 239.7 690.6 240.2 687.5 240.5 686.5 240.7 686.9 241.2 689.6 241.7 691.7 242.2 683.8 242.7 675.0 242.9 673.4 243.2 676.3 243.7 686.1 244.2 691.7 244.7 691.7 245.2 681.4 245.7 670.1 245.9 668.1 246.2 671.8 246.7 684.3 247.2 691.8 247.7 675.9 248.2 659.2 248.4 656.2 248.7 661.7 249.2 680.3 249.7 691.8 250.2 690.2 250.7 684.1 251.1 681.5 251.2 681.8 251.7 686.2 252.2 691.6 252.7 691.7 253.2 691.6 253.7 691.8 254.2 689.2 254.7 685.9 254.9 685.4 255.2 686.5 255.7 690.1 256.2 691.7 256.7 691.8 257.2 674.4 257.7 661.6 257.8 660.7 258.2 668.2 258.7 685.9 259.2 686.8 259.7 678.2 260.0 675.6 260.2 677.0 260.7 684.8 261.2 691.7 261.7 691.8 262.2 687.0 262.7 678.8 263.0 676.3 263.2 677.6 263.7 685.1 264.2 691.5 264.7 683.6 265.2 679.3 265.7 683.6 266.2 691.5 266.7 691.6 267.2 691.7 267.7 691.8 268.2 691.7 268.7 677.0 269.2 661.3 269.4 658.5 269.7 663.7 270.2 681.1 270.7 691.7 271.2 691.7 271.7 689.4 272.2 663.1 272.7 648.8 273.2 663.1 273.7 689.4 274.2 691.2 274.7 691.8 275.2 691.8 275.7 688.5 276.2 684.5 276.4 683.8 276.7 685.1 277.2 689.6 277.7 691.8 278.2 691.7 278.7 691.8 279.2 691.1 279.7 687.5 280.1 686.0 280.2 686.2 280.7 688.8 281.2 691.6 281.7 691.7 282.2 691.8 282.7 691.8 283.2 691.8 283.7 691.7 284.2 691.7 284.7 691.7 285.2 690.6 285.7 685.5 286.1 683.3 286.2 683.6 286.7 687.3 287.2 691.8 287.7 691.7 288.2 687.3 288.7 683.6 288.8 683.3 289.2 685.5 289.7 690.6 290.2 691.8 290.7 691.8 291.2 691.8 291.7 691.9 292.2 691.8 292.7 688.5 293.2 682.6 293.5 680.8 293.7 681.8 294.2 687.1 294.7 691.8 295.2 691.8 295.7 691.8 296.2 691.7 296.7 685.4 297.2 680.5 297.3 680.1 297.7 683.0 298.2 689.9 298.7 691.8 299.2 691.6 299.7 691.9 300.2 690.3 300.7 687.0 301.0 686.0 301.2 686.5 301.7 689.5 302.2 691.9 302.7 691.8 303.2 691.9 303.7 691.8 304.2 691.8 304.7 687.1 305.2 681.8 305.4 680.8 305.7 682.6 306.2 688.5 306.7 691.7 307.2 689.9 307.6 689.2 307.7 689.3 308.2 690.6 308.7 691.8 309.2 685.1 309.7 677.6 309.9 676.3 310.2 678.8 310.7 687.0 311.2 691.7 311.7 691.8 312.2 691.9 312.7 690.8 313.2 686.4 313.6 684.5 313.7 684.7 314.2 687.9 314.7 691.9 315.2 691.9 315.7 691.7 316.2 689.3 316.7 680.7 317.1 677.1 317.2 677.6 317.7 683.7 318.2 691.8 318.7 691.8 319.2 691.7 319.7 691.8 320.2 691.7 320.7 690.9 321.0 690.5 321.2 690.7 321.7 691.5 322.2 684.8 322.7 677.0 322.9 675.6 323.2 678.2 323.7 686.8 324.2 691.7 324.7 691.8 325.2 691.8 325.7 691.0 326.0 690.7 326.2 690.9 326.7 691.7 327.2 691.0 327.7 691.9 328.2 691.8 328.7 691.3 329.2 690.6 329.3 690.5 329.7 691.0 330.2 691.7 330.7 691.8 331.2 691.8 331.7 691.7 332.2 690.4 332.6 689.8 332.7 689.8 333.2 690.9 333.7 691.8 334.2 691.7 334.7 688.4 335.2 682.2 335.5 680.4 335.7 681.4 336.2 687.0 336.7 690.9 337.2 690.1 337.7 690.9 338.2 691.9 338.7 691.8 339.2 691.8 339.7 691.8 340.2 689.9 340.7 687.3 340.9 686.8 341.2 687.7 341.7 690.6 342.2 691.9 342.7 691.8 343.2 691.9 343.7 691.7 344.2 691.7 344.7 691.7 345.1 691.4 345.2 691.4 345.7 691.8 346.2 691.8 346.7 690.1 347.2 686.4 347.5 685.3 347.7 685.9 348.2 689.2 348.7 690.8 349.0 690.4 349.2 690.5 349.7 691.4 350.2 691.8 350.7 691.8 351.2 691.6 351.5 691.4 351.7 691.4 352.2 691.8 352.7 690.3 353.1 689.7 353.2 689.8 353.7 690.9 354.2 691.8 354.7 691.7 355.2 691.8 355.7 691.7 356.2 690.5 356.7 689.1 356.8 689.0 357.2 689.8 357.7 691.7 358.2 691.4 358.7 690.5 358.8 690.4 359.2 690.8 359.7 691.9 360.2 691.9 360.7 688.8 361.2 686.2 361.3 686.0 361.7 687.5 362.2 691.1 362.7 691.8 363.2 691.8 363.7 691.7 364.2 689.3 364.7 684.4 365.0 683.0 365.2 683.8 365.7 688.1 366.2 691.9 366.7 691.6 367.1 691.3 367.2 691.3 367.7 691.7 368.2 691.9 368.7 690.1 369.2 686.4 369.5 685.3 369.7 685.9 370.2 689.2 370.7 691.9 371.2 691.5 371.7 691.8 372.2 691.8 372.7 688.1 373.2 686.0 373.7 688.1 374.2 691.9 374.7 691.9 375.2 691.8 375.7 691.9 376.2 691.8 376.7 691.8 377.2 690.0 377.7 683.5 378.1 680.8 378.2 681.1 378.7 685.8 379.2 691.9 379.7 691.4 380.2 691.8 380.7 689.9 381.2 687.3 381.4 686.8 381.7 687.7 382.2 690.6 382.7 691.8 383.2 691.4 383.7 689.9 384.0 689.5 384.2 689.8 384.7 691.2 385.2 691.8 385.7 691.7 386.2 690.7 386.7 689.2 386.9 689.0 387.2 689.6 387.7 691.5 388.2 691.7 388.7 681.7 389.2 670.9 389.4 668.9 389.7 672.5 390.2 684.6 390.7 691.3 391.2 691.9 391.7 691.0 392.2 690.2 392.2 690.2 392.7 690.8 393.2 691.9 393.7 691.8 394.2 691.7 394.7 691.1 395.2 687.3 395.6 685.7 395.7 685.9 396.2 688.6 396.7 691.9 397.2 691.8 397.7 691.8 398.2 691.5 398.7 689.3 399.1 688.5 399.2 688.6 399.7 690.3 400.2 691.9 400.7 691.9 401.2 691.7 401.7 682.3 402.2 675.0 402.3 674.5 402.7 678.7 403.2 688.7 403.7 691.8 404.2 691.7 404.7 691.8 405.2 691.8 405.7 691.8 406.2 688.0 406.7 684.8 406.8 684.6 407.2 686.4 407.7 690.8 408.2 691.8 408.7 691.7 409.2 691.1 409.5 690.8 409.7 690.9 410.2 691.7 410.7 691.8 411.2 691.9 411.7 691.8 412.2 691.8 412.7 684.4 413.2 672.0 413.5 668.3 413.7 670.3 414.2 681.4 414.7 691.8 415.2 691.9 415.7 691.9 416.2 691.9 416.7 691.0 417.1 690.5 417.2 690.5 417.7 691.2 418.2 691.9 418.7 691.4 419.2 689.2 419.7 687.0 419.8 686.8 420.2 688.1 420.7 691.3 421.2 690.2 421.7 688.9 421.8 688.9 422.2 689.9 422.7 691.9 423.2 690.1 423.7 688.4 423.8 688.2 424.2 689.2 424.7 691.5 425.2 691.9 425.7 686.1 426.2 676.3 426.5 673.4 426.7 675.0 427.2 683.8 427.7 691.9 428.2 690.3 428.7 688.3 428.9 688.0 429.2 688.8 429.7 691.1 430.2 691.8 430.7 691.8 431.2 690.8 431.5 690.5 431.7 690.6 432.2 691.5 432.7 691.8 433.2 691.9 433.7 691.3 434.2 684.2 434.7 680.1 435.2 684.2 435.7 691.6 436.2 691.7 436.7 691.9 437.2 691.4 437.7 690.9 437.8 690.8 438.2 691.3 438.7 691.9 439.2 691.9 439.7 687.4 440.2 683.8 440.3 683.5 440.7 685.6 441.2 690.6 441.7 691.9 442.2 691.8 442.7 691.4 442.9 691.6 443.2 691.7 443.7 691.9 444.2 691.3 444.5 691.1 444.7 691.2 445.2 691.8 445.7 691.9 446.2 690.9 446.7 688.6 447.0 687.9 447.2 688.3 447.7 690.4 448.2 691.9 448.7 691.9 449.2 691.9 449.7 691.6 449.9 691.5 450.2 691.6 450.7 691.9 451.2 691.9 451.7 691.9 452.2 691.8 452.7 691.2 453.0 691.0 453.2 691.2 453.7 691.8 454.2 691.8 454.7 691.9 455.2 689.8 455.7 685.8 456.0 684.6 456.2 685.3 456.7 688.9 457.2 691.8 457.7 692.0 458.2 691.5 458.7 690.7 458.8 690.6 459.2 691.0 459.7 691.8 460.2 691.1 460.7 690.2 460.8 690.1 461.2 690.7 461.7 691.9 462.2 692.0 462.7 691.8 463.2 691.9 463.7 689.1 464.2 683.9 464.5 682.3 464.7 683.1 465.2 687.8 465.7 692.0 466.2 691.9 466.7 691.2 467.2 689.8 467.4 689.5 467.7 689.9 468.2 691.3 468.7 687.1 469.2 681.8 469.4 680.8 469.7 682.6 470.2 688.5 470.7 692.0 471.2 691.9 471.7 690.1 472.1 689.4 472.2 689.4 472.7 690.6 473.2 691.4 473.7 691.9 474.2 691.0 474.5 690.7 474.7 690.8 475.2 691.6 475.7 690.8 476.2 689.8 476.2 689.8 476.7 690.5 477.2 691.9 477.7 691.8 478.2 691.9 478.7 691.1 479.2 689.9 479.4 689.7 479.7 690.2 480.2 691.6 480.7 691.1 481.2 679.7 481.7 673.4 482.2 679.7 482.7 691.1 483.2 691.9 483.7 691.9 484.2 690.1 484.6 689.3 484.7 689.4 485.2 690.6 485.7 691.9 486.2 689.2 486.7 687.0 486.8 686.8 487.2 688.1 487.7 691.3 488.2 691.8 488.7 691.3 489.2 691.4 489.7 690.8 489.7 690.8 490.2 691.3 490.7 691.9 491.2 692.0 491.7 691.2 492.1 690.9 492.2 691.0 492.7 691.7 493.2 691.8 493.7 692.0 494.2 691.9 494.7 691.8 495.2 690.9 495.5 690.6 495.7 690.8 496.2 691.6 496.7 689.9 497.2 688.0 497.3 687.9 497.7 689.0 498.2 691.5 498.7 691.8 499.2 691.4 499.7 691.4 500.2 690.9 500.2 690.9 500.7 691.5 501.2 691.9 501.7 691.9 502.2 691.4 502.7 691.4 503.2 690.7 503.3 690.7 503.7 691.1 504.2 691.9 504.7 691.5 505.2 691.9 505.7 692.0 506.2 691.9 506.7 688.4 507.2 684.2 507.4 683.5 507.7 684.9 508.2 689.5 508.7 691.9 509.2 691.9 509.7 691.9 510.2 691.8 510.7 691.8 511.2 691.2 511.7 690.3 511.8 690.2 512.2 690.7 512.7 691.9 513.2 691.9 513.7 691.7 514.2 691.1 514.3 691.0 514.7 691.3 515.2 691.9 515.7 691.9 516.2 691.9 516.7 691.4 516.8 691.4 517.2 691.6 517.7 691.9 518.2 691.8 518.7 691.9 519.2 691.9 519.7 687.6 520.2 684.2 520.3 683.9 520.7 685.9 521.2 690.7 521.7 691.8 522.2 690.9 522.5 690.6 522.7 690.8 523.2 691.7 523.7 691.9 524.2 691.4 524.7 691.0 524.7 691.0 525.2 691.5 525.7 691.9 526.2 691.9 526.7 691.5 526.9 691.4 527.2 691.6 527.7 691.8 528.2 692.0 528.7 691.9 529.2 692.0 529.7 691.4 530.2 690.8 530.2 690.8 530.7 691.3 531.2 692.0 531.7 691.5 532.0 691.3 532.2 691.4 532.7 691.9 533.2 691.9 533.7 691.5 534.2 692.0 534.7 691.8 535.2 690.9 535.5 690.7 535.7 690.8 536.2 691.7 536.7 691.8 537.2 691.9 537.7 691.9 538.2 691.4 538.4 691.3 538.7 691.5 539.2 691.9 539.7 692.0 540.2 691.9 540.7 688.3 541.2 685.4 541.3 685.2 541.7 686.9 542.2 691.0 542.7 691.8 543.2 691.9 543.7 691.9 544.2 692.0 544.7 691.4 545.2 691.5 545.3 691.4 545.7 691.7 546.2 691.8 546.7 692.0 547.2 691.4 547.7 690.8 547.8 690.8 548.2 691.2 548.7 691.6 549.2 691.9 549.7 691.7 549.8 691.6 550.2 691.8 550.7 692.0 551.2 692.0 551.7 691.9 552.2 692.0 552.7 688.7 553.2 686.8 553.7 688.7 554.2 692.0 554.7 692.0 555.2 691.9 555.7 691.9 556.2 691.9 556.7 691.6 557.2 692.0 557.7 688.0 558.2 684.8 558.3 684.6 558.7 686.4 559.2 690.8 559.7 691.9 560.2 691.9 560.7 692.0 561.2 691.8 561.7 691.2 561.9 691.1 562.2 691.3 562.7 692.0 563.2 691.4 563.7 689.4 564.2 686.3 564.4 685.7 564.7 686.7 565.2 690.2 565.7 691.0 566.0 690.7 566.2 690.8 566.7 691.6 567.2 691.6 567.7 692.0 568.2 692.0 568.7 691.5 569.1 691.2 569.2 691.3 569.7 691.8 570.2 691.1 570.7 689.0 571.0 688.4 571.2 688.7 571.7 690.6 572.2 692.0 572.7 692.0 573.2 691.9 573.7 691.9 574.2 691.7 574.5 691.5 574.7 691.6 575.2 692.0 575.7 691.5 576.2 689.0 576.6 687.9 576.7 688.0 577.2 689.9 577.7 691.8 578.2 690.8 578.5 690.5 578.7 690.7 579.2 691.6 579.7 691.9 580.2 692.0 580.7 692.0 581.2 691.7 581.4 691.6 581.7 691.7 582.2 691.1 582.7 690.1 582.8 690.0 583.2 690.6 583.7 691.9 584.2 692.0 584.7 692.0 585.2 688.8 585.7 683.3 586.0 681.7 586.2 682.6 586.7 687.6 587.2 692.0 587.7 692.0 588.2 691.8 588.7 691.1 588.9 690.9 589.2 691.1 589.7 691.9 590.2 691.9 590.7 691.9 591.2 691.7 591.5 691.5 591.7 691.6 592.2 691.9 592.7 691.9 593.2 691.8 593.5 691.7 593.7 691.7 594.2 691.9 594.7 692.0 595.2 691.7 595.7 691.3 595.7 691.3 596.2 691.7 596.7 691.9 597.2 692.0 597.7 691.9 598.2 692.0 598.7 691.9 599.2 691.4 599.7 688.7 600.1 687.5 600.2 687.6 600.7 689.6 601.2 692.0 601.7 691.9 602.2 691.9 602.7 691.4 603.0 691.2 603.2 691.3 603.7 691.9 604.2 691.9 604.7 692.0 605.2 690.1 605.7 689.0 606.2 690.1 606.7 691.9 607.2 691.7 607.7 691.3 607.7 691.3 608.2 691.7 608.7 691.9 609.2 691.5 609.7 691.0 609.7 691.0 610.2 691.5 610.7 691.6 611.2 691.9 611.7 692.0 612.2 691.7 612.6 691.4 612.7 691.4 613.2 691.9 613.7 691.7 614.2 689.8 614.6 689.0 614.7 689.1 615.2 690.5 615.7 691.9 616.2 692.0 616.7 692.0 617.2 691.5 617.7 691.3 617.7 691.3 618.2 691.7 618.7 691.7 619.2 691.7 619.7 691.1 619.8 691.1 620.2 691.4 620.7 691.6 621.2 692.0 621.7 691.8 622.2 691.2 622.4 691.1 622.7 691.3 623.2 691.9 623.7 692.0 624.2 691.8 624.2 691.8 624.7 691.7 625.2 692.0 625.7 692.1 626.2 691.5 626.7 691.1 626.7 691.1 627.2 691.5 627.7 691.9 628.2 692.0 628.7 691.8 629.0 691.7 629.2 691.7 629.7 692.1 630.2 691.9 630.7 691.9 631.2 691.9 631.7 689.2 632.2 687.0 632.3 686.8 632.7 688.1 633.2 691.3 633.7 692.0 634.2 692.0 634.7 692.0 635.2 691.9 635.7 691.4 636.2 690.9 636.2 690.9 636.7 691.5 637.2 692.0 637.7 692.0 638.2 692.0 638.7 691.8 639.0 691.7 639.2 691.7 639.7 691.9 640.2 691.9 640.7 692.0 641.2 691.2 641.6 690.9 641.7 691.0 642.2 691.6 642.7 692.0 643.2 692.0 643.7 691.5 644.2 689.0 644.6 687.9 644.7 688.0 645.2 689.9 645.7 692.0 646.2 692.0 646.7 691.8 646.9 691.7 647.2 691.8 647.7 692.0 648.2 691.9 648.7 692.0 649.2 691.7 649.7 691.3 649.7 691.3 650.2 691.6 650.7 692.0 651.2 691.9 651.7 691.9 652.2 691.7 652.2 691.7 652.7 691.6 653.2 692.0 653.7 692.0 654.2 692.0 654.7 691.5 655.0 691.4 655.2 691.4 655.7 691.9 656.2 692.0 656.7 692.0 657.2 692.0 657.7 692.0 658.2 691.9 658.7 690.1 659.2 689.0 659.7 690.1 660.2 691.8 660.7 692.1 661.2 691.9 661.7 692.0 662.2 691.7 662.7 691.3 663.2 691.7 663.7 691.9 664.1 691.7 664.2 691.7 664.7 692.0 665.2 692.0 665.7 692.0 666.2 692.0 666.7 692.0 667.2 691.6 667.7 691.2 667.7 691.2 668.2 691.7 668.7 692.0 669.2 691.8 669.6 691.8 669.7 691.9 670.2 691.8 670.7 691.9 671.2 692.0 671.7 692.0 672.2 691.5 672.6 691.1 672.7 691.1 673.2 691.7 673.7 692.0 674.2 689.9 674.7 688.0 674.8 687.9 675.2 689.0 675.7 691.5 676.2 692.1 676.7 691.5 677.0 691.4 677.2 691.5 677.7 692.0 678.2 692.0 678.7 691.9 679.2 691.6 679.3 691.6 679.7 691.8 680.2 692.0 680.7 692.0 681.2 691.9 681.4 691.8 681.7 691.9 682.2 692.0 682.7 692.0 683.2 692.0 683.7 691.8 684.1 691.6 684.2 691.6 684.7 691.9 685.2 692.0 685.7 692.1 686.2 691.7 686.7 689.8 687.1 689.0 687.2 689.1 687.7 690.5 688.2 692.0 688.7 692.0 689.2 691.7 689.2 691.7 689.7 691.9 690.2 691.9 690.7 691.7 690.8 691.6 691.2 691.9 691.7 692.0 692.2 692.0 692.7 692.0 693.2 691.7 693.2 691.7 693.7 692.0 694.2 692.0 694.7 691.7 695.2 691.6 695.2 691.6 695.7 691.8 696.2 692.0 696.7 691.7 697.2 691.3 697.3 691.3 697.7 691.6 698.2 692.0 698.7 690.9 699.2 689.3 699.4 689.0 699.7 689.5 700.2 691.3 700.7 692.0 701.2 691.9 701.7 691.3 702.0 691.1 702.2 691.3 702.7 691.9 703.2 691.7 703.7 691.1 703.8 691.1 704.2 691.4 704.7 692.0 705.2 692.0 705.7 692.0 706.2 692.1 706.7 691.7 707.2 691.4 707.2 691.4 707.7 691.8 708.2 691.4 708.6 691.0 708.7 691.0 709.2 691.5 709.7 692.0 710.2 691.7 710.7 692.0 711.2 691.4 711.5 691.2 711.7 691.3 712.2 691.9 712.7 692.0 713.2 692.1 713.7 691.8 714.2 690.7 714.5 690.4 714.7 690.5 715.2 691.5 715.7 692.0 716.2 688.0 716.7 684.8 716.8 684.6 717.2 686.4 717.7 690.8 718.2 692.1 718.7 692.0 719.2 690.8 719.6 690.2 719.7 690.3 720.2 691.1 720.7 692.0 721.2 691.7 721.7 691.1 721.8 691.0 722.2 691.3 722.7 692.0 723.2 690.9 723.7 688.6 724.0 687.9 724.2 688.3 724.7 690.4 725.2 692.0 725.7 692.0 726.2 692.0 726.7 691.7 727.2 691.3 727.3 691.3 727.7 691.6 728.2 692.1 728.7 692.0 729.2 691.9 729.7 691.5 729.8 691.5 730.2 691.7 730.7 691.7 731.2 692.1 731.7 692.1 732.2 690.9 732.7 689.3 732.9 689.0 733.2 689.5 733.7 691.3 734.2 692.0 734.7 692.1 735.2 692.0 735.7 692.0 736.2 691.8 736.3 691.7 736.7 691.8 737.2 692.0 737.7 691.4 738.0 691.2 738.2 691.4 738.7 692.0 739.2 692.0 739.7 691.8 740.2 691.3 740.3 691.2 740.7 691.5 741.2 692.1 741.7 692.0 742.2 691.8 742.7 691.3 742.8 691.3 743.2 691.6 743.7 692.0 744.2 692.1 744.7 691.6 745.0 691.5 745.2 691.6 745.7 692.0 746.2 692.0 746.7 691.8 747.0 691.7 747.2 691.8 747.7 692.0 748.2 692.1 748.7 692.0 749.2 692.0 749.7 691.7 749.9 691.6 750.2 691.8 750.7 691.8 751.2 692.0 751.5 691.9 751.7 691.9 752.2 692.0 752.7 691.9 753.2 692.0 753.7 692.0 754.2 692.1 754.7 690.1 755.2 688.5 755.3 688.4 755.7 689.4 756.2 691.6 756.7 691.9 757.2 692.1 757.7 691.4 758.2 691.0 758.2 691.0 758.7 691.5 759.2 691.9 759.7 691.1 760.0 690.9 760.2 691.1 760.7 691.8 761.2 692.0 761.7 692.0 762.2 692.0 762.7 692.1 763.2 692.0 763.7 687.9 764.2 685.7 764.7 687.9 765.2 692.0 765.7 692.1 766.2 692.0 766.7 692.0 767.2 692.0 767.7 692.0 768.2 691.9 768.3 691.9 768.7 692.0 769.2 692.0 769.7 692.1 770.2 690.4 770.7 688.3 770.9 687.9 771.2 688.6 771.7 690.9 772.2 691.7 772.7 691.3 772.7 691.3 773.2 691.6 773.7 692.0 774.2 692.0 774.7 692.1 775.2 691.4 775.6 691.1 775.7 691.2 776.2 691.7 776.7 692.0 777.2 692.1 777.7 691.9 778.2 692.0 778.7 692.0 779.2 691.8 779.2 691.8 779.7 692.0 780.2 691.6 780.7 691.1 780.7 691.1 781.2 691.5 781.7 692.1 782.2 691.8 782.7 691.6 783.1 691.3 783.2 691.3 783.7 691.7 784.2 692.1 784.7 690.4 785.2 688.3 785.4 687.9 785.7 688.6 786.2 690.9 786.7 692.1 787.2 692.0 787.7 692.0 788.2 692.1 788.7 692.0 789.2 691.6 789.6 691.3 789.7 691.3 790.2 691.8 790.7 692.1 791.2 692.1 791.7 691.2 792.1 690.9 792.2 691.0 792.7 691.6 793.2 691.6 793.5 691.5 793.7 691.6 794.2 692.0 794.7 689.8 795.2 685.8 795.5 684.6 795.7 685.3 796.2 688.9 796.7 692.0 797.2 691.4 797.7 690.9 797.7 690.8 798.2 691.3 798.7 692.1 799.2 692.0 799.7 692.1 800.2 692.1 800.7 692.1 801.2 692.1 801.7 689.1 802.2 687.5 802.7 689.1 803.2 692.1 803.7 692.1 804.2 692.1 804.7 692.1 805.2 692.0 805.7 691.8 806.2 691.3 806.4 691.2 806.7 691.5 807.2 692.0 807.7 692.1 808.2 692.1 808.7 691.7 809.2 691.2 809.3 691.2 809.7 691.5 810.2 692.1 810.7 691.8 810.8 691.8 811.2 691.9 811.7 692.0 812.2 692.0 812.7 691.9 813.2 691.7 813.2 691.7 813.7 691.9 814.2 692.1 814.7 692.0 815.2 690.7 815.6 690.2 815.7 690.3 816.2 691.2 816.7 692.1 817.2 692.1 817.7 692.1 818.2 691.9 818.7 691.9 819.0 691.8 819.2 691.8 819.7 692.1 820.2 692.1 820.7 692.1 821.2 692.0 821.6 691.9 821.7 691.9 822.2 692.1 822.7 691.8 823.2 692.1 823.7 691.9 824.2 692.0 824.4 692.0 824.7 692.1 825.2 692.1 825.7 692.0 826.0 691.9 826.2 692.0 826.7 692.1 827.2 692.2 827.7 692.0 828.2 692.0 828.5 691.9 828.7 691.9 829.2 692.0 829.7 692.1 830.2 692.1 830.7 692.1 831.2 691.8 831.3 691.8 831.7 692.0 832.2 692.2 832.7 692.1 833.2 691.5 833.5 691.3 833.7 691.4 834.2 691.9 834.7 692.1 835.2 692.0 835.7 692.2 836.2 692.0 836.3 692.0 836.7 692.1 837.2 692.1 837.7 692.0 837.8 692.0 838.2 692.1 838.7 692.1 839.2 692.1 839.7 692.1 840.2 692.1 840.7 692.1 841.0 692.0 841.2 692.0 841.7 692.1 842.2 692.1 842.7 692.2 843.2 692.1 843.7 691.9 843.8 691.9 844.2 692.1 844.7 692.1 845.2 691.9 845.7 692.1 846.2 691.9 846.7 691.4 846.9 691.3 847.2 691.5 847.7 692.1 848.2 692.1 848.7 692.2 849.2 692.1 849.7 692.2 850.2 692.0 850.3 692.0 850.7 692.1 851.2 691.9 851.7 692.1 852.2 692.1 852.7 692.1 853.2 691.9 853.4 691.9 853.7 692.0 854.2 692.2 854.7 692.1 855.2 692.0 855.6 691.9 855.7 692.0 856.2 691.9 856.7 692.1 857.2 692.1 857.7 691.6 858.0 691.4 858.2 691.5 858.7 691.9 859.2 692.2 859.7 691.7 860.1 691.5 860.2 691.5 860.7 691.9 861.2 692.1 861.7 692.1 862.2 691.9 862.2 691.9 862.7 692.1 863.2 692.2 863.7 692.1 864.2 692.1 864.7 691.5 865.1 691.2 865.2 691.2 865.7 691.7 866.2 691.8 866.7 691.6 866.7 691.6 867.2 691.9 867.7 692.2 868.2 692.1 868.7 692.1 869.2 692.1 869.7 692.2 870.2 692.2 870.7 689.5 871.2 687.4 871.3 687.2 871.7 688.4 872.2 691.4 872.7 692.0 873.2 691.5 873.4 691.4 873.7 691.6 874.2 692.1 874.7 692.1 875.2 692.0 875.7 691.8 876.2 691.4 876.2 691.4 876.7 691.7 877.2 692.1 877.7 692.1 878.2 692.1 878.7 691.7 879.1 691.4 879.2 691.4 879.7 691.8 880.2 692.0 880.7 690.7 881.1 690.1 881.2 690.2 881.7 691.1 882.2 692.0 882.7 691.4 883.0 691.3 883.2 691.4 883.7 692.0 884.2 692.1 884.7 692.1 885.2 692.2 885.7 692.1 885.9 692.0 886.2 692.1 886.7 692.1 887.2 692.1 887.7 692.2 888.2 692.0 888.6 691.9 888.7 691.9 889.2 692.2 889.7 692.1 890.2 692.1 890.7 692.0 890.8 692.0 891.2 692.1 891.7 692.1 892.2 692.1 892.7 692.1 893.2 691.9 893.7 691.6 893.7 691.5 894.2 691.8 894.7 692.1 895.2 692.0 895.7 691.5 895.9 691.4 896.2 691.6 896.7 692.1 897.2 692.1 897.7 691.5 898.0 691.2 898.2 691.3 898.7 691.8 899.2 692.2 899.7 691.8 900.2 691.4 900.2 691.4 900.7 691.8 901.2 692.2 901.7 692.0 902.2 691.9 902.2 691.9 902.7 692.1 903.2 692.2 903.7 692.0 904.0 692.0 904.2 692.0 904.7 692.1 905.2 692.2 905.7 692.2 906.2 691.9 906.7 691.7 906.7 691.7 907.2 691.9 907.7 692.1 908.2 692.2 908.7 690.5 909.2 688.6 909.4 688.2 909.7 688.8 910.2 691.0 910.7 692.1 911.2 692.1 911.7 690.5 912.2 688.6 912.4 688.2 912.7 688.8 913.2 691.0 913.7 692.2 914.2 692.2 914.7 691.7 915.1 691.5 915.2 691.5 915.7 691.9 916.2 692.2 916.7 692.1 917.2 691.7 917.7 691.3 917.7 691.3 918.2 691.6 918.7 692.1 919.2 692.1 919.7 692.1 920.2 692.2 920.7 692.0 921.2 691.8 921.2 691.8 921.7 692.0 922.2 692.2 922.7 692.1 923.2 691.6 923.7 689.4 924.1 688.5 924.2 688.6 924.7 690.2 925.2 692.0 925.7 691.6 925.9 691.5 926.2 691.6 926.7 692.1 927.2 692.1 927.7 692.1 928.2 691.0 928.7 688.8 929.0 688.2 929.2 688.6 929.7 690.5 930.2 692.2 930.7 692.2 931.2 692.1 931.7 692.0 931.9 692.0 932.2 692.1 932.7 692.1 933.2 692.1 933.7 692.2 934.2 692.0 934.7 691.7 934.8 691.7 935.2 691.9 935.7 692.2 936.2 692.1 936.7 691.6 937.0 691.4 937.2 691.5 937.7 692.0 938.2 692.2 938.7 691.8 939.0 691.6 939.2 691.7 939.7 692.0 940.2 692.2 940.7 692.2 941.2 692.2 941.7 692.1 941.8 692.1 942.2 692.1 942.7 692.2 943.2 692.2 943.7 692.1 944.2 691.8 944.3 691.8 944.7 691.9 945.2 692.2 945.7 692.1 946.2 692.1 946.7 691.8 946.8 691.8 947.2 692.0 947.7 692.2 948.2 692.2 948.7 691.8 949.2 691.5 949.2 691.5 949.7 691.8 950.2 692.2 950.7 691.3 951.2 689.6 951.5 689.1 951.7 689.4 952.2 690.9 952.7 692.2 953.2 692.1 953.7 691.7 953.9 691.7 954.2 691.8 954.7 692.2 955.2 692.2 955.7 692.1 955.9 692.1 956.2 692.1 956.7 692.1 957.2 692.2 957.7 692.2 958.2 692.0 958.7 691.4 959.0 691.3 959.2 691.4 959.7 692.0 960.2 692.1 960.7 691.4 961.1 691.2 961.2 691.2 961.7 691.8 962.2 692.2 962.7 692.2 963.2 692.2 963.7 691.6 964.2 691.1 964.2 691.1 964.7 691.5 965.2 692.2 965.7 692.2 966.2 692.2 966.7 692.2 967.2 691.4 967.7 688.4 968.1 687.2 968.2 687.4 968.7 689.5 969.2 692.2 969.7 691.9 970.2 692.2 970.7 692.2 971.2 691.8 971.7 691.5 971.7 691.5 972.2 691.8 972.7 692.2 973.2 692.2 973.7 691.9 974.2 691.8 974.2 691.8 974.7 692.0 975.2 692.2 975.7 692.2 976.2 690.1 976.7 687.6 976.9 687.2 977.2 688.0 977.7 690.7 978.2 691.8 978.4 691.7 978.7 691.8 979.2 692.2 979.7 692.2 980.2 692.0 980.7 691.1 981.0 690.8 981.2 690.9 981.7 691.6 982.2 692.0 982.7 691.0 983.1 690.6 983.2 690.7 983.7 691.4 984.2 691.2 984.7 687.7 985.1 686.2 985.2 686.4 985.7 688.9 986.2 692.2 986.7 692.2 987.2 691.8 987.7 690.8 988.0 690.5 988.2 690.7 988.7 691.5 989.2 692.2 989.7 692.2 990.2 692.2 990.7 689.6 991.2 685.2 991.5 683.9 991.7 684.6 992.2 688.6 992.7 692.2 993.2 692.2 993.7 690.7 994.2 688.0 994.5 687.2 994.7 687.6 995.2 690.1 995.7 692.2 996.2 692.2 996.7 692.0 997.2 691.4 997.5 691.2 997.7 691.3 998.2 691.9 998.7 692.2 999.2 692.2 999.7 692.2 1000.2 692.0 1000.6 691.9 1000.7 691.9 1001.2 692.1 1001.7 692.2 1002.2 692.2 1002.7 692.2 1003.2 692.2 1003.7 688.7 1004.2 686.0 1004.3 685.8 1004.7 687.4 1005.2 691.1 1005.7 692.2 1006.2 692.2 1006.7 692.2 1007.2 692.2 1007.7 692.2 1008.2 692.2 1008.7 692.2 1009.2 692.0 1009.7 690.7 1010.1 690.1 1010.2 690.2 1010.7 691.1 1011.2 692.2 1011.7 692.2 1012.2 692.0 1012.7 692.2 1013.2 692.3 1013.7 692.0 1014.1 691.9 1014.2 691.9 1014.7 692.1 1015.2 692.2 1015.7 692.2 1016.2 692.1 1016.2 692.1 1016.7 692.2 1017.2 692.2 1017.7 692.2 1018.0 692.1 1018.2 692.1 1018.7 692.2 1019.2 692.2 1019.7 692.3 1020.2 692.2 1020.6 692.1 1020.7 692.1 1021.2 692.2 1021.7 692.2 1022.2 692.1 1022.7 691.8 1022.9 691.8 1023.2 691.9 1023.7 692.1 1024.2 692.3 1024.7 692.0 1025.2 691.7 1025.2 691.7 1025.7 691.9 1026.2 692.2 1026.7 692.2 1027.2 690.9 1027.7 690.1 1028.2 690.9 1028.7 692.2 1029.2 692.2 1029.7 692.2 1030.2 692.0 1030.5 691.9 1030.7 692.0 1031.2 692.2 1031.7 692.2 1032.2 692.2 1032.7 692.2 1033.2 692.0 1033.4 692.0 1033.7 692.1 1034.2 692.2 1034.7 692.2 1035.2 692.2 1035.7 692.1 1035.9 692.0 1036.2 692.1 1036.7 692.2 1037.2 692.3 1037.7 692.2 1038.2 692.0 1038.4 692.0 1038.7 692.1 1039.2 692.2 1039.7 692.0 1040.2 691.8 1040.7 692.0 1041.2 692.2 1041.7 690.9 1042.2 689.4 1042.4 689.1 1042.7 689.6 1043.2 691.3 1043.7 692.3 1044.2 692.2 1044.7 692.0 1045.2 691.5 1045.4 691.5 1045.7 691.6 1046.2 692.1 1046.7 692.2 1047.0 692.5Z"/>
<path d="M133.2 788.7L133.2 785.6 133.2 786.9 133.7 782.3 134.2 777.7 134.3 777.4 134.7 780.1 135.2 786.4 135.7 786.6 136.2 786.9 136.7 786.9 137.2 781.1 137.7 777.4 138.2 781.1 138.7 786.6 139.2 786.4 139.7 787.0 140.2 786.6 140.7 786.8 141.2 779.1 141.7 774.4 142.2 779.1 142.7 786.5 143.2 786.5 143.7 787.0 144.2 786.7 144.7 786.7 145.2 786.6 145.7 768.4 146.2 758.5 146.7 768.4 147.2 786.6 147.7 787.0 148.2 784.2 148.7 780.7 148.8 780.3 149.2 782.1 149.7 786.1 150.2 784.2 150.3 784.1 150.7 785.2 151.2 786.7 151.7 786.7 152.2 786.7 152.7 786.5 153.2 786.4 153.7 786.6 154.2 782.7 154.7 778.4 154.8 778.1 155.2 780.6 155.7 786.5 156.2 785.9 156.7 778.3 157.1 775.1 157.2 775.5 157.7 781.0 158.2 787.0 158.7 780.5 159.2 758.4 159.6 749.1 159.7 750.3 160.2 766.2 160.7 786.7 161.2 786.4 161.7 782.4 162.2 765.2 162.6 758.0 162.7 758.9 163.2 771.3 163.7 785.7 164.2 781.0 164.5 779.6 164.7 780.4 165.2 784.6 165.7 786.3 166.2 781.6 166.6 779.8 166.7 780.3 167.2 784.1 167.7 786.7 168.2 786.8 168.7 780.1 169.2 771.5 169.4 769.9 169.7 772.8 170.2 782.4 170.7 786.6 171.2 787.0 171.7 787.0 172.2 769.9 172.7 741.3 173.0 732.7 173.2 737.4 173.7 763.2 174.2 786.9 174.7 786.6 175.2 769.6 175.7 760.2 176.2 769.6 176.7 786.7 177.2 780.5 177.7 772.2 177.9 770.7 178.2 773.4 178.7 782.7 179.2 786.5 179.7 786.7 180.2 786.9 180.7 786.5 181.2 784.6 181.6 783.3 181.7 783.5 182.2 785.6 182.7 786.5 183.2 786.8 183.7 787.0 184.2 786.8 184.7 786.5 185.2 778.5 185.7 751.0 186.1 739.4 186.2 740.8 186.7 760.7 187.2 786.7 187.7 786.6 188.2 786.8 188.7 781.7 189.1 779.6 189.2 779.9 189.7 783.5 190.2 786.6 190.7 786.0 191.2 780.9 191.5 779.2 191.7 779.7 192.2 783.9 192.7 786.6 193.2 781.7 193.6 779.6 193.7 779.9 194.2 783.5 194.7 786.8 195.2 786.8 195.7 782.1 196.2 778.9 196.7 782.1 197.2 786.9 197.7 786.5 198.2 786.6 198.7 769.4 199.2 740.0 199.5 731.2 199.7 736.0 200.2 762.5 200.7 786.8 201.2 786.7 201.7 785.8 202.2 781.5 202.5 780.2 202.7 780.9 203.2 784.9 203.7 787.1 204.2 786.5 204.7 777.1 205.2 771.4 205.7 777.1 206.2 786.8 206.7 786.5 207.2 786.7 207.7 786.5 208.2 786.7 208.7 777.1 209.2 771.4 209.7 777.1 210.2 786.7 210.7 786.6 211.2 786.5 211.7 775.4 212.2 755.1 212.5 749.1 212.7 752.4 213.2 770.7 213.7 787.1 214.2 786.6 214.7 787.0 215.2 786.2 215.7 782.2 216.0 780.9 216.2 781.4 216.7 785.0 217.2 786.5 217.7 787.1 218.2 785.9 218.7 783.1 218.9 782.6 219.2 783.5 219.7 786.5 220.2 786.8 220.7 786.6 221.2 785.2 221.7 781.7 221.9 781.1 222.2 782.3 222.7 786.2 223.2 786.9 223.7 787.0 224.2 787.0 224.7 783.1 225.2 767.8 225.6 761.4 225.7 762.2 226.2 773.2 226.7 786.9 227.2 785.8 227.7 786.9 228.2 786.9 228.7 784.9 229.1 783.9 229.2 784.1 229.7 786.1 230.2 786.8 230.7 785.7 231.2 781.0 231.5 779.6 231.7 780.4 232.2 784.6 232.7 786.5 233.2 786.7 233.7 786.6 234.2 784.6 234.5 783.7 234.7 784.0 235.2 786.2 235.7 786.6 236.2 777.8 236.7 770.1 236.8 769.5 237.2 774.0 237.7 784.7 238.2 786.8 238.7 787.0 239.2 787.2 239.7 786.7 240.2 785.2 240.3 785.0 240.7 785.3 241.2 786.8 241.7 787.0 242.2 787.0 242.7 786.7 243.2 784.1 243.5 783.3 243.7 783.7 244.2 786.2 244.7 786.9 245.2 786.6 245.7 787.1 246.2 785.2 246.7 782.6 247.2 779.6 247.7 782.6 248.2 787.0 248.7 780.1 249.2 771.5 249.4 769.9 249.7 772.8 250.2 782.4 250.7 787.0 251.2 786.6 251.7 784.6 251.9 784.2 252.2 785.0 252.7 786.8 253.2 787.1 253.7 786.8 254.2 782.4 254.6 780.4 254.7 780.6 255.2 784.0 255.7 787.2 256.2 786.6 256.7 786.9 257.2 780.5 257.7 772.2 257.9 770.7 258.2 773.4 258.7 782.7 259.2 786.8 259.7 787.0 260.2 787.1 260.7 786.6 261.2 787.1 261.7 786.7 262.2 784.8 262.7 782.0 262.8 781.8 263.2 783.4 263.7 787.1 264.2 787.1 264.7 786.9 265.2 786.8 265.7 786.2 266.1 785.5 266.2 785.5 266.7 786.8 267.2 787.2 267.7 786.9 268.2 787.2 268.7 786.7 268.9 785.1 269.2 786.7 269.7 786.7 270.2 783.1 270.7 774.5 271.0 771.9 271.2 773.3 271.7 781.0 272.2 786.2 272.7 783.6 272.9 783.1 273.2 784.0 273.7 786.8 274.2 786.8 274.7 786.9 275.2 785.4 275.5 784.8 275.7 785.0 276.2 786.8 276.7 786.9 277.2 785.1 277.7 783.6 277.7 783.7 278.2 785.5 278.7 787.0 279.2 785.7 279.7 781.0 280.0 779.6 280.2 780.4 280.7 784.6 281.2 785.3 281.7 782.6 281.8 782.3 282.2 783.6 282.7 787.0 283.2 787.0 283.7 779.8 284.2 770.8 284.4 769.2 284.7 772.2 285.2 782.2 285.7 786.8 286.2 784.4 286.7 772.6 287.1 767.7 287.2 768.3 287.3 768.4 287.7 773.2 288.2 784.5 288.7 786.8 289.2 784.7 289.7 782.5 289.7 782.5 290.2 784.4 290.7 787.2 291.2 786.9 291.7 786.9 292.2 787.1 292.7 783.6 293.2 781.1 293.7 783.6 294.2 785.5 294.7 786.8 295.2 787.2 295.7 787.1 296.2 787.3 296.7 787.0 297.2 773.8 297.7 766.5 298.2 773.8 298.7 787.0 299.2 784.5 299.7 773.2 300.1 768.4 300.2 769.0 300.7 777.2 301.2 786.9 301.7 787.2 302.2 784.0 302.6 782.2 302.7 782.3 303.2 784.7 303.7 787.2 304.2 787.3 304.7 786.0 304.9 785.7 305.2 786.1 305.7 787.2 306.2 787.2 306.7 786.9 307.2 785.8 307.7 786.8 308.2 781.7 308.6 779.6 308.7 779.9 309.2 783.5 309.7 786.9 310.2 774.7 310.7 764.7 310.8 764.0 311.2 769.8 311.7 783.6 312.2 785.4 312.7 776.6 313.1 772.9 313.2 773.4 313.7 779.7 314.2 787.1 314.7 787.1 315.2 786.9 315.7 786.8 316.1 786.0 316.2 786.1 316.7 787.0 317.2 786.8 317.7 786.9 318.2 783.1 318.6 781.4 318.7 781.6 319.2 784.6 319.7 787.1 320.2 787.1 320.7 787.2 321.2 786.6 321.7 783.3 322.0 782.3 322.2 782.8 322.7 785.8 323.2 786.9 323.7 787.1 324.2 786.8 324.7 786.7 325.2 786.9 325.7 782.1 326.2 771.9 326.5 768.9 326.7 770.5 327.2 779.7 327.7 787.0 328.2 787.1 328.7 787.0 329.2 786.5 329.5 786.0 329.7 786.1 330.2 787.2 330.7 786.9 331.2 786.6 331.7 783.3 332.0 782.3 332.2 782.8 332.7 785.8 333.2 787.0 333.7 787.3 334.2 784.6 334.7 782.6 335.2 784.6 335.7 787.2 336.2 785.5 336.7 786.8 337.2 786.9 337.7 786.4 338.2 784.8 338.3 784.7 338.7 785.7 339.2 787.3 339.7 786.7 340.2 781.2 340.6 778.9 340.7 779.2 341.2 783.1 341.7 787.2 342.2 787.2 342.7 785.9 343.1 784.8 343.2 784.9 343.7 786.3 344.2 787.0 344.7 787.1 345.2 787.2 345.7 787.1 346.2 785.8 346.6 784.9 346.7 785.0 347.2 786.6 347.7 787.3 348.2 784.8 348.7 782.0 348.8 781.8 349.2 783.4 349.7 787.3 350.2 787.0 350.7 784.5 351.0 783.7 351.2 784.1 351.7 786.4 352.2 787.3 352.7 787.0 353.2 782.1 353.7 771.9 354.0 768.9 354.2 770.5 354.7 779.7 355.2 786.8 355.7 787.2 356.2 787.2 356.7 787.1 357.2 787.2 357.7 786.9 358.2 784.1 358.5 783.3 358.7 783.7 359.2 786.2 359.7 786.9 360.2 786.9 360.7 786.9 360.9 786.7 361.2 787.0 361.7 787.3 362.2 785.9 362.7 786.4 363.0 786.0 363.2 786.2 363.7 787.0 364.2 787.3 364.7 786.8 365.2 785.9 365.2 785.9 365.7 786.9 366.2 787.1 366.7 787.1 367.2 786.9 367.7 786.9 368.2 786.6 368.7 784.5 368.9 784.1 369.2 784.8 369.7 786.9 370.2 787.3 370.7 787.2 371.2 787.2 371.7 782.1 372.2 778.9 372.7 782.1 373.2 787.0 373.7 786.3 374.2 785.2 374.2 785.2 374.7 786.4 375.2 786.9 375.7 786.9 376.2 786.9 376.7 787.4 377.2 787.0 377.7 787.3 377.9 787.0 378.2 787.3 378.7 787.0 379.2 787.4 379.7 787.4 380.2 786.9 380.7 787.0 381.2 786.1 381.4 786.0 381.7 786.4 382.2 786.0 382.7 786.9 383.2 787.1 383.7 787.1 384.2 787.2 384.7 784.8 385.2 782.0 385.3 781.8 385.7 783.4 386.2 787.0 386.7 787.4 387.2 786.9 387.7 786.9 388.2 786.9 388.7 787.2 389.2 786.3 389.3 786.2 389.7 786.7 390.2 787.3 390.7 787.4 391.2 787.4 391.7 786.9 392.2 785.7 392.3 785.7 392.7 786.5 393.2 787.2 393.7 787.1 394.2 786.4 394.3 786.3 394.7 787.0 395.2 785.7 395.7 781.0 396.0 779.6 396.2 780.4 396.7 784.6 397.2 787.1 397.7 787.0 398.2 785.3 398.5 784.8 398.7 785.1 399.2 786.9 399.7 785.8 400.2 787.3 400.7 787.1 401.2 786.2 401.2 786.2 401.7 787.0 402.2 786.9 402.7 785.4 402.8 785.3 403.2 786.0 403.7 787.2 404.2 787.1 404.7 787.4 405.2 787.2 405.7 787.4 406.2 784.4 406.7 780.1 406.9 779.3 407.2 780.7 407.7 785.6 408.2 787.1 408.7 787.0 409.2 787.2 409.7 787.0 410.2 787.4 410.7 782.9 411.2 777.0 411.4 775.9 411.7 777.9 412.2 784.4 412.7 787.4 413.2 787.5 413.7 786.3 414.0 786.0 414.2 786.3 414.7 787.3 415.2 787.2 415.7 787.3 416.2 787.0 416.7 787.4 417.2 785.9 417.7 784.0 418.1 782.6 418.2 782.8 418.7 785.2 419.2 787.1 419.7 787.2 420.2 787.0 420.7 787.0 421.2 787.1 421.7 782.6 422.2 779.6 422.7 782.6 423.2 787.0 423.7 787.1 424.2 787.3 424.7 787.0 425.2 787.3 425.7 786.2 425.8 786.1 426.2 786.6 426.7 787.3 427.2 787.0 427.7 787.1 427.9 786.9 428.2 787.2 428.7 787.4 429.2 787.0 429.7 787.1 430.2 787.0 430.7 783.4 431.2 775.3 431.5 772.9 431.7 774.2 432.2 781.5 432.7 787.4 433.2 779.6 433.7 775.1 434.2 779.6 434.7 787.3 435.2 787.2 435.7 787.5 436.2 783.6 436.7 781.1 437.2 783.6 437.7 787.0 438.2 787.2 438.7 787.1 439.2 786.7 439.4 786.4 439.7 786.8 440.2 787.2 440.7 787.4 441.2 787.4 441.7 787.1 442.2 787.4 442.7 786.9 443.2 785.1 443.4 784.8 443.7 785.4 444.2 787.3 444.7 787.5 445.2 787.1 445.7 787.1 446.2 787.0 446.7 786.1 446.7 786.1 447.2 786.9 447.7 787.2 448.2 787.3 448.7 787.3 449.2 787.1 449.7 782.7 450.1 780.8 450.2 781.0 450.7 784.2 451.2 787.3 451.7 787.2 452.2 787.3 452.7 787.4 453.2 786.5 453.6 786.1 453.7 786.2 454.2 787.2 454.7 787.2 455.2 787.2 455.7 787.2 456.2 786.7 456.5 786.4 456.7 786.6 457.2 787.5 457.7 787.3 458.2 786.5 458.3 786.4 458.7 786.9 459.2 787.2 459.7 787.3 460.2 787.3 460.7 787.3 461.2 787.3 461.7 785.7 462.2 783.7 462.3 783.5 462.7 784.7 463.2 787.3 463.7 787.4 464.2 787.0 464.7 785.8 465.2 787.3 465.7 786.8 466.2 785.3 466.3 785.1 466.7 785.8 467.2 787.4 467.7 787.1 468.2 786.4 468.2 786.4 468.7 787.2 469.2 786.9 469.7 786.0 470.2 786.9 470.7 787.1 471.2 787.0 471.7 787.3 472.2 787.2 472.7 786.1 473.2 782.0 473.5 780.8 473.7 781.5 474.2 785.1 474.7 787.1 475.2 787.0 475.7 787.3 476.2 786.0 476.7 787.2 477.2 786.1 477.3 786.0 477.7 786.6 478.2 787.5 478.7 787.5 479.2 787.4 479.7 786.8 480.2 785.9 480.7 786.8 481.2 787.4 481.7 787.4 482.2 787.3 482.7 787.2 483.2 786.6 483.7 785.6 484.2 786.6 484.7 787.3 485.2 787.2 485.7 787.1 486.2 785.3 486.7 781.8 486.9 781.2 487.2 782.3 487.7 786.2 488.2 787.4 488.7 787.2 489.2 787.0 489.7 787.4 490.2 787.4 490.7 787.1 491.2 786.4 491.2 786.4 491.7 787.2 492.2 787.4 492.7 787.0 493.2 784.7 493.6 783.5 493.7 783.7 494.2 785.7 494.7 787.2 495.2 786.2 495.4 786.0 495.7 786.3 496.2 787.4 496.7 786.1 497.1 786.0 497.2 786.1 497.7 787.2 498.2 787.2 498.7 787.1 499.2 787.4 499.7 786.8 499.8 786.8 500.2 787.0 500.7 787.2 501.2 787.3 501.7 787.1 502.2 786.2 502.3 786.3 502.7 786.8 503.2 787.0 503.7 787.4 504.2 786.6 504.4 786.5 504.7 786.9 505.2 787.2 505.7 786.1 505.9 786.2 506.2 786.7 506.7 787.3 507.2 787.4 507.7 787.0 508.2 786.7 508.7 785.7 508.7 785.7 509.2 786.8 509.7 787.4 510.2 787.1 510.7 786.8 511.2 783.9 511.5 783.0 511.7 783.5 512.2 786.1 512.7 787.2 513.2 787.4 513.7 787.1 514.2 787.0 514.7 786.4 514.9 786.2 515.2 786.5 515.7 787.2 516.2 786.8 516.4 786.6 516.7 786.9 517.2 785.7 517.7 787.0 518.2 787.3 518.7 787.2 519.0 786.9 519.2 787.0 519.7 787.4 520.2 787.1 520.7 786.4 521.2 786.2 521.4 786.0 521.7 786.4 522.2 787.3 522.7 787.1 523.2 787.4 523.7 786.6 524.1 786.1 524.2 786.2 524.7 787.1 525.2 787.3 525.7 785.2 526.0 784.6 526.2 784.9 526.7 786.8 527.2 787.3 527.7 786.6 528.0 786.2 528.2 786.5 528.7 787.4 529.2 787.1 529.7 787.4 530.2 787.4 530.7 787.0 531.2 786.1 531.3 786.1 531.7 786.7 532.2 787.1 532.7 787.5 533.2 787.2 533.7 786.1 534.2 786.7 534.5 786.3 534.7 786.5 535.2 787.0 535.7 787.2 536.2 786.3 536.3 786.3 536.7 786.9 537.2 787.2 537.7 787.4 538.2 787.0 538.7 787.0 539.2 786.7 539.2 786.7 539.7 787.1 540.2 787.4 540.7 787.4 541.2 787.1 541.7 787.0 542.2 785.5 542.7 783.2 542.8 783.0 543.2 784.3 543.7 786.9 544.2 787.1 544.7 787.4 545.2 787.2 545.7 787.0 546.2 785.5 546.4 785.3 546.7 785.9 547.2 787.1 547.7 787.0 548.2 786.1 548.7 786.3 548.9 786.0 549.2 786.3 549.7 787.4 550.2 787.0 550.7 787.3 551.2 786.6 551.4 786.4 551.7 786.8 552.2 787.4 552.7 787.2 553.2 786.9 553.7 785.7 553.8 785.7 554.2 786.4 554.7 787.2 555.2 787.0 555.7 787.0 556.2 786.9 556.7 783.8 557.2 780.4 557.3 780.1 557.7 782.1 558.2 786.9 558.7 787.4 559.2 786.7 559.6 786.0 559.7 786.1 560.2 787.1 560.7 787.2 561.2 787.3 561.7 786.3 561.9 786.1 562.2 786.4 562.7 787.1 563.2 787.1 563.7 787.3 564.2 787.1 564.7 783.8 565.1 782.3 565.2 782.5 565.7 785.1 566.2 787.4 566.7 786.3 567.2 786.9 567.7 787.3 568.2 787.3 568.7 786.3 569.0 785.9 569.2 786.1 569.7 787.1 570.2 787.3 570.7 787.3 571.2 786.2 571.4 786.0 571.7 786.5 572.2 787.4 572.7 786.5 573.1 785.9 573.2 786.0 573.7 787.1 574.2 787.2 574.7 787.0 575.2 787.0 575.7 786.8 576.0 786.4 576.2 786.5 576.7 787.4 577.2 787.0 577.7 786.9 578.2 785.2 578.5 784.6 578.7 784.9 579.2 786.3 579.7 787.0 580.2 786.2 580.4 786.0 580.7 786.4 581.2 785.7 581.7 787.0 582.2 786.9 582.7 787.3 583.2 786.6 583.5 786.3 583.7 786.5 584.2 787.1 584.7 787.4 585.2 787.4 585.7 786.6 585.8 786.1 586.2 786.9 586.7 787.2 587.2 787.3 587.7 787.0 588.2 787.4 588.7 787.0 589.0 786.8 589.2 786.9 589.7 786.9 590.2 787.3 590.7 787.4 591.2 786.9 591.7 786.2 592.0 785.7 592.2 785.9 592.7 786.1 593.2 786.0 593.7 787.1 594.2 786.1 594.7 787.1 595.2 786.5 595.4 786.3 595.7 786.6 596.2 787.2 596.7 786.9 597.2 787.1 597.6 785.6 597.7 786.9 598.2 786.9 598.7 787.1 599.2 787.4 599.7 786.6 600.1 785.9 600.2 786.0 600.7 787.0 601.2 786.9 601.7 787.4 602.2 787.4 602.7 785.8 603.2 787.1 603.7 784.4 604.2 782.3 604.7 784.4 605.2 787.2 605.7 787.3 606.2 786.9 606.7 787.2 607.2 786.8 607.7 786.1 607.7 786.1 608.2 786.9 608.7 787.2 609.2 787.0 609.7 787.0 610.2 785.7 610.3 785.6 610.7 786.3 611.2 785.4 611.7 786.8 612.2 785.7 612.2 785.6 612.7 786.5 613.2 787.0 613.7 785.1 614.2 782.5 614.3 782.3 614.7 783.8 615.2 785.9 615.7 787.2 616.2 787.4 616.7 786.4 617.0 786.1 617.2 786.4 617.7 787.1 618.2 787.0 618.7 786.0 619.0 785.4 619.2 785.6 619.7 786.9 620.2 786.9 620.7 787.3 621.2 787.2 621.7 783.0 622.1 781.2 622.2 781.4 622.7 784.4 623.2 787.1 623.7 786.9 624.2 786.0 624.5 785.6 624.7 786.0 625.2 786.9 625.7 787.2 626.2 787.1 626.7 786.5 627.2 784.8 627.3 784.6 627.7 785.4 628.2 787.4 628.7 787.0 629.2 787.3 629.7 786.9 630.2 786.9 630.7 782.1 631.1 780.1 631.2 780.4 631.7 783.8 632.2 787.0 632.7 787.2 633.2 786.9 633.7 787.0 634.2 787.2 634.7 787.3 635.2 786.4 635.4 786.2 635.7 786.6 636.2 787.2 636.7 787.0 637.2 785.5 637.4 785.2 637.7 785.6 638.2 787.0 638.7 787.2 639.2 787.3 639.7 787.1 640.2 787.4 640.7 786.9 641.2 787.0 641.7 781.4 642.2 777.9 642.7 781.4 643.2 787.3 643.7 787.2 644.2 787.1 644.7 787.0 645.2 787.1 645.7 785.9 645.8 785.7 646.2 786.4 646.7 786.9 647.2 786.9 647.7 786.4 648.0 786.1 648.2 786.4 648.7 787.4 649.2 787.2 649.7 787.2 650.2 787.1 650.7 786.9 651.2 787.0 651.7 786.4 652.2 784.7 652.3 784.6 652.7 785.6 653.2 787.3 653.7 786.5 654.1 785.8 654.2 785.8 654.7 787.0 655.2 787.0 655.7 786.8 656.2 786.3 656.5 786.4 656.7 786.6 657.2 787.3 657.7 786.9 658.2 786.8 658.6 786.2 658.7 786.3 659.2 787.0 659.7 787.0 660.2 787.3 660.7 787.3 661.2 786.9 661.7 786.5 661.7 786.5 662.2 787.1 662.7 787.3 663.2 786.2 663.5 785.7 663.7 785.9 664.2 787.3 664.7 787.3 665.2 786.9 665.7 786.9 666.2 787.3 666.7 786.4 667.0 785.9 667.2 786.0 667.7 786.9 668.2 786.9 668.7 785.9 668.7 785.9 669.2 786.7 669.7 787.3 670.2 787.1 670.7 786.6 671.1 786.1 671.2 786.2 671.7 787.2 672.2 787.3 672.7 787.1 673.2 787.1 673.7 786.0 673.9 785.8 674.2 786.2 674.7 787.2 675.2 786.9 675.7 787.3 676.2 785.1 676.7 781.5 676.9 780.8 677.2 782.0 677.7 786.1 678.2 784.8 678.7 780.8 678.9 780.1 679.2 781.4 679.7 785.8 680.2 787.2 680.7 787.1 681.2 787.3 681.7 786.0 681.9 785.8 682.2 786.2 682.7 787.4 683.2 787.3 683.7 786.9 684.2 787.4 684.7 786.5 685.1 785.8 685.2 785.9 685.7 787.0 686.2 787.3 686.7 786.9 687.2 786.3 687.7 783.9 687.9 783.5 688.2 784.3 688.7 787.0 689.2 786.9 689.7 787.2 690.2 787.3 690.7 786.5 690.8 786.5 691.2 787.1 691.7 786.8 692.2 785.5 692.3 785.4 692.7 786.3 693.2 787.0 693.7 787.3 694.2 787.2 694.5 786.8 694.7 786.9 695.2 787.1 695.7 787.3 696.2 786.9 696.7 787.1 697.2 786.0 697.4 785.8 697.7 786.2 698.2 785.5 698.7 787.2 699.2 787.0 699.7 785.9 699.8 785.8 700.2 786.5 700.7 787.2 701.2 787.4 701.7 787.3 702.2 786.9 702.7 786.7 703.0 786.4 703.2 786.6 703.7 787.3 704.2 786.8 704.6 786.2 704.7 786.3 705.2 787.2 705.7 787.1 706.2 787.3 706.7 787.2 707.2 786.6 707.5 786.1 707.7 786.5 708.2 787.1 708.7 787.2 709.2 787.3 709.7 786.9 710.2 786.1 710.4 785.9 710.7 786.3 711.2 787.4 711.7 787.1 712.2 787.2 712.7 787.2 713.2 787.1 713.7 787.1 714.2 785.5 714.7 783.9 715.2 785.5 715.7 786.3 716.2 787.3 716.7 787.2 717.2 787.1 717.7 787.2 718.2 786.5 718.2 786.5 718.7 787.0 719.2 787.0 719.7 787.4 720.2 786.7 720.7 785.9 720.7 786.0 721.2 787.0 721.7 787.1 722.2 787.2 722.7 786.5 723.1 785.9 723.2 786.0 723.7 787.0 724.2 787.2 724.7 787.1 725.2 786.6 725.5 786.3 725.7 786.5 726.2 787.4 726.7 787.1 727.2 786.5 727.6 785.9 727.7 786.0 728.2 787.1 728.7 787.4 729.2 787.4 729.7 787.0 730.2 786.5 730.2 786.5 730.7 787.2 731.2 786.9 731.7 787.2 732.2 787.4 732.7 786.7 733.0 786.4 733.2 786.6 733.7 787.5 734.2 787.0 734.7 787.1 735.2 787.2 735.7 787.0 736.2 787.0 736.7 784.3 737.0 783.5 737.2 783.9 737.7 786.3 738.2 787.0 738.7 787.5 739.2 787.3 739.7 787.3 740.2 786.3 740.5 785.9 740.7 786.2 741.2 787.3 741.7 786.6 742.1 785.9 742.2 785.9 742.7 787.0 743.2 787.2 743.7 787.3 744.2 787.4 744.7 787.1 745.2 786.8 745.2 786.8 745.7 787.3 746.2 787.0 746.7 787.3 747.2 787.2 747.7 787.2 748.0 786.9 748.2 787.0 748.7 787.1 749.2 787.1 749.7 786.8 750.2 787.0 750.7 787.0 751.2 787.3 751.5 786.9 751.7 787.0 752.2 787.3 752.7 787.3 753.2 787.0 753.5 785.8 753.7 787.1 754.2 787.3 754.7 787.1 755.2 787.1 755.7 786.1 756.2 787.2 756.5 786.8 756.7 787.0 757.2 787.2 757.7 787.1 758.2 787.5 758.7 787.1 759.2 785.9 759.4 785.7 759.7 786.2 760.2 787.1 760.7 787.1 761.2 786.6 761.2 786.6 761.7 787.3 762.2 787.4 762.7 787.4 763.2 786.8 763.5 786.6 763.7 786.8 764.2 787.2 764.7 787.4 765.2 787.3 765.7 786.3 766.1 786.9 766.2 786.9 766.7 787.4 767.2 787.5 767.7 787.2 768.2 787.3 768.7 787.1 769.2 787.1 769.7 786.5 769.9 786.4 770.2 786.8 770.7 787.1 771.2 787.4 771.7 785.8 772.2 787.1 772.4 786.9 772.7 787.2 773.2 787.2 773.7 787.3 774.2 786.1 774.7 787.2 775.2 786.8 775.3 786.7 775.7 787.2 776.2 787.2 776.7 787.1 777.2 786.9 777.4 786.7 777.7 787.0 778.2 787.2 778.7 787.1 779.2 786.9 779.6 786.4 779.7 786.5 780.2 787.1 780.7 787.3 781.2 787.1 781.7 786.1 781.9 785.8 782.2 786.2 782.7 787.3 783.2 787.4 783.7 787.5 784.2 787.1 784.7 782.7 785.1 780.8 785.2 781.0 785.7 784.2 786.2 787.4 786.7 786.2 787.2 787.2 787.7 787.5 788.2 787.2 788.7 786.0 788.9 785.8 789.2 786.3 789.7 787.5 790.2 787.2 790.7 787.2 791.2 787.3 791.7 785.8 792.2 781.4 792.5 780.1 792.7 780.8 793.2 784.8 793.7 787.1 794.2 787.3 794.7 786.9 795.0 786.6 795.2 786.8 795.7 787.2 796.2 787.2 796.7 786.9 796.9 786.7 797.2 787.0 797.7 787.6 798.2 787.5 798.7 787.1 799.2 782.7 799.6 780.8 799.7 781.0 800.2 784.2 800.7 787.5 801.2 786.7 801.7 785.0 801.8 784.9 802.2 785.7 802.7 787.4 803.2 787.3 803.7 787.2 804.2 787.1 804.7 783.4 805.2 780.8 805.7 783.4 806.2 787.2 806.7 787.5 807.2 787.2 807.7 787.2 808.2 786.4 808.6 785.5 808.7 785.6 809.2 786.8 809.7 787.2 810.2 787.2 810.7 787.2 811.2 787.2 811.7 787.4 812.2 786.2 812.7 782.3 813.0 781.2 813.2 781.8 813.7 785.3 814.2 787.2 814.7 786.6 815.2 787.5 815.7 787.5 816.2 786.7 816.7 785.4 816.8 785.3 817.2 786.2 817.7 787.2 818.2 783.0 818.6 781.2 818.7 781.4 819.2 784.4 819.7 787.5 820.2 787.4 820.7 786.1 820.9 785.8 821.2 786.2 821.7 787.5 822.2 787.3 822.7 787.1 823.2 786.5 823.2 786.5 823.7 787.2 824.2 787.4 824.7 787.4 825.2 787.5 825.7 786.1 826.2 783.5 826.4 783.0 826.7 783.9 827.2 786.8 827.7 787.5 828.2 787.6 828.7 787.3 829.2 786.5 829.3 786.5 829.7 787.0 830.2 787.3 830.7 786.8 831.0 786.6 831.2 786.7 831.7 787.2 832.2 787.3 832.7 786.1 833.2 786.2 833.3 786.0 833.7 786.6 834.2 787.3 834.7 787.4 835.2 787.2 835.7 786.7 836.0 786.3 836.2 786.5 836.7 787.3 837.2 787.1 837.5 786.7 837.7 786.8 838.2 787.4 838.7 787.5 839.2 786.5 839.7 786.3 840.0 785.8 840.2 786.0 840.7 787.3 841.2 787.6 841.7 787.0 841.8 786.9 842.2 787.3 842.7 787.3 843.2 787.6 843.7 786.6 844.2 785.8 844.2 785.8 844.7 786.9 845.2 787.6 845.7 787.3 846.2 787.4 846.7 787.2 847.2 784.4 847.7 782.3 848.2 784.4 848.7 787.6 849.2 787.3 849.7 787.5 850.2 787.6 850.7 786.2 851.0 785.8 851.2 786.1 851.7 787.5 852.2 787.6 852.7 787.3 853.1 786.9 853.2 786.2 853.7 786.4 854.2 787.6 854.7 787.6 855.2 787.6 855.7 786.5 856.0 786.2 856.2 786.5 856.7 787.6 857.2 787.4 857.7 787.2 858.2 787.4 858.7 786.6 859.1 785.8 859.2 785.8 859.7 786.9 860.2 787.4 860.7 787.3 861.2 787.3 861.7 785.5 862.2 783.9 862.7 785.5 863.2 786.5 863.5 786.0 863.7 786.1 864.2 787.3 864.7 787.5 865.2 787.6 865.7 787.3 866.2 786.9 866.6 786.3 866.7 786.4 867.2 787.4 867.7 787.6 868.2 787.5 868.7 787.5 869.2 786.7 869.7 785.9 869.7 785.9 870.2 786.9 870.7 787.4 871.2 787.3 871.7 786.6 872.2 787.3 872.7 787.4 873.2 787.6 873.7 787.5 874.2 786.5 874.7 787.3 875.2 786.4 875.2 786.4 875.7 787.0 876.2 787.4 876.7 787.3 877.2 783.2 877.7 779.3 877.8 779.0 878.2 781.3 878.7 786.7 879.2 787.6 879.7 787.6 880.2 787.6 880.7 787.6 881.2 786.5 881.5 786.0 881.7 786.1 882.2 787.3 882.7 787.3 883.2 787.5 883.7 786.2 884.1 785.6 884.2 785.7 884.7 787.0 885.2 787.4 885.7 787.5 886.2 785.1 886.7 782.5 886.8 782.3 887.2 783.8 887.7 787.3 888.2 787.4 888.7 786.9 889.2 786.1 889.2 786.2 889.7 787.1 890.2 787.4 890.7 787.3 891.2 786.6 891.5 786.2 891.7 786.4 892.2 787.5 892.7 786.8 893.2 783.9 893.5 783.0 893.7 783.5 894.2 786.1 894.7 787.3 895.2 787.4 895.7 787.6 896.2 785.7 896.7 784.2 897.2 785.7 897.7 787.3 898.2 786.7 898.5 786.2 898.7 786.4 899.2 787.4 899.7 786.4 900.2 787.5 900.7 787.3 901.2 787.6 901.7 786.9 901.8 786.8 902.2 787.2 902.7 787.5 903.2 787.7 903.7 787.3 904.2 787.2 904.7 785.7 904.9 785.4 905.2 785.9 905.7 787.6 906.2 787.3 906.7 787.0 907.2 787.4 907.7 787.0 908.2 786.2 908.7 787.0 909.2 787.7 909.7 787.3 910.2 787.4 910.7 787.3 911.1 786.5 911.2 787.2 911.7 787.5 912.2 787.4 912.7 787.4 913.2 787.0 913.6 786.6 913.7 786.6 914.2 787.5 914.7 787.6 915.2 787.1 915.7 786.2 915.8 786.1 916.2 786.8 916.7 787.7 917.2 787.6 917.7 787.5 918.2 787.6 918.7 787.2 918.8 787.1 919.2 787.5 919.7 787.5 920.2 787.5 920.7 787.0 921.0 786.8 921.2 787.0 921.7 787.7 922.2 787.5 922.7 786.6 923.2 783.4 923.5 782.4 923.7 782.9 924.2 785.8 924.7 787.3 925.2 787.5 925.7 787.6 926.2 787.7 926.7 787.4 927.2 787.5 927.7 787.0 928.0 786.6 928.2 786.7 928.7 787.5 929.2 786.9 929.6 786.4 929.7 786.5 930.2 787.4 930.7 787.6 931.2 786.2 931.7 787.3 932.2 787.5 932.7 786.7 933.2 785.7 933.7 786.7 934.2 787.6 934.7 787.4 935.2 787.3 935.7 787.0 936.2 787.4 936.7 787.5 937.2 786.6 937.3 786.5 937.7 787.0 938.2 787.7 938.7 787.5 939.2 787.1 939.2 787.1 939.7 787.6 940.2 787.4 940.7 787.4 941.2 787.4 941.7 787.4 942.2 786.8 942.3 786.7 942.7 787.1 943.2 787.6 943.7 787.4 944.2 786.6 944.2 786.6 944.7 787.2 945.2 787.5 945.7 787.6 946.2 786.2 946.6 785.4 946.7 785.5 947.2 786.8 947.7 787.4 948.2 786.3 948.7 787.4 949.2 787.3 949.7 786.7 950.2 787.4 950.7 787.7 951.2 787.6 951.7 787.4 952.1 787.1 952.2 787.2 952.7 787.4 953.2 787.3 953.7 787.5 954.2 787.4 954.7 786.5 955.2 783.0 955.5 782.0 955.7 782.6 956.2 785.6 956.7 787.6 957.2 787.3 957.7 787.6 958.2 787.6 958.7 787.6 959.2 787.6 959.7 786.8 960.0 786.6 960.2 786.8 960.7 787.6 961.2 787.6 961.7 786.5 962.1 785.9 962.2 786.1 962.7 787.3 963.2 787.5 963.7 787.5 964.2 787.4 964.7 787.6 965.2 787.5 965.7 782.7 966.2 778.5 966.3 778.2 966.7 780.7 967.2 786.5 967.7 787.6 968.2 786.8 968.7 787.4 969.2 787.6 969.7 787.0 970.2 785.2 970.4 784.9 970.7 785.5 971.2 787.4 971.7 787.7 972.2 787.5 972.7 787.4 973.2 787.1 973.3 787.1 973.7 787.4 974.2 787.6 974.7 787.5 975.2 787.3 975.7 786.5 975.7 786.5 976.2 787.2 976.7 786.2 977.2 787.5 977.7 787.7 978.2 787.6 978.7 786.6 979.2 786.6 979.4 786.4 979.7 786.8 980.2 787.4 980.7 787.7 981.2 787.4 981.7 787.4 982.2 787.3 982.7 787.5 983.2 787.7 983.7 787.3 983.9 787.1 984.2 787.3 984.7 787.4 985.2 787.6 985.7 787.0 985.7 787.0 986.2 787.5 986.7 787.5 987.2 787.2 987.2 787.2 987.7 787.5 988.2 787.6 988.7 787.3 989.2 787.1 989.4 787.0 989.7 787.3 990.2 787.7 990.7 787.3 991.2 787.5 991.7 786.5 991.9 786.4 992.2 786.8 992.7 787.4 993.2 786.8 993.7 787.6 994.2 786.3 994.7 787.0 995.0 786.7 995.2 786.9 995.7 786.5 996.2 787.7 996.7 787.4 997.2 786.6 997.3 786.5 997.7 787.1 998.2 787.7 998.7 787.3 999.2 787.2 999.5 786.9 999.7 787.0 1000.2 787.5 1000.7 787.4 1001.2 787.4 1001.7 787.4 1002.2 787.2 1002.2 787.2 1002.7 787.6 1003.2 787.5 1003.7 787.5 1004.2 787.6 1004.7 786.7 1005.2 785.8 1005.2 785.8 1005.7 786.8 1006.2 786.1 1006.7 783.5 1006.9 783.0 1007.2 783.9 1007.7 786.8 1008.2 787.5 1008.7 787.4 1009.2 787.5 1009.7 786.9 1010.1 786.3 1010.2 786.3 1010.7 787.2 1011.2 787.6 1011.7 787.4 1012.2 787.6 1012.7 787.3 1013.2 786.2 1013.5 785.9 1013.7 786.2 1014.2 787.3 1014.7 786.3 1014.8 786.2 1015.2 786.8 1015.7 786.3 1016.2 787.5 1016.7 786.3 1016.9 786.1 1017.2 786.5 1017.7 787.5 1018.2 785.8 1018.7 782.9 1018.9 782.4 1019.2 783.4 1019.7 786.6 1020.2 786.2 1020.7 787.5 1021.2 787.4 1021.7 787.7 1022.2 786.6 1022.5 786.7 1022.7 786.9 1023.2 787.4 1023.7 787.7 1024.2 787.2 1024.7 786.3 1024.7 786.3 1025.2 786.5 1025.7 787.7 1026.2 787.5 1026.7 787.6 1027.2 787.1 1027.2 787.2 1027.7 787.5 1028.2 787.6 1028.7 787.7 1029.2 787.2 1029.7 784.9 1030.0 784.2 1030.2 784.6 1030.7 786.6 1031.2 787.4 1031.7 787.7 1032.2 786.8 1032.4 786.7 1032.7 787.0 1033.2 787.5 1033.7 787.6 1034.2 787.4 1034.7 787.5 1035.2 787.1 1035.4 786.9 1035.7 786.2 1036.2 786.8 1036.4 786.6 1036.7 786.9 1037.2 787.5 1037.7 787.4 1038.2 787.4 1038.7 787.4 1039.2 787.7 1039.7 787.5 1040.2 787.4 1040.7 784.9 1041.2 783.0 1041.7 784.9 1042.2 786.9 1042.7 787.7 1043.2 787.6 1043.7 787.2 1044.2 786.5 1044.2 786.5 1044.7 787.3 1045.2 787.7 1045.7 787.5 1046.2 787.5 1046.7 787.4 1047.0 788.7Z"/>
<path d="M132.9 980.6H1047V979.0H132.9Z"/>
</g>
<g fill="none" stroke="#000" stroke-width="2.9" stroke-linejoin="round" stroke-linecap="round">
<path d="M133.2 832.7 L134.0 845.3 L135.4 876.6 L137.7 876.6 L139.9 884.1 L142.2 884.1 L144.4 872.1 L146.6 859.5 L148.6 875.1 L150.0 859.0 L151.8 858.4 L154.1 882.6 L155.6 884.1 L157.8 871.4 L159.6 872.9 L162.0 884.1 L163.8 853.5 L166.4 849.0 L169.0 869.2 L171.2 880.3 L174.2 882.6 L176.4 884.1 L179.4 867.4 L181.6 879.6 L183.4 878.1 L185.4 840.9 L188.3 879.6 L191.3 881.1 L195.8 884.1 L198.3 847.6 L201.0 878.8 L203.2 868.4 L205.5 884.1 L209.2 870.7 L212.2 884.1 L215.2 872.1 L217.1 882.6 L219.2 867.4 L221.6 878.1 L223.3 884.1 L225.9 872.9 L227.8 884.1 L230.8 879.6 L233.8 850.5 L236.8 884.1 L239.0 852.0 L240.5 869.2 L242.0 853.5 L244.9 850.5 L247.2 869.2 L248.4 864.7 L250.2 882.6 L252.4 869.2 L253.9 882.6 L255.8 860.2 L258.8 847.6 L261.3 879.6 L263.6 877.4 L265.1 883.3 L267.7 864.7 L270.3 882.6 L274.3 855.8 L277.0 864.7 L278.5 881.1 L281.1 864.4 L284.4 884.1 L287.0 877.5 L290.0 869.3 L293.7 867.8 L297.1 884.2 L299.6 867.0 L302.2 854.8 L304.1 880.4 L306.0 848.4 L307.8 861.1 L310.5 884.2 L313.0 868.5 L315.6 845.9 L317.5 871.5 L319.5 864.1 L322.4 884.2 L326.5 876.7 L329.9 848.4 L333.2 881.2 L336.1 880.4 L340.6 864.8 L343.6 869.3 L346.6 884.2 L351.8 882.7 L355.5 865.5 L359.2 880.4 L362.2 884.2 L365.9 880.4 L369.7 884.2 L372.6 867.8 L375.6 883.4 L379.3 883.4 L381.6 873.7 L385.0 837.5 L387.5 877.5 L389.8 877.5 L392.0 884.2 L395.0 883.4 L398.0 812.2 L400.5 870.0 L402.4 857.4 L404.7 883.4 L408.4 867.8 L410.3 882.7 L412.4 873.0 L415.4 831.3 L418.1 884.9 L420.3 859.6 L422.8 848.4 L425.2 884.2 L428.2 851.4 L431.5 884.2 L433.7 866.3 L435.2 877.5 L437.4 868.5 L440.4 884.2 L443.0 882.6 L446.7 871.4 L448.9 884.1 L451.6 859.5 L453.4 855.8 L456.1 852.5 L458.2 882.6 L460.1 873.6 L462.3 883.3 L464.6 864.7 L466.1 853.5 L468.6 847.6 L471.0 876.6 L472.5 884.1 L475.8 884.1 L479.0 873.6 L482.2 868.4 L484.7 884.1 L489.9 872.1 L492.1 884.1 L495.4 878.8 L498.1 884.1 L502.6 869.9 L505.5 883.3 L510.0 883.3 L516.0 877.4 L520.4 881.1 L524.9 883.3 L529.4 877.4 L533.9 878.8 L537.6 883.3 L541.0 872.1 L543.5 876.6 L545.8 875.1 L549.5 883.3 L552.5 880.3 L555.5 883.3 L558.0 869.9 L561.4 882.6 L565.9 880.3 L569.6 883.3 L575.6 876.3 L578.5 883.3 L581.5 877.4 L584.5 883.3 L587.5 876.6 L590.5 883.3 L592.7 872.1 L595.7 882.6 L598.7 876.6 L600.7 884.0 L602.7 878.6 L604.9 883.5 L607.2 882.6 L609.4 877.5 L611.5 883.8 L613.6 881.2 L615.7 872.5 L617.9 884.4 L620.2 881.8 L622.4 875.2 L624.6 883.7 L626.9 881.3 L629.1 862.9 L631.8 883.9 L634.4 873.0 L636.9 884.4 L639.3 882.6 L641.8 876.3 L644.0 884.5 L646.3 881.5 L648.5 877.5 L651.1 884.2 L653.7 882.9 L656.3 879.7 L658.5 884.4 L660.8 883.4 L663.0 881.0 L665.5 884.4 L668.0 883.2 L670.6 884.3 L673.1 880.8 L676.1 884.2 L679.0 881.3 L682.0 879.7 L685.0 884.4 L688.0 881.5 L690.5 884.3 L692.9 882.9 L695.4 868.5 L698.2 884.3 L701.0 880.0 L703.2 883.7 L705.5 882.4 L707.7 861.8 L709.9 884.1 L712.2 882.6 L714.4 875.2 L716.7 883.6 L719.0 880.0 L721.8 884.1 L724.5 876.3 L726.8 884.0 L729.0 881.0 L731.8 883.9 L734.5 876.3 L736.8 883.8 L739.0 880.0 L741.8 883.8 L744.6 877.5 L747.3 883.6 L750.0 881.0 L752.9 883.9 L755.8 870.8 L758.6 884.1 L761.4 874.1 L763.6 884.1 L765.9 882.1 L768.1 871.9 L771.0 884.3 L774.0 878.0 L776.6 884.4 L779.2 868.5 L781.5 884.4 L783.7 866.3 L786.0 884.0 L788.2 868.5 L790.4 884.2 L792.6 870.8 L795.4 883.7 L798.2 869.6 L800.4 884.0 L802.7 882.3 L804.9 866.3 L807.1 884.0 L809.4 881.2 L811.6 878.6 L814.2 883.6 L816.9 881.7 L819.5 879.7 L822.5 884.4 L825.4 881.6 L828.4 880.8 L830.8 884.2 L833.1 881.0 L835.3 884.4 L837.6 883.4 L839.8 880.0 L841.9 884.3 L843.9 882.4 L846.0 873.8 L848.3 883.9 L850.6 882.9 L852.9 876.9 L855.8 883.6 L858.7 875.2 L861.1 884.0 L863.4 881.8 L865.8 882.0 L867.9 884.3 L870.0 880.0 L872.4 883.7 L874.7 878.9 L876.9 884.2 L879.0 881.0 L881.4 884.1 L883.7 878.9 L885.5 884.5 L887.4 872.8 L889.7 883.9 L892.0 880.0 L894.3 883.8 L896.6 879.3 L898.8 883.9 L901.0 881.0 L903.9 884.4 L906.8 878.9 L908.9 884.1 L910.9 883.0 L913.0 873.8 L915.0 883.7 L917.1 882.7 L919.1 871.7 L921.4 883.5 L923.6 881.7 L925.9 870.7 L928.0 883.8 L930.0 877.0 L932.2 883.9 L934.5 871.7 L936.9 884.2 L939.2 881.7 L941.6 876.5 L943.9 883.5 L946.1 882.6 L948.4 872.8 L950.6 883.8 L952.8 882.9 L955.0 873.8 L957.0 883.7 L959.1 882.9 L961.1 882.0 L963.5 883.8 L965.9 881.5 L968.3 862.1 L970.4 884.1 L972.5 880.0 L974.8 884.5 L977.1 878.5 L979.4 883.9 L981.6 869.7 L984.3 884.3 L987.0 880.0 L989.7 884.1 L992.4 865.6 L994.6 884.3 L996.8 882.9 L999.0 881.0 L1001.2 883.8 L1003.5 882.3 L1005.7 874.8 L1008.4 884.3 L1011.0 881.0 L1013.1 884.5 L1015.3 881.2 L1017.4 877.3 L1019.6 884.0 L1021.8 881.8 L1024.0 881.0 L1026.6 883.7 L1029.2 881.1 L1031.8 871.7 L1033.9 884.4 L1035.9 883.3 L1038.0 881.0 L1040.0 883.8 L1042.1 881.5 L1044.1 880.0 L1047.0 883.5"/>
<path d="M132.9 980.6 L132.9 973.3 L135.5 980.4 L138.1 977.8 L140.3 980.1 L142.5 977.8 L145.3 980.5 L148.1 978.2 L150.6 980.1 L153.0 977.3 L155.5 979.7 L157.9 978.3 L160.4 977.1 L163.4 979.8 L166.4 976.0 L168.8 979.8 L171.1 972.6 L173.3 980.4 L175.4 979.4 L177.6 971.5 L179.6 980.4 L181.6 973.7 L184.4 980.0 L187.2 967.0 L188.9 979.9 L190.6 961.5 L191.9 980.4 L193.3 976.0 L196.1 979.9 L198.9 978.2 L201.7 978.7 L204.2 980.1 L206.8 978.3 L209.3 980.5 L211.8 978.2 L214.4 980.0 L216.9 971.1 L219.4 979.6 L221.9 979.3 L224.7 980.5 L227.5 977.9 L230.3 972.0 L232.7 980.1 L235.1 977.7 L237.5 977.1 L240.3 980.2 L243.1 972.0 L244.1 979.8 L245.0 973.3 L248.2 978.9 L251.3 973.3 L253.3 960.7 L254.9 979.7 L256.8 959.9 L258.8 967.0 L260.4 963.9 L263.9 978.1 L266.3 910.6 L268.3 975.7 L268.7 952.0 L271.4 920.9 L273.4 961.5 L274.6 955.2 L276.5 978.1 L278.9 952.8 L280.5 978.1 L282.1 965.5 L282.9 975.7 L284.4 936.7 L286.0 938.6 L288.0 970.2 L290.0 978.9 L293.9 972.6 L296.3 978.9 L299.4 978.1 L304.1 971.4 L306.5 980.1 L308.8 978.9 L311.1 980.3 L313.5 977.1 L315.7 980.2 L317.9 971.1 L320.3 979.7 L322.7 978.8 L325.1 965.9 L327.6 980.2 L330.2 971.1 L332.4 980.3 L334.7 979.1 L336.9 979.8 L339.2 978.7 L341.9 980.5 L344.6 978.2 L347.2 979.9 L349.9 978.8 L352.6 969.7 L355.4 979.8 L358.2 976.0 L360.8 979.9 L363.4 977.9 L366.0 972.0 L368.3 980.6 L370.7 977.7 L373.0 973.6 L375.7 979.8 L378.5 977.4 L381.2 970.9 L383.7 980.2 L386.1 978.9 L388.6 980.4 L391.0 977.8 L393.5 972.0 L396.3 979.7 L399.1 973.6 L401.6 980.5 L404.0 978.3 L406.5 969.8 L409.4 980.2 L412.3 979.2 L415.2 979.7 L418.1 974.7 L421.1 980.1 L424.0 978.5 L427.0 975.8 L429.5 979.8 L432.1 977.5 L434.6 979.8 L437.1 975.8 L439.6 979.7 L442.0 979.2 L444.5 979.9 L446.9 978.6 L449.4 976.9 L452.4 980.3 L455.3 978.1 L458.3 976.9 L461.2 979.7 L464.1 979.0 L467.0 980.4 L469.9 973.6 L472.4 980.3 L475.0 977.2 L477.5 980.5 L480.0 978.3 L482.6 980.5 L485.1 978.0 L487.8 980.5 L490.5 979.5 L493.1 980.5 L495.8 978.5 L498.5 978.0 L501.2 980.1 L503.9 977.2 L506.6 980.2 L509.4 978.4 L512.1 980.3 L514.8 979.5 L517.5 973.6 L520.3 980.3 L523.1 976.9 L525.9 979.9 L528.7 977.5 L531.5 980.6 L534.3 976.5 L536.8 979.7 L539.2 977.9 L541.7 980.4 L544.1 978.0 L546.6 977.4 L549.1 980.1 L551.6 979.5 L554.1 979.8 L556.6 978.0 L559.0 980.3 L561.3 977.4 L563.6 979.8 L566.0 965.3 L568.8 980.1 L571.7 979.5 L574.5 976.9 L576.8 980.4 L579.0 979.6 L581.2 979.9 L583.5 976.9 L586.0 980.5 L588.4 977.7 L590.9 979.7 L593.3 977.3 L595.8 975.8 L596.8 980.5 L597.8 975.8 L600.7 980.4 L603.6 979.0 L606.5 979.9 L609.4 979.5 L612.3 976.9 L614.8 980.5 L617.2 978.6 L619.7 979.8 L622.1 978.1 L624.6 972.0 L627.5 980.5 L630.3 978.5 L633.2 980.0 L636.1 979.6 L639.0 980.2 L641.8 978.8 L644.7 976.9 L647.2 980.0 L649.6 977.6 L652.1 980.5 L654.5 978.9 L657.0 977.4 L659.8 979.9 L662.6 974.7 L664.8 979.8 L667.1 978.3 L669.3 974.7 L672.0 980.3 L674.6 979.5 L677.3 980.4 L680.0 978.9 L682.6 980.1 L685.3 979.5 L687.9 980.2 L690.6 978.0 L693.5 980.3 L696.3 978.7 L699.2 979.9 L702.1 977.4 L705.0 980.1 L707.8 977.9 L710.7 974.7 L713.5 980.6 L716.2 978.4 L719.0 980.3 L721.8 976.5 L724.6 980.6 L727.5 977.3 L730.3 980.2 L733.2 978.7 L736.0 980.5 L738.8 979.0 L741.7 980.3 L744.5 977.9 L747.3 980.0 L750.2 978.1 L753.0 980.3 L755.9 977.5 L758.7 972.5 L761.4 979.8 L764.0 978.9 L766.6 980.5 L769.3 977.8 L772.0 980.4 L774.6 977.7 L777.2 980.5 L779.9 976.9 L782.9 980.1 L785.9 978.4 L788.9 979.8 L791.9 979.6 L794.8 979.9 L797.8 979.0 L800.8 980.4 L803.8 978.8 L806.8 965.8 L809.5 980.1 L812.2 979.3 L814.8 979.7 L817.5 978.6 L820.2 976.9 L823.1 980.4 L825.9 978.6 L828.8 979.9 L831.7 979.5 L834.5 980.3 L837.4 978.9 L840.3 979.6 L843.1 978.2 L846.0 980.2 L848.9 977.3 L851.7 980.5 L854.6 973.6 L857.1 980.2 L859.5 977.7 L862.0 980.1 L864.4 977.8 L866.9 977.4 L869.9 979.6 L872.9 979.2 L875.8 979.8 L878.8 977.8 L881.8 980.0 L884.8 975.8 L887.6 980.5 L890.4 977.6 L893.2 979.8 L896.0 972.5 L898.2 980.3 L900.5 977.7 L902.7 973.6 L905.5 980.1 L908.3 977.5 L911.1 980.0 L913.9 975.8 L916.9 980.5 L919.8 977.2 L922.8 980.2 L925.8 977.7 L928.7 980.2 L931.7 976.5 L934.5 979.8 L937.3 978.1 L940.1 980.0 L942.9 975.8 L945.5 979.9 L948.1 977.8 L950.7 973.6 L953.6 979.7 L956.5 978.8 L959.5 980.5 L962.4 979.1 L965.3 977.4 L968.1 979.8 L970.8 979.5 L973.6 980.1 L976.4 972.9 L978.9 979.7 L981.5 978.8 L984.0 980.3 L986.5 975.8 L989.0 980.5 L991.4 977.2 L993.9 980.2 L996.3 978.3 L998.8 974.2 L1001.6 980.6 L1004.3 979.0 L1007.1 980.5 L1009.9 977.4 L1012.7 980.1 L1015.5 977.8 L1018.3 979.8 L1021.1 978.7 L1023.9 980.1 L1026.7 979.0 L1029.5 980.6 L1032.3 978.0 L1035.1 979.8 L1037.9 978.0 L1040.7 980.2 L1043.5 977.4 L1047.0 979.6"/>
</g>
<g fill="none" stroke="#000" stroke-width="2" stroke-linecap="round">
<rect x="84.90" y="18.70" width="962.60" height="962.50"/>
<path d="M133.03 981.20V973.20M133.03 18.70V26.70M181.16 981.20V973.20M181.16 18.70V26.70M229.29 981.20V973.20M229.29 18.70V26.70M277.42 981.20V973.20M277.42 18.70V26.70M325.55 981.20V965.20M325.55 18.70V34.70M373.68 981.20V973.20M373.68 18.70V26.70M421.81 981.20V973.20M421.81 18.70V26.70M469.94 981.20V973.20M469.94 18.70V26.70M518.07 981.20V973.20M518.07 18.70V26.70M566.20 981.20V965.20M566.20 18.70V34.70M614.33 981.20V973.20M614.33 18.70V26.70M662.46 981.20V973.20M662.46 18.70V26.70M710.59 981.20V973.20M710.59 18.70V26.70M758.72 981.20V973.20M758.72 18.70V26.70M806.85 981.20V965.20M806.85 18.70V34.70M854.98 981.20V973.20M854.98 18.70V26.70M903.11 981.20V973.20M903.11 18.70V26.70M951.24 981.20V973.20M951.24 18.70V26.70M999.37 981.20V973.20M999.37 18.70V26.70M84.90 942.70H92.90M1047.50 942.70H1039.50M84.90 904.20H92.90M1047.50 904.20H1039.50M84.90 865.70H92.90M1047.50 865.70H1039.50M84.90 827.20H92.90M1047.50 827.20H1039.50M84.90 788.70H100.90M1047.50 788.70H1031.50M84.90 750.20H92.90M1047.50 750.20H1039.50M84.90 711.70H92.90M1047.50 711.70H1039.50M84.90 673.20H92.90M1047.50 673.20H1039.50M84.90 634.70H92.90M1047.50 634.70H1039.50M84.90 596.20H100.90M1047.50 596.20H1031.50M84.90 557.70H92.90M1047.50 557.70H1039.50M84.90 519.20H92.90M1047.50 519.20H1039.50M84.90 480.70H92.90M1047.50 480.70H1039.50M84.90 442.20H92.90M1047.50 442.20H1039.50M84.90 403.70H100.90M1047.50 403.70H1031.50M84.90 365.20H92.90M1047.50 365.20H1039.50M84.90 326.70H92.90M1047.50 326.70H1039.50M84.90 288.20H92.90M1047.50 288.20H1039.50M84.90 249.70H92.90M1047.50 249.70H1039.50M84.90 211.20H100.90M1047.50 211.20H1031.50M84.90 172.70H92.90M1047.50 172.70H1039.50M84.90 134.20H92.90M1047.50 134.20H1039.50M84.90 95.70H92.90M1047.50 95.70H1039.50M84.90 57.20H92.90M1047.50 57.20H1039.50"/>
</g>
<g font-family="Liberation Mono, monospace" font-size="37" fill="#000">
<text x="590.0" y="95.5" textLength="239.0" lengthAdjust="spacingAndGlyphs">SW Sex (NL)</text>
<text x="589.0" y="191.7" textLength="242.0" lengthAdjust="spacingAndGlyphs">BH Lyn (NL)</text>
<text x="591.4" y="288.0" textLength="264.4" lengthAdjust="spacingAndGlyphs">V841 Oph (N)</text>
<text x="591.0" y="384.2" textLength="215.1" lengthAdjust="spacingAndGlyphs">GI Mon (N)</text>
<text x="591.0" y="480.5" textLength="209.1" lengthAdjust="spacingAndGlyphs">CT Ser (N)</text>
<text x="590.0" y="576.7" textLength="226.1" lengthAdjust="spacingAndGlyphs">RW Tri (NL)</text>
<text x="589.0" y="673.0" textLength="235.0" lengthAdjust="spacingAndGlyphs">FY Per (NL)</text>
<text x="591.0" y="769.2" textLength="237.3" lengthAdjust="spacingAndGlyphs">SS Cyg (DN)</text>
<text x="590.0" y="865.5" textLength="245.0" lengthAdjust="spacingAndGlyphs">HX Peg (DN)</text>
<text x="591.0" y="961.7" textLength="241.3" lengthAdjust="spacingAndGlyphs">SY Cnc (DN)</text>
</g>
<g font-family="Liberation Serif, serif" font-weight="bold" font-size="27" fill="#000">
<text transform="translate(63.2 990.2) scale(1.20 1)" text-anchor="middle">0</text>
<text transform="translate(63.2 797.7) scale(0.85 1)" text-anchor="middle">1</text>
<text transform="translate(63.2 605.2) scale(1.20 1)" text-anchor="middle">2</text>
<text transform="translate(63.2 412.7) scale(1.20 1)" text-anchor="middle">3</text>
<text transform="translate(63.2 220.2) scale(1.20 1)" text-anchor="middle">4</text>
<text transform="translate(63.2 27.7) scale(1.20 1)" text-anchor="middle">5</text>
<text transform="translate(85.30 1013) scale(1.15 1)" text-anchor="middle">0</text>
<text transform="translate(325.35 1013) scale(1.17 1)" text-anchor="middle">0.05</text>
<text transform="translate(565.00 1013) scale(1.06 1)" text-anchor="middle">0.1</text>
<text transform="translate(807.25 1013) scale(1.13 1)" text-anchor="middle">0.15</text>
<text transform="translate(1047.70 1013) scale(1.18 1)" text-anchor="middle">0.2</text>
</g>
<g font-family="Liberation Mono, monospace" font-size="37" fill="#000">
<text x="437" y="1063" textLength="260.4" lengthAdjust="spacingAndGlyphs">Freq (1/day)</text>
<text transform="translate(36,681) rotate(-90)" x="0" y="0" textLength="363" lengthAdjust="spacingAndGlyphs">Normalized Power</text>
</g>
</svg>
</body></html>
